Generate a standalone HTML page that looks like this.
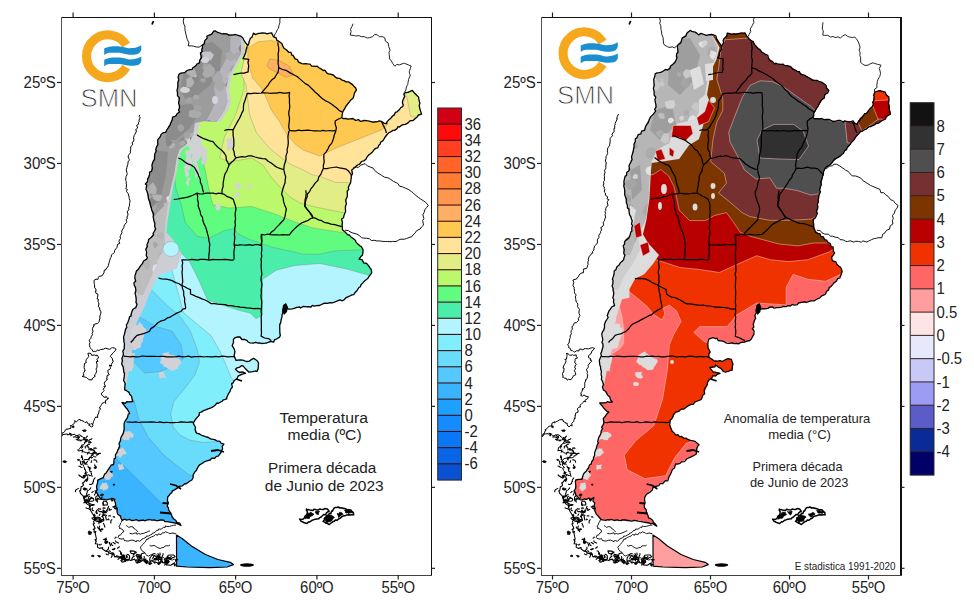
<!DOCTYPE html>
<html><head><meta charset="utf-8"><style>
html,body{margin:0;padding:0;background:#fff;}
svg{display:block;}
text{font-family:"Liberation Sans",sans-serif;fill:#222;}
.ax{font-size:16px;}
.cb{font-size:16px;}
.smn{font-size:26.5px;fill:#333;}
.t1{font-size:15.2px;}
.t2{font-size:13.5px;}
.st{font-size:10px;}
</style></head><body>
<svg width="974" height="610" viewBox="0 0 974 610">
<defs>
<clipPath id="clipL"><polygon points="202.3,45.0 207.7,36.8 214.9,30.5 221.6,33.9 238.6,35.2 242.5,38.5 247.1,45.7 253.0,33.9 271.4,33.3 273.4,36.6 279.3,41.8 284.5,48.4 292.1,54.4 301.0,63.3 317.2,66.2 329.0,73.6 339.3,78.8 352.6,83.9 357.0,89.8 352.6,97.2 346.7,106.1 342.3,113.4 340.8,117.9 352.6,119.3 360.0,120.8 381.8,121.6 386.4,123.9 388.7,119.3 402.5,106.7 404.5,92.2 412.6,90.7 418.5,96.6 420.8,113.6 415.1,119.3 400.2,126.2 388.7,133.1 384.1,138.9 372.6,152.6 358.9,164.1 353.1,168.7 350.8,177.9 348.5,189.3 346.2,201.5 345.1,213.0 341.6,219.8 342.8,230.2 349.7,235.9 361.2,247.4 363.4,253.1 360.0,258.9 368.0,265.7 371.5,271.5 370.3,276.1 361.2,284.1 354.3,294.0 344.0,299.5 330.0,303.0 317.5,305.5 299.0,307.5 287.4,309.5 283.9,306.1 281.6,317.5 279.3,329.0 280.5,335.9 273.6,341.6 262.1,343.9 248.4,341.6 237.7,336.9 232.8,339.8 232.8,345.7 234.8,351.7 234.3,356.6 236.8,359.5 242.7,361.0 248.6,361.5 251.5,359.0 256.4,359.0 258.4,363.5 258.4,369.4 254.5,371.8 249.6,371.3 246.6,368.4 241.7,365.4 235.8,368.4 237.7,371.3 245.6,372.8 238.7,376.3 232.8,382.2 230.9,389.0 226.1,399.3 210.4,407.2 199.9,412.5 193.4,423.0 197.3,433.4 210.4,438.7 223.5,443.9 220.9,454.4 210.4,459.7 199.9,464.9 195.0,472.0 191.4,480.0 184.0,484.0 177.4,487.8 171.0,493.0 168.0,497.0 167.5,503.0 168.0,508.0 172.7,517.4 180.5,525.2 163.3,520.5 122.9,519.8 116.8,511.3 115.1,498.4 101.3,499.3 96.2,492.4 97.0,480.3 102.6,478.4 114.1,462.0 119.0,445.6 123.9,429.2 125.6,419.3 130.5,412.8 122.3,403.0 133.8,401.3 132.1,396.4 125.6,389.8 123.9,380.0 124.0,374.0 121.8,360.0 124.5,347.0 124.0,334.0 128.0,322.0 131.8,311.0 136.5,305.0 135.2,290.2 134.8,281.0 136.9,271.8 141.5,264.9 147.2,258.0 146.1,248.9 148.4,239.7 153.0,235.1 155.2,228.2 154.1,219.0 150.7,207.5 147.2,193.8 146.3,183.4 151.6,168.7 155.3,154.0 158.5,139.0 167.2,129.5 173.1,117.7 179.0,111.8 178.9,100.0 177.1,85.5 178.9,74.7 191.5,69.3 200.5,60.3"/><polygon points="176.5,535.0 182.1,538.5 191.4,546.0 205.4,554.5 217.9,559.5 230.3,562.3 233.4,564.6 227.2,567.0 210.0,567.7 186.7,567.0 176.6,566.2"/></clipPath>
<clipPath id="clipR"><polygon points="202.3,45.0 207.7,36.8 214.9,30.5 221.6,33.9 238.6,35.2 242.5,38.5 247.1,45.7 253.0,33.9 271.4,33.3 273.4,36.6 279.3,41.8 284.5,48.4 292.1,54.4 301.0,63.3 317.2,66.2 329.0,73.6 339.3,78.8 352.6,83.9 357.0,89.8 352.6,97.2 346.7,106.1 342.3,113.4 340.8,117.9 352.6,119.3 360.0,120.8 381.8,121.6 386.4,123.9 388.7,119.3 402.5,106.7 404.5,92.2 412.6,90.7 418.5,96.6 420.8,113.6 415.1,119.3 400.2,126.2 388.7,133.1 384.1,138.9 372.6,152.6 358.9,164.1 353.1,168.7 350.8,177.9 348.5,189.3 346.2,201.5 345.1,213.0 341.6,219.8 342.8,230.2 349.7,235.9 361.2,247.4 363.4,253.1 360.0,258.9 368.0,265.7 371.5,271.5 370.3,276.1 361.2,284.1 354.3,294.0 344.0,299.5 330.0,303.0 317.5,305.5 299.0,307.5 287.4,309.5 283.9,306.1 281.6,317.5 279.3,329.0 280.5,335.9 273.6,341.6 262.1,343.9 248.4,341.6 237.7,336.9 232.8,339.8 232.8,345.7 234.8,351.7 234.3,356.6 236.8,359.5 242.7,361.0 248.6,361.5 251.5,359.0 256.4,359.0 258.4,363.5 258.4,369.4 254.5,371.8 249.6,371.3 246.6,368.4 241.7,365.4 235.8,368.4 237.7,371.3 245.6,372.8 238.7,376.3 232.8,382.2 230.9,389.0 226.1,399.3 210.4,407.2 199.9,412.5 193.4,423.0 197.3,433.4 210.4,438.7 223.5,443.9 220.9,454.4 210.4,459.7 199.9,464.9 195.0,472.0 191.4,480.0 184.0,484.0 177.4,487.8 171.0,493.0 168.0,497.0 167.5,503.0 168.0,508.0 172.7,517.4 180.5,525.2 163.3,520.5 122.9,519.8 116.8,511.3 115.1,498.4 101.3,499.3 96.2,492.4 97.0,480.3 102.6,478.4 114.1,462.0 119.0,445.6 123.9,429.2 125.6,419.3 130.5,412.8 122.3,403.0 133.8,401.3 132.1,396.4 125.6,389.8 123.9,380.0 124.0,374.0 121.8,360.0 124.5,347.0 124.0,334.0 128.0,322.0 131.8,311.0 136.5,305.0 135.2,290.2 134.8,281.0 136.9,271.8 141.5,264.9 147.2,258.0 146.1,248.9 148.4,239.7 153.0,235.1 155.2,228.2 154.1,219.0 150.7,207.5 147.2,193.8 146.3,183.4 151.6,168.7 155.3,154.0 158.5,139.0 167.2,129.5 173.1,117.7 179.0,111.8 178.9,100.0 177.1,85.5 178.9,74.7 191.5,69.3 200.5,60.3"/><polygon points="176.5,535.0 182.1,538.5 191.4,546.0 205.4,554.5 217.9,559.5 230.3,562.3 233.4,564.6 227.2,567.0 210.0,567.7 186.7,567.0 176.6,566.2"/></clipPath>
<clipPath id="gclipL"><polygon points="60.0,17.0 241.0,17.0 241.0,30.0 241.0,37.0 241.0,53.0 235.0,64.0 229.4,74.7 225.7,89.1 227.5,101.8 224.4,110.0 216.6,121.8 205.0,121.0 195.0,123.0 193.0,135.6 189.2,141.8 179.4,149.7 176.4,159.5 174.4,173.3 171.5,185.1 169.0,196.0 165.0,205.0 158.0,212.0 150.0,222.0 60.0,222.0"/></clipPath>
<clipPath id="gclipL2"><polygon points="60.0,190.0 169.5,195.0 167.6,208.7 165.6,220.6 164.6,232.4 165.0,245.0 158.0,262.0 150.0,280.0 143.0,295.0 60.0,300.0"/></clipPath>
<clipPath id="gclipR"><polygon points="80.8,17.0 221.8,17.0 238.2,37.7 243.2,47.5 240.1,59.3 234.2,71.1 232.1,82.9 230.0,94.7 223.7,100.0 223.7,111.8 219.5,119.7 201.4,123.6 195.4,135.4 193.3,143.2 185.2,147.2 179.1,153.1 175.1,160.9 173.1,178.6 172.1,198.3 169.0,219.9 161.1,235.0 152.9,255.0 80.8,255.0"/></clipPath>
<clipPath id="frL"><rect x="61" y="17" width="370" height="558"/></clipPath>
</defs>
<rect width="974" height="610" fill="#fff"/>
<g clip-path="url(#frL)">
<g clip-path="url(#clipL)">
<rect x="0" y="0" width="460" height="610" fill="#3ab4ff"/>
<polygon points="60.0,452.0 112.0,455.0 127.1,468.9 140.9,482.6 154.7,496.4 163.9,505.6 170.7,514.8 182.0,527.0 300.0,527.0 300.0,200.0 60.0,200.0" fill="#55c8ff" stroke="#666" stroke-opacity="0.35" stroke-width="0.8"/>
<polygon points="60.0,395.0 134.0,400.0 138.6,418.4 147.8,436.7 163.9,455.1 186.8,473.4 191.4,475.7 205.0,482.0 300.0,482.0 300.0,200.0 60.0,200.0" fill="#68dcfa" stroke="#666" stroke-opacity="0.35" stroke-width="0.8"/>
<polygon points="118.0,310.0 139.8,317.2 155.9,326.4 172.0,331.0 181.1,344.8 183.4,358.5 173.7,366.0 160.0,371.5 144.8,373.1 135.0,363.0 118.0,352.0" fill="#55c8ff" stroke="#666" stroke-opacity="0.35" stroke-width="0.8"/>
<polygon points="60.0,280.0 140.0,282.0 151.3,289.7 167.4,305.7 178.9,314.9 190.3,331.0 197.2,349.3 199.5,362.0 195.0,375.0 185.0,388.0 173.7,402.0 170.7,413.8 173.0,427.0 180.0,435.0 189.4,440.0 202.9,442.5 221.2,441.3 240.0,440.0 300.0,440.0 300.0,200.0 60.0,200.0" fill="#80eefb" stroke="#666" stroke-opacity="0.35" stroke-width="0.8"/>
<polygon points="60.0,245.0 165.0,250.0 169.7,262.1 176.6,287.4 181.1,303.4 183.4,312.6 197.2,324.1 211.0,335.6 220.2,351.6 226.0,365.0 231.4,378.0 240.0,390.0 400.0,390.0 400.0,200.0 60.0,200.0" fill="#b3f4ff" stroke="#666" stroke-opacity="0.35" stroke-width="0.8"/>
<polygon points="60.0,150.0 178.0,250.0 189.2,261.0 198.4,279.3 207.5,300.0 217.9,303.4 238.5,310.3 250.0,313.0 256.0,318.7 262.5,315.0 262.3,300.0 262.6,279.3 276.4,270.2 294.8,265.6 320.0,263.5 347.4,269.2 375.0,277.0 440.0,277.0 440.0,0.0 60.0,0.0" fill="#4aeeaa" stroke="#666" stroke-opacity="0.35" stroke-width="0.8"/>
<polygon points="60.0,150.0 172.0,160.0 174.4,175.0 176.0,189.0 181.3,204.8 185.3,222.6 197.1,236.3 208.9,238.3 224.6,230.4 234.5,228.4 237.4,233.4 248.9,239.2 271.8,247.2 290.0,251.0 303.8,254.3 320.0,254.1 335.9,250.8 365.0,249.7 440.0,249.0 440.0,0.0 60.0,0.0" fill="#60fc7f" stroke="#666" stroke-opacity="0.35" stroke-width="0.8"/>
<polygon points="60.0,100.0 180.0,130.0 192.0,140.0 199.0,147.7 205.0,169.4 208.9,189.0 212.8,204.8 228.9,208.0 251.8,206.5 274.8,214.0 294.8,222.0 313.0,227.9 345.0,233.0 440.0,233.0 440.0,0.0 60.0,0.0" fill="#bcf86c" stroke="#666" stroke-opacity="0.35" stroke-width="0.8"/>
<polygon points="244.0,20.0 244.0,90.0 242.6,93.8 235.7,114.4 224.3,137.4 219.7,158.0 228.9,162.0 251.8,158.0 263.0,165.0 271.0,177.0 281.0,188.0 290.0,197.0 300.0,203.0 313.0,206.5 345.0,213.0 440.0,213.0 440.0,0.0 244.0,0.0" fill="#e2ee85" stroke="#666" stroke-opacity="0.35" stroke-width="0.8"/>
<polygon points="250.0,20.0 246.0,50.0 244.0,60.0 241.0,73.0 246.0,85.0 249.5,114.4 256.4,132.8 270.2,148.9 281.6,158.0 290.0,164.0 301.6,169.2 313.0,175.0 320.0,176.5 335.9,182.5 352.0,182.5 440.0,182.0 440.0,0.0 250.0,0.0" fill="#ffe399" stroke="#666" stroke-opacity="0.35" stroke-width="0.8"/>
<polygon points="247.8,48.0 258.3,41.8 270.1,40.5 279.0,42.0 300.0,50.0 360.0,80.0 375.0,100.0 384.0,116.0 388.0,124.0 384.0,128.0 381.8,129.7 358.9,138.9 335.9,148.0 319.8,156.1 303.8,150.3 295.0,144.0 287.7,135.6 278.9,120.8 271.4,110.0 267.5,100.8 262.2,89.0 253.0,78.5 247.8,62.8" fill="#ffc850" stroke="#666" stroke-opacity="0.35" stroke-width="0.8"/>
<polygon points="270.0,58.9 278.9,60.3 289.2,66.2 293.6,75.1 286.2,77.3 278.9,73.6 270.0,69.2 266.8,65.4" fill="#fdb060" stroke="#666" stroke-opacity="0.35" stroke-width="0.8"/>
<polygon points="404.0,92.0 415.0,86.0 425.0,92.0 425.0,120.0 410.5,116.0 407.0,97.5" fill="#e2ee85" stroke="#666" stroke-opacity="0.35" stroke-width="0.8"/>
<polygon points="60.0,17.0 245.0,17.0 244.0,36.0 244.0,53.0 238.0,64.0 232.0,75.0 229.0,89.0 231.0,102.0 228.0,110.0 220.0,122.0 212.0,121.0 206.0,122.0 200.0,122.0 197.0,135.0 191.0,143.0 182.0,150.0 178.5,160.0 176.5,173.3 173.5,185.1 171.5,196.9 169.6,208.7 167.6,220.6 166.6,232.4 172.9,239.6 181.9,254.0 176.5,268.5 158.5,275.7 149.5,293.7 144.0,308.1 136.8,322.5 133.2,344.1 129.6,365.8 126.0,387.4 60.0,387.0" fill="#cdcdd6"/>
<polygon points="60.0,190.0 169.5,195.0 167.6,208.7 165.6,220.6 164.6,232.4 165.0,245.0 158.0,262.0 150.0,280.0 143.0,295.0 60.0,300.0" fill="#bdbdbd"/>
<polygon points="60.0,17.0 241.0,17.0 241.0,30.0 241.0,37.0 241.0,53.0 235.0,64.0 229.4,74.7 225.7,89.1 227.5,101.8 224.4,110.0 216.6,121.8 205.0,121.0 195.0,123.0 193.0,135.6 189.2,141.8 179.4,149.7 176.4,159.5 174.4,173.3 171.5,185.1 169.0,196.0 165.0,205.0 158.0,212.0 150.0,222.0 60.0,222.0" fill="#9c9c9c"/>
<ellipse cx="171" cy="249" rx="8" ry="7.5" fill="#b3f4ff" stroke="#888" stroke-opacity="0.4" stroke-width="0.8"/>
<polygon points="200.0,45.0 212.0,42.0 222.0,50.0 220.0,70.0 210.0,85.0 198.0,95.0 186.0,100.0 180.0,90.0 184.0,70.0" fill="#8c8c8c"/>
<polygon points="178.0,105.0 192.0,104.0 198.0,115.0 190.0,128.0 176.0,140.0 165.0,140.0 168.0,125.0" fill="#8c8c8c"/>
<polygon points="155.0,150.0 168.0,152.0 166.0,175.0 160.0,200.0 152.0,206.0 149.0,180.0" fill="#8c8c8c"/>
<polygon points="241.0,17.0 241.0,53.0 235.0,64.0 229.4,74.7 225.7,89.1 227.5,101.8 224.4,110.0 216.6,121.8 206.0,121.0 212.0,110.0 216.0,100.0 214.0,88.0 218.0,74.0 224.0,63.0 230.0,52.0 231.0,17.0" fill="#b4b4ba"/>
<g clip-path="url(#gclipL)">
<polygon points="144.1,44.7 142.8,48.4 139.9,48.4 137.2,44.7 139.4,41.7 143.0,40.5" fill="#888888"/>
<polygon points="156.8,189.5 155.9,194.5 152.4,193.9 148.3,193.4 145.3,189.5 148.9,186.4 152.4,182.2 155.1,185.0" fill="#b2b2b2"/>
<polygon points="212.4,68.0 211.3,70.6 208.4,72.6 205.0,72.0 202.1,68.0 203.6,63.2 208.4,63.6 211.2,64.1" fill="#a4a4a4"/>
<polygon points="231.7,84.9 229.6,86.7 226.7,88.1 224.9,84.9 226.9,82.5 229.7,82.5" fill="#888888"/>
<polygon points="202.4,46.0 200.0,49.0 198.0,47.6 196.2,46.0 197.4,43.0 200.3,43.6" fill="#888888"/>
<polygon points="196.8,195.4 193.8,198.8 192.0,199.3 189.5,198.9 187.4,196.6 188.1,194.3 188.2,192.7 191.8,191.9 193.7,191.9" fill="#aaaaaa"/>
<polygon points="215.9,142.0 215.9,144.4 213.3,145.7 210.4,145.7 208.8,143.1 208.9,140.6 209.9,139.4 213.2,137.1 215.0,139.7" fill="#aaaaaa"/>
<polygon points="165.8,215.9 164.2,217.7 160.8,219.9 158.9,217.4 158.6,214.2 160.9,213.6 163.5,212.9" fill="#8e8e8e"/>
<polygon points="166.0,96.0 166.9,100.3 162.5,102.0 159.3,99.7 157.2,96.0 160.1,93.4 162.5,90.2 167.0,93.2" fill="#aaaaaa"/>
<polygon points="224.7,86.1 222.8,90.3 219.5,91.8 216.1,89.0 213.7,86.1 216.0,82.1 219.5,79.9 223.5,81.3" fill="#aaaaaa"/>
<polygon points="226.7,107.6 225.1,110.6 222.5,111.2 220.5,109.2 220.8,106.6 222.4,105.0 225.3,104.8" fill="#b2b2b2"/>
<polygon points="159.1,30.5 156.9,33.5 153.6,33.4 151.5,30.5 152.8,27.2 155.9,27.2" fill="#c4c4ca"/>
<polygon points="215.5,71.7 212.9,76.5 209.1,77.0 205.5,78.3 202.1,74.2 204.4,69.4 205.4,67.0 209.5,65.1 213.9,67.4" fill="#aaaaaa"/>
<polygon points="188.5,142.3 188.3,146.1 185.7,147.8 182.5,146.1 180.7,144.6 179.3,140.2 182.3,137.0 185.8,138.8 189.2,138.2" fill="#8e8e8e"/>
<polygon points="156.3,207.3 155.5,209.8 152.2,213.1 148.7,210.7 147.9,207.3 148.9,204.9 152.2,203.1 156.4,203.8" fill="#aaaaaa"/>
<polygon points="157.2,175.6 155.9,178.5 151.6,180.7 148.4,177.5 147.7,173.0 151.8,172.4 155.6,172.9" fill="#8e8e8e"/>
<polygon points="194.8,137.5 192.4,141.6 188.5,142.9 184.2,139.7 186.1,135.3 189.1,132.9 193.6,132.8" fill="#b2b2b2"/>
<polygon points="235.1,55.7 234.6,59.3 230.6,61.6 227.4,59.2 226.5,56.9 224.6,53.6 227.9,52.4 230.6,51.2 233.2,53.5" fill="#aaaaaa"/>
<polygon points="184.6,41.6 183.1,43.1 181.6,45.0 179.1,42.9 179.0,40.6 181.5,38.5 183.7,39.0" fill="#aaaaaa"/>
<polygon points="202.4,114.0 198.7,117.8 193.7,117.9 188.7,116.7 188.9,110.8 193.7,109.5 197.7,109.6" fill="#aaaaaa"/>
<polygon points="192.5,100.5 192.0,102.6 189.1,103.3 187.0,102.7 185.0,100.5 187.0,98.5 189.1,96.4 191.3,98.9" fill="#a4a4a4"/>
<polygon points="218.9,228.8 217.9,231.1 214.6,232.4 211.1,234.5 207.8,230.5 210.0,227.3 211.1,224.9 214.4,223.5 217.0,225.1" fill="#c4c4ca"/>
<polygon points="205.9,80.3 204.4,82.5 203.2,82.6 201.4,81.9 200.1,80.3 201.3,78.3 203.2,78.5 204.7,78.1" fill="#a4a4a4"/>
<polygon points="172.5,79.8 172.1,81.9 169.7,82.3 168.2,81.1 167.3,78.7 169.4,77.9 172.0,78.1" fill="#888888"/>
<polygon points="189.1,37.7 189.0,39.4 186.3,39.9 184.5,39.1 184.1,36.4 186.3,34.7 189.0,35.8" fill="#c4c4ca"/>
<polygon points="193.1,171.1 191.3,174.6 187.8,173.3 186.9,171.1 187.5,168.3 191.1,167.8" fill="#c4c4ca"/>
<polygon points="200.1,157.6 198.8,160.2 196.6,161.2 194.7,160.3 193.8,157.6 194.6,154.7 196.6,154.9 199.6,154.8" fill="#a4a4a4"/>
<polygon points="228.1,174.9 226.3,178.0 224.2,177.7 222.1,176.7 220.5,174.9 222.1,172.1 224.2,172.2 227.2,171.8" fill="#8e8e8e"/>
<polygon points="204.1,177.8 201.7,182.5 195.8,181.7 193.8,177.8 195.8,174.7 201.5,172.2" fill="#8e8e8e"/>
<polygon points="248.8,223.5 246.8,225.2 244.6,225.9 242.0,226.7 241.0,223.5 242.6,221.3 244.6,220.3 246.7,220.8" fill="#8e8e8e"/>
<polygon points="156.4,202.3 153.9,206.0 150.0,207.8 146.1,204.5 146.1,200.7 149.9,197.7 153.9,198.0" fill="#888888"/>
<polygon points="197.0,75.8 195.2,77.7 192.4,78.4 190.1,75.8 192.1,73.1 195.4,73.0" fill="#c4c4ca"/>
<polygon points="212.1,161.0 211.5,164.2 207.8,167.5 204.5,165.2 202.1,162.2 202.1,159.4 204.5,155.6 207.4,156.3 211.7,158.1" fill="#8e8e8e"/>
<polygon points="213.5,221.7 213.1,223.0 211.2,223.7 209.9,223.4 209.7,221.7 209.2,219.8 211.2,218.9 213.3,220.3" fill="#8e8e8e"/>
<polygon points="237.2,128.7 235.7,130.2 234.4,131.5 232.2,131.4 231.3,129.7 231.7,127.5 232.7,126.8 234.3,126.5 236.3,127.0" fill="#888888"/>
<polygon points="190.8,32.4 191.5,37.6 186.3,37.2 181.0,34.2 182.5,30.5 186.1,27.2 189.7,29.2" fill="#c4c4ca"/>
<polygon points="223.1,151.4 221.7,153.4 219.4,154.7 217.5,152.6 218.3,150.1 219.3,148.7 221.9,149.9" fill="#aaaaaa"/>
<polygon points="221.9,223.0 222.4,226.8 218.8,228.0 215.5,227.1 215.1,224.7 213.0,221.3 215.2,217.9 218.9,219.0 221.5,220.7" fill="#8e8e8e"/>
<polygon points="188.1,60.6 185.5,62.9 183.5,63.2 180.9,62.1 180.7,59.6 183.6,58.0 186.1,58.6" fill="#a4a4a4"/>
<polygon points="172.4,65.0 170.6,68.2 166.3,67.9 163.8,65.0 166.3,62.7 170.5,62.2" fill="#a4a4a4"/>
<polygon points="239.8,209.1 237.8,212.1 234.3,213.1 231.7,209.1 234.3,207.0 237.3,205.8" fill="#888888"/>
<polygon points="198.5,97.0 199.1,98.7 197.0,99.4 195.0,99.6 193.1,97.9 193.5,95.9 195.3,94.3 196.8,95.2 198.4,95.4" fill="#aaaaaa"/>
<polygon points="235.6,75.1 237.1,77.3 233.0,80.4 228.8,78.8 227.0,76.3 228.6,73.6 229.8,71.8 233.1,70.9 234.6,71.6" fill="#c4c4ca"/>
<polygon points="145.2,153.0 143.5,155.2 140.8,156.1 137.8,156.4 137.2,154.0 136.8,151.8 138.0,149.8 140.6,149.7 142.9,149.7" fill="#a4a4a4"/>
<polygon points="170.8,100.7 170.5,102.7 167.3,103.2 165.8,102.5 165.0,99.5 167.1,96.7 170.2,96.9" fill="#888888"/>
<polygon points="155.1,65.3 153.8,67.6 152.5,67.1 150.1,67.2 150.6,65.3 150.4,63.1 152.5,62.1 153.8,63.0" fill="#8e8e8e"/>
<polygon points="182.6,66.9 182.3,69.3 179.3,70.3 176.7,71.2 174.0,67.8 175.4,65.4 176.8,63.0 179.6,64.2 182.1,64.8" fill="#c4c4ca"/>
<polygon points="183.2,219.3 180.9,222.0 177.9,223.5 174.8,219.3 177.8,217.2 180.9,217.0" fill="#a4a4a4"/>
<polygon points="188.8,47.8 187.9,49.6 185.5,51.9 184.0,49.7 182.1,48.7 182.9,46.6 183.3,45.7 185.8,45.7 187.8,45.4" fill="#8e8e8e"/>
<polygon points="178.0,27.7 177.6,29.9 176.3,29.8 174.8,30.9 174.1,28.7 172.5,26.6 175.0,24.9 176.4,25.4 177.6,26.3" fill="#a4a4a4"/>
<polygon points="144.1,190.3 143.4,192.8 141.3,192.7 139.1,193.4 137.0,191.7 137.0,189.2 138.8,187.7 141.1,187.0 143.1,188.3" fill="#b2b2b2"/>
<polygon points="193.8,223.0 191.7,226.2 188.6,226.2 185.1,225.0 186.0,221.8 188.6,219.1 192.0,219.6" fill="#c4c4ca"/>
<polygon points="163.1,81.4 160.5,84.4 158.0,87.0 154.0,84.9 152.3,83.2 152.4,80.1 153.5,76.9 157.6,77.4 160.9,78.7" fill="#b2b2b2"/>
<polygon points="228.5,117.0 225.6,120.3 222.2,120.8 219.4,117.0 222.1,112.6 226.3,113.2" fill="#a4a4a4"/>
<polygon points="217.0,126.2 216.0,127.6 214.0,128.6 211.7,127.4 212.3,126.2 212.8,124.6 214.0,123.2 216.2,124.9" fill="#b2b2b2"/>
<polygon points="149.6,26.8 148.3,30.1 145.8,29.2 143.1,28.2 143.5,25.3 146.1,24.2 148.4,24.0" fill="#a4a4a4"/>
<polygon points="162.6,51.8 160.1,55.1 156.6,58.5 152.4,55.6 151.0,53.9 150.1,49.8 153.6,47.5 156.5,44.6 161.4,49.1" fill="#b2b2b2"/>
<polygon points="182.9,168.0 182.1,169.5 180.1,170.9 178.6,170.4 176.7,169.2 176.0,166.9 178.6,165.3 180.3,165.6 182.5,166.4" fill="#c4c4ca"/>
<polygon points="183.8,191.2 183.7,194.4 178.9,197.8 175.5,196.2 172.2,191.2 173.7,187.8 178.9,184.4 183.1,187.4" fill="#8e8e8e"/>
<polygon points="172.3,36.4 170.3,38.7 169.1,40.0 167.2,39.9 164.4,37.6 165.4,35.6 167.0,32.8 168.9,33.1 171.5,34.5" fill="#c4c4ca"/>
<polygon points="236.4,143.7 235.8,145.0 234.2,146.3 232.6,144.5 233.1,142.9 234.2,141.9 236.3,141.5" fill="#888888"/>
<polygon points="238.5,69.5 237.5,72.9 234.0,73.6 231.1,72.6 229.6,69.5 231.2,66.4 234.0,65.1 237.6,66.8" fill="#a4a4a4"/>
<polygon points="220.1,236.7 219.1,240.2 215.5,241.7 212.2,240.2 212.2,236.7 212.9,234.3 215.5,231.0 219.5,233.5" fill="#8e8e8e"/>
<polygon points="198.2,80.3 196.1,83.5 193.4,83.9 191.5,82.6 190.7,80.3 190.6,76.9 193.4,76.5 195.4,77.3" fill="#888888"/>
<polygon points="212.2,122.8 210.4,125.1 208.6,125.1 206.7,125.9 205.3,123.6 205.6,121.9 206.6,120.9 208.8,119.8 210.9,121.2" fill="#888888"/>
<polygon points="192.9,139.1 192.3,140.5 190.4,140.9 188.7,140.1 188.3,138.1 190.4,137.0 192.2,137.5" fill="#8e8e8e"/>
<polygon points="214.3,131.8 211.4,135.2 209.3,136.1 205.7,135.2 204.5,131.8 206.4,129.1 209.3,128.7 212.8,129.7" fill="#888888"/>
<polygon points="236.6,224.7 236.1,226.1 233.7,227.0 231.4,226.2 232.0,223.6 233.5,221.8 236.0,222.0" fill="#c4c4ca"/>
<polygon points="236.4,218.0 236.6,221.0 232.4,223.0 228.9,219.8 229.2,216.6 231.9,212.6 235.2,213.9" fill="#a4a4a4"/>
<polygon points="175.1,145.1 175.0,146.8 172.3,148.2 169.9,148.7 168.6,146.4 169.5,144.3 169.8,142.4 172.5,142.7 174.8,143.4" fill="#b2b2b2"/>
<polygon points="172.9,142.4 169.7,146.3 167.2,146.2 165.5,142.4 167.0,139.5 170.3,140.2" fill="#888888"/>
<polygon points="222.6,78.0 221.3,83.3 218.1,82.0 213.3,81.7 212.0,78.0 215.1,73.9 218.1,70.8 221.8,74.7" fill="#aaaaaa"/>
<polygon points="243.4,128.9 240.6,131.3 237.8,133.2 235.2,130.7 235.7,127.2 238.2,125.5 241.5,125.0" fill="#8e8e8e"/>
<polygon points="152.0,107.6 151.3,110.9 145.9,113.7 141.1,110.2 142.4,105.4 146.0,103.8 151.3,104.7" fill="#888888"/>
<polygon points="243.2,48.3 243.0,51.2 240.4,51.9 238.8,49.8 238.9,46.9 240.7,44.6 243.5,46.2" fill="#888888"/>
<polygon points="210.2,127.3 211.1,131.9 206.8,132.4 202.8,130.9 201.1,129.2 201.0,124.8 203.3,121.8 206.9,120.8 210.9,123.0" fill="#c4c4ca"/>
<polygon points="208.8,140.4 205.0,145.2 201.3,146.1 198.0,144.0 195.9,140.4 198.2,135.2 201.3,135.4 205.7,135.2" fill="#a4a4a4"/>
<polygon points="245.1,56.8 242.7,60.9 239.5,61.7 235.5,60.3 234.0,56.8 235.8,52.6 239.5,51.6 243.0,53.9" fill="#aaaaaa"/>
<polygon points="155.2,96.8 153.3,99.7 148.9,100.1 146.1,99.0 145.1,94.6 149.1,93.0 153.7,93.3" fill="#a4a4a4"/>
<polygon points="143.6,92.7 143.9,96.0 139.9,95.4 136.6,94.5 136.7,91.4 140.0,89.9 142.3,90.4" fill="#c4c4ca"/>
<polygon points="246.8,188.1 244.8,191.0 242.4,191.6 240.9,189.4 240.9,186.6 242.4,185.7 244.6,186.3" fill="#c4c4ca"/>
<polygon points="205.5,131.4 204.4,133.7 201.0,134.5 198.0,132.6 197.8,130.0 200.8,127.9 203.4,129.1" fill="#a4a4a4"/>
<polygon points="243.4,113.1 241.0,115.7 237.2,119.6 232.9,117.2 231.8,115.4 231.2,111.2 233.5,108.5 237.4,107.7 240.8,109.3" fill="#888888"/>
<polygon points="219.3,137.5 219.4,141.2 216.0,140.0 214.7,139.0 213.6,136.4 215.8,134.0 218.7,135.2" fill="#a4a4a4"/>
<polygon points="247.7,202.0 247.0,205.5 244.6,205.9 241.7,205.5 239.9,203.6 239.4,200.3 242.1,198.4 244.7,197.3 247.9,199.4" fill="#aaaaaa"/>
<polygon points="201.8,107.9 200.4,110.1 197.8,112.1 195.6,111.2 194.4,109.1 193.2,106.9 195.9,104.6 198.1,105.5 200.6,105.4" fill="#a4a4a4"/>
<polygon points="220.3,231.8 218.9,233.9 216.3,235.7 214.3,235.3 211.6,232.9 213.1,230.5 213.5,227.4 216.1,229.0 218.4,230.1" fill="#8e8e8e"/>
<polygon points="176.0,234.5 175.0,236.7 171.2,237.8 168.6,236.0 169.3,232.3 170.8,230.0 174.8,231.9" fill="#a4a4a4"/>
<polygon points="145.6,49.9 144.5,52.8 142.7,54.0 139.8,52.9 139.2,49.9 139.8,47.3 142.7,45.8 145.2,47.2" fill="#c4c4ca"/>
<polygon points="197.5,238.3 194.4,241.0 191.1,242.1 188.5,240.3 188.6,236.9 191.2,235.1 193.9,235.4" fill="#a4a4a4"/>
<polygon points="178.7,59.5 179.1,62.2 175.0,64.0 171.4,62.6 169.5,59.5 171.6,56.3 175.0,52.6 179.2,55.0" fill="#aaaaaa"/>
<polygon points="149.4,76.4 148.6,78.5 146.7,78.3 145.5,76.4 146.6,74.2 149.2,74.5" fill="#a4a4a4"/>
<polygon points="240.9,126.9 237.9,130.3 234.8,134.1 230.1,131.9 229.3,128.4 229.8,125.5 230.9,122.5 234.5,120.6 237.0,123.7" fill="#c4c4ca"/>
<polygon points="190.6,135.1 188.8,137.2 187.2,137.4 185.2,137.6 184.1,135.1 184.9,132.7 187.2,131.8 189.9,132.9" fill="#a4a4a4"/>
<polygon points="184.2,127.7 183.8,129.8 180.6,131.9 177.8,129.4 177.5,125.9 180.6,123.8 183.1,125.3" fill="#a4a4a4"/>
<polygon points="194.5,82.2 193.1,84.7 190.5,87.6 186.3,86.5 186.6,82.2 186.2,79.4 190.5,76.2 193.2,79.7" fill="#b2b2b2"/>
<polygon points="186.5,89.5 185.2,90.8 183.7,91.2 182.3,91.4 181.4,89.5 181.9,87.2 183.7,86.5 185.8,87.7" fill="#c4c4ca"/>
<polygon points="224.1,180.1 222.7,184.8 216.5,185.0 213.8,180.1 216.5,175.3 221.9,174.0" fill="#aaaaaa"/>
<polygon points="161.8,80.6 158.4,83.7 155.8,84.9 153.3,83.8 152.0,80.6 151.6,77.3 155.8,77.2 159.6,77.5" fill="#aaaaaa"/>
<polygon points="172.8,31.2 172.6,33.9 170.3,33.3 168.6,32.9 168.3,31.2 168.4,28.5 170.3,28.2 173.0,29.6" fill="#c4c4ca"/>
<polygon points="192.3,187.6 191.3,190.0 187.1,192.6 184.4,191.9 179.8,189.2 182.7,185.8 183.9,183.0 187.7,183.1 189.9,184.7" fill="#8e8e8e"/>
<polygon points="176.0,206.2 172.4,209.0 168.1,211.4 165.5,208.2 163.6,204.0 168.2,201.3 171.7,202.6" fill="#c4c4ca"/>
<polygon points="230.4,150.1 229.0,154.1 225.2,155.4 221.3,152.3 221.8,148.3 225.1,146.0 229.9,147.1" fill="#8e8e8e"/>
<polygon points="164.9,239.8 163.8,242.9 160.5,244.9 156.9,243.8 154.1,241.0 155.3,238.0 157.9,235.2 160.3,234.7 163.9,236.5" fill="#888888"/>
<polygon points="195.8,72.1 195.8,75.4 192.4,76.2 188.7,75.2 186.7,73.3 185.7,70.6 188.9,68.6 192.2,68.7 193.9,68.1" fill="#b2b2b2"/>
<polygon points="157.4,77.5 157.2,79.1 155.3,80.4 153.4,79.2 151.8,78.5 152.5,76.5 153.7,75.7 155.3,75.0 157.2,76.1" fill="#aaaaaa"/>
<polygon points="214.0,54.9 210.8,60.3 205.9,60.5 203.5,57.2 201.5,52.2 205.9,51.4 210.4,51.6" fill="#c4c4ca"/>
<polygon points="164.5,122.5 163.6,126.7 158.6,127.7 153.3,125.2 155.2,119.3 158.7,117.2 164.2,117.1" fill="#aaaaaa"/>
<polygon points="182.4,65.6 179.9,67.9 175.9,69.2 175.2,65.6 176.2,62.3 179.3,63.3" fill="#aaaaaa"/>
<polygon points="185.6,143.3 183.9,144.8 182.8,146.1 181.1,145.0 179.7,144.3 179.5,142.2 180.7,141.4 182.7,140.4 184.9,141.5" fill="#aaaaaa"/>
</g>
<g clip-path="url(#gclipL2)">
<polygon points="165.3,261.4 164.3,264.3 161.4,266.5 157.7,263.9 156.9,261.4 158.9,258.2 161.4,257.6 164.2,257.8" fill="#cfcfd4"/>
<polygon points="182.4,266.1 180.5,268.2 177.3,271.4 174.9,268.4 172.2,266.1 175.2,263.6 177.3,262.7 179.2,263.2" fill="#e0e0e4"/>
<polygon points="163.9,235.8 162.6,239.8 159.2,238.2 156.1,235.8 158.8,233.0 162.8,232.3" fill="#b4b4b4"/>
<polygon points="158.5,244.7 156.7,246.5 155.6,247.9 154.2,247.7 153.4,245.7 152.7,243.9 153.4,242.0 155.6,242.0 157.5,243.5" fill="#a8a8a8"/>
<polygon points="181.1,292.7 180.2,294.9 178.7,295.2 177.5,294.4 175.6,292.7 177.4,291.2 178.7,289.9 180.3,290.7" fill="#e0e0e4"/>
<polygon points="180.4,240.6 178.6,244.0 175.7,245.1 173.4,242.6 172.3,240.6 172.8,238.3 175.7,235.4 177.7,236.9" fill="#a8a8a8"/>
<polygon points="166.1,299.5 162.8,301.8 159.3,302.6 157.2,299.5 160.1,296.3 163.6,296.7" fill="#a8a8a8"/>
<polygon points="178.8,272.8 175.4,275.2 171.4,276.7 170.3,272.8 172.1,269.6 176.0,269.3" fill="#d6d6d8"/>
<polygon points="180.7,250.4 179.9,253.9 177.7,254.4 174.6,252.8 174.9,250.4 175.2,247.8 177.7,246.9 181.2,248.5" fill="#b4b4b4"/>
<polygon points="166.5,255.1 165.4,259.2 163.0,258.4 158.9,258.5 157.2,255.1 159.2,253.0 163.0,249.9 166.1,251.4" fill="#b4b4b4"/>
<polygon points="167.1,273.9 167.8,276.5 164.8,277.4 161.5,278.4 159.7,275.1 159.6,272.1 161.4,270.5 164.6,271.0 167.6,271.9" fill="#d6d6d8"/>
<polygon points="177.7,205.9 176.9,207.8 175.4,207.6 173.7,207.9 172.4,205.9 174.2,203.8 175.4,203.0 177.0,204.4" fill="#cfcfd4"/>
<polygon points="138.3,296.5 137.2,298.9 134.7,299.3 131.9,297.6 133.1,295.4 134.5,294.0 137.6,293.5" fill="#e0e0e4"/>
<polygon points="176.8,215.4 176.1,217.6 173.5,217.8 171.6,216.5 171.1,214.0 173.4,212.0 176.7,212.9" fill="#e0e0e4"/>
<polygon points="150.7,225.4 150.2,226.9 148.9,228.0 147.5,226.3 147.6,224.6 148.9,223.9 150.2,223.7" fill="#a8a8a8"/>
<polygon points="146.4,298.8 145.7,299.8 144.6,301.0 143.3,300.9 142.6,299.6 142.6,298.0 143.6,297.4 144.7,296.9 146.0,297.2" fill="#d6d6d8"/>
<polygon points="180.7,292.5 181.1,294.9 178.3,296.9 175.7,295.5 175.2,293.8 174.1,291.5 175.9,289.8 178.4,289.0 180.9,290.7" fill="#e0e0e4"/>
<polygon points="141.9,264.8 140.7,266.6 138.6,266.7 137.3,264.8 138.4,262.8 140.9,262.9" fill="#cfcfd4"/>
<polygon points="173.4,234.9 172.8,237.1 170.7,238.0 167.5,238.6 167.2,234.9 167.5,232.1 170.7,231.9 173.7,232.7" fill="#e0e0e4"/>
<polygon points="162.1,282.4 161.9,284.6 159.8,285.1 158.3,283.3 158.1,281.6 159.9,280.2 162.1,280.8" fill="#d6d6d8"/>
<polygon points="139.3,207.4 138.0,209.7 135.3,209.4 133.5,208.5 133.8,206.3 135.2,205.2 137.2,205.5" fill="#d6d6d8"/>
<polygon points="137.3,268.7 137.0,270.5 135.5,272.2 133.8,270.9 132.9,268.7 133.8,266.4 135.5,265.7 138.0,267.0" fill="#e0e0e4"/>
<polygon points="178.7,292.1 177.6,294.6 175.0,297.0 171.3,295.5 169.7,292.1 172.3,289.1 175.0,287.8 178.0,288.6" fill="#cfcfd4"/>
<polygon points="142.7,262.4 142.0,264.8 139.0,264.9 136.1,265.2 135.4,262.4 136.2,260.2 139.0,259.2 142.0,259.4" fill="#a8a8a8"/>
<polygon points="172.4,297.5 169.3,301.5 166.3,301.2 162.1,298.8 163.3,295.2 166.1,292.2 169.5,294.0" fill="#d6d6d8"/>
<polygon points="159.0,286.6 156.2,290.8 152.5,289.0 149.8,286.6 152.8,284.4 156.8,283.2" fill="#d6d6d8"/>
<polygon points="137.5,245.4 137.1,248.1 134.4,250.5 132.5,248.4 131.4,245.4 131.5,241.8 134.4,240.2 136.6,243.4" fill="#cfcfd4"/>
<polygon points="159.5,276.6 158.0,279.0 156.3,280.0 153.9,278.6 152.5,277.4 152.9,275.8 154.1,273.3 156.0,274.3 158.0,274.9" fill="#b4b4b4"/>
<polygon points="151.3,196.2 151.1,197.8 149.8,198.6 148.6,197.2 147.9,196.2 148.5,195.1 149.8,194.4 151.1,194.9" fill="#a8a8a8"/>
<polygon points="150.1,264.7 150.2,267.2 146.2,270.2 143.9,266.6 142.8,262.7 145.8,261.4 150.3,260.1" fill="#b4b4b4"/>
<polygon points="175.9,199.5 173.8,202.1 170.4,203.0 168.4,201.7 166.5,199.5 166.5,197.1 170.4,195.1 172.9,196.0" fill="#e0e0e4"/>
<polygon points="148.9,233.2 147.1,235.4 145.6,235.3 143.4,235.1 141.9,234.5 142.6,232.0 143.8,230.1 145.8,230.1 147.7,231.9" fill="#d6d6d8"/>
<polygon points="171.4,227.6 170.1,228.8 169.0,230.7 167.7,230.3 166.3,228.8 166.0,226.5 167.7,224.8 169.1,225.8 171.2,226.2" fill="#a8a8a8"/>
<polygon points="142.2,236.3 140.6,238.1 137.1,238.3 135.8,236.3 137.4,233.4 139.9,233.2" fill="#a8a8a8"/>
<polygon points="162.3,197.0 160.1,201.0 156.0,201.1 153.1,198.4 152.0,194.8 155.6,194.2 159.8,192.8" fill="#b4b4b4"/>
<polygon points="187.3,268.8 184.8,271.2 182.8,272.5 179.7,272.0 178.4,268.8 180.8,265.3 182.8,264.4 185.3,266.3" fill="#d6d6d8"/>
<polygon points="163.8,256.9 163.5,258.0 161.5,259.2 160.1,258.3 159.2,256.9 159.6,255.4 161.5,254.0 163.4,255.7" fill="#d6d6d8"/>
<polygon points="175.7,290.6 174.4,293.3 172.5,293.6 170.1,293.2 169.5,290.6 170.6,288.4 172.5,288.6 174.6,288.8" fill="#e0e0e4"/>
<polygon points="161.9,278.4 160.8,280.8 156.3,281.1 155.0,278.4 156.2,275.8 160.4,275.0" fill="#b4b4b4"/>
<polygon points="158.8,269.2 157.2,271.9 153.0,273.3 152.5,269.2 153.4,265.1 157.5,264.1" fill="#e0e0e4"/>
</g>
<polygon points="192.2,136.3 194.2,135.7 195.7,136.3 199.0,135.0 200.9,135.0 200.9,137.3 201.6,137.2 200.8,139.7 202.4,140.3 201.6,143.1 201.7,143.8 202.5,145.8 204.0,146.4 204.0,148.9 204.6,150.1 204.0,151.3 202.3,152.5 202.3,154.5 200.6,155.4 200.6,157.7 199.9,158.8 198.7,159.9 198.4,161.1 196.4,161.5 195.3,159.3 193.0,159.6 192.3,158.7 192.7,156.4 192.9,155.4 191.9,153.3 191.5,151.8 193.2,149.8 192.6,148.3 191.7,147.8 192.1,145.2 192.0,144.8 192.9,142.1 192.3,142.3 192.4,140.1 192.8,139.0 193.0,137.0" fill="#d2d2d6"/>
<polygon points="186.2,150.5 187.6,149.9 188.4,150.2 191.1,150.8 191.1,152.8 191.3,154.2 190.9,154.9 191.0,157.1 191.5,158.3 191.6,160.2 190.7,161.2 190.7,161.8 191.3,164.2 191.1,165.0 190.4,166.9 190.6,167.7 189.7,170.0 187.7,170.6 187.4,170.9 185.8,171.7 183.5,171.7 185.0,170.1 184.2,168.1 183.9,166.7 185.3,166.1 185.4,165.0 185.1,163.3 185.1,160.9 185.9,160.2 186.1,157.8 185.9,156.1 186.5,155.5 185.3,153.9 185.3,150.8 186.0,150.0" fill="#d2d2d6"/>
<polygon points="203.4,145.6 204.3,147.3 204.7,148.4 206.3,148.9 207.7,150.4 208.2,151.1 206.9,152.6 207.2,153.7 206.6,156.5 207.4,158.4 207.7,159.7 206.4,159.9 206.1,161.9 206.2,163.6 205.7,165.6 204.6,163.7 204.7,163.1 202.6,160.8 202.6,159.1 201.4,158.5 202.3,156.3 201.5,154.8 202.9,153.7 203.4,152.7 203.5,149.8 202.2,148.2 202.8,147.3 203.0,146.0" fill="#d2d2d6"/>
<polygon points="130.2,330.1 131.4,328.7 132.8,328.5 134.2,326.6 134.7,325.9 136.9,325.3 138.5,324.6 138.4,322.3 140.5,322.5 141.0,323.9 142.1,324.3 142.4,325.1 144.3,328.0 145.7,328.6 146.3,330.8 146.1,331.7 144.8,333.0 143.9,333.9 144.3,336.9 143.6,337.3 142.7,338.9 143.0,340.4 142.8,341.4 141.2,343.5 140.8,345.6 141.1,347.3 140.2,347.2 138.5,348.5 136.8,348.4 135.6,349.9 132.9,349.9 131.8,350.0 132.6,349.3 132.1,346.4 132.5,344.8 131.5,344.4 131.3,341.9 132.3,341.6 131.1,339.0 131.0,337.0 130.9,337.0 130.5,334.1 130.6,332.3 131.1,332.0 131.0,330.0" fill="#d2d2d6"/>
<polygon points="127.6,352.2 129.2,351.5 129.8,353.6 131.0,352.8 133.4,353.2 135.1,353.2 134.3,356.3 133.9,357.7 133.7,359.4 134.3,360.3 133.1,360.7 134.0,362.4 132.7,365.1 133.7,365.2 133.6,367.6 132.3,368.3 132.1,371.4 131.6,371.3 129.6,370.8 128.2,371.7 126.0,369.9 125.8,370.9 126.0,368.0 125.1,367.8 125.5,365.9 125.3,363.1 125.6,362.9 126.5,361.1 126.1,359.6 126.2,358.1 127.1,356.0 126.8,355.8 127.5,352.9 127.0,352.0" fill="#d2d2d6"/>
<polygon points="162.8,355.6 162.9,353.8 164.5,352.7 167.4,352.6 168.7,351.3 168.6,353.7 171.5,354.9 172.8,355.0 174.5,355.3 175.5,356.7 176.2,357.8 177.9,358.4 179.4,358.9 180.7,360.2 181.3,362.4 180.5,363.8 178.8,365.7 178.2,365.7 178.0,368.4 176.2,369.0 174.6,370.3 173.4,370.2 172.1,371.7 171.4,370.1 168.9,369.2 166.7,367.9 166.6,367.5 164.0,366.6 163.4,365.9 162.2,363.5 161.3,363.7 159.9,362.7 160.9,360.0 160.6,358.5 161.3,356.5 162.0,355.0" fill="#d2d2d6"/>
<polygon points="158.3,373.7 159.7,372.1 160.5,372.3 162.7,371.6 163.2,371.7 164.1,372.7 165.1,375.8 165.6,376.9 166.6,378.6 165.2,377.9 163.3,377.3 162.2,377.8 160.0,378.7 158.9,375.8 159.2,374.8 158.0,373.0" fill="#d2d2d6"/>
<polygon points="122.3,432.2 124.5,431.6 127.1,431.4 127.8,431.3 130.0,430.9 131.2,432.5 131.9,432.8 133.9,435.1 133.3,435.9 133.0,437.9 130.2,437.1 129.5,438.9 128.7,440.6 125.9,439.6 124.6,440.2 122.2,439.1 120.3,439.3 120.6,438.3 122.0,436.1 121.8,434.0 123.0,433.0" fill="#d2d2d6"/>
<polygon points="116.9,449.6 118.8,448.4 121.4,448.8 122.3,447.7 123.6,448.7 124.0,449.7 125.5,451.1 126.5,453.7 125.4,454.4 123.0,454.2 122.1,455.7 120.4,457.7 119.0,457.3 118.8,455.8 117.2,456.1 114.5,455.4 114.7,454.2 115.8,453.1 117.1,450.0 117.0,449.0" fill="#d2d2d6"/>
<polygon points="117.8,464.8 119.1,464.2 120.9,464.7 122.7,463.3 122.8,465.6 123.8,466.9 124.4,468.5 122.6,469.5 120.1,470.1 118.8,470.1 118.8,468.6 118.2,465.9 118.0,465.0" fill="#d2d2d6"/>
<polygon points="104.5,471.6 105.5,470.9 106.6,471.2 108.8,469.7 110.6,470.9 110.5,472.4 111.5,472.4 112.6,474.2 113.4,476.2 111.0,477.1 111.1,478.0 109.3,479.7 107.9,480.0 106.5,479.9 104.1,477.9 103.5,478.1 102.9,477.0 104.2,474.6 104.6,473.4 104.0,471.0" fill="#d2d2d6"/>
<polygon points="102.4,482.6 102.8,483.3 105.8,482.7 107.0,483.1 107.2,485.0 108.4,486.1 108.3,488.1 107.0,489.4 105.1,489.8 103.5,490.8 102.1,489.3 99.2,489.0 100.0,487.5 100.4,485.3 101.6,485.3 102.0,483.0" fill="#d2d2d6"/>
<polygon points="226.7,140.0 227.3,138.7 228.6,138.7 231.3,137.8 232.8,138.0 232.2,139.2 233.5,140.8 233.1,143.0 232.8,144.2 234.5,146.9 234.4,148.7 231.8,148.9 231.5,148.5 229.4,150.4 227.7,150.5 227.1,148.6 226.9,146.7 226.8,145.7 227.1,143.3 226.7,141.5 226.0,140.0" fill="#d2d2d6"/>
<polygon points="186.5,139.6 188.1,139.2 189.8,137.2 190.0,139.7 190.7,141.3 191.8,143.0 193.0,144.0 192.8,144.2 193.7,146.8 195.0,147.3 194.2,150.1 195.8,150.6 196.4,151.4 194.7,153.6 193.5,154.1 191.3,156.2 192.1,153.9 190.0,152.3 190.9,151.4 189.7,151.1 189.5,148.3 189.1,146.4 187.8,146.2 187.0,143.5 187.1,142.6 187.4,140.7 186.0,140.0" fill="#d2d2d6"/>
<polygon points="192.5,155.8 193.8,156.9 194.8,157.7 195.3,158.9 197.5,159.7 196.8,161.4 196.9,162.9 198.0,164.9 198.4,166.0 197.6,167.1 198.5,169.1 199.2,170.8 199.9,173.0 200.0,174.8 200.0,175.9 197.7,176.2 196.5,178.0 195.0,177.2 195.6,175.1 195.0,172.6 195.8,171.1 194.3,171.0 193.6,168.6 194.0,166.5 194.5,165.3 192.5,163.8 192.3,162.7 193.5,161.4 191.8,159.5 191.9,157.5 192.0,156.0" fill="#d2d2d6"/>
<polygon points="200.6,145.6 201.7,147.6 202.9,149.5 204.2,150.8 204.5,150.9 205.6,153.3 205.8,154.8 205.6,155.6 205.8,158.0 206.4,158.7 204.9,161.5 206.6,162.7 206.3,164.5 205.8,165.9 204.2,164.2 201.7,164.4 201.5,162.5 201.4,160.7 202.0,159.9 202.5,158.0 201.0,156.2 200.7,154.5 201.6,153.7 200.9,151.4 200.5,149.9 201.2,148.6 201.8,147.6 201.0,146.0" fill="#d2d2d6"/>
<polygon points="186.7,175.9 187.7,177.4 190.5,177.8 190.2,179.2 189.1,180.7 188.9,183.0 189.5,184.8 188.3,186.5 187.5,184.8 186.0,183.9 185.7,182.2 186.7,181.2 187.3,178.6 187.5,178.1 187.0,176.0" fill="#d2d2d6"/>
<ellipse cx="185" cy="90" rx="5" ry="3" fill="#d4d4d8"/>
<ellipse cx="205" cy="60" rx="4" ry="3" fill="#d4d4d8"/>
<ellipse cx="215" cy="100" rx="3" ry="4" fill="#d4d4d8"/>
<ellipse cx="238" cy="186" rx="3" ry="3" fill="#d4d4d8"/>
<ellipse cx="237" cy="195" rx="2" ry="3" fill="#d4d4d8"/>
<ellipse cx="218" cy="207" rx="2.5" ry="3.5" fill="#d4d4d8"/>
<ellipse cx="190" cy="162" rx="2.5" ry="3" fill="#d4d4d8"/>
<ellipse cx="187" cy="174" rx="2" ry="3" fill="#d4d4d8"/>
<ellipse cx="249" cy="187" rx="2" ry="2" fill="#d4d4d8"/>
</g>
<g fill="none" stroke="#000" stroke-width="1" stroke-linejoin="round">
<polyline points="247.3,46.2 246.1,50.0 245.8,52.2 244.4,55.8 243.0,58.6 248.8,59.4 248.0,62.5 248.7,66.0 248.2,69.2 248.2,71.8 244.0,73.1 241.0,73.2 237.8,73.7 233.4,74.6" stroke-width="1.25"/>
<polyline points="277.9,42.2 278.0,44.6 278.7,47.7 278.7,50.8 278.1,53.8 278.3,57.2 278.2,60.2 278.1,63.6 278.7,66.6 278.6,69.0 278.1,72.2 275.9,75.5 274.6,77.9 272.1,79.6 269.9,82.1 268.3,84.8 265.6,88.1 263.4,90.6 261.4,93.0 257.7,93.4 254.4,93.1 251.2,93.6 247.3,93.3 246.1,96.9 244.9,100.8 243.8,103.8 243.4,106.8 243.5,109.9 242.0,112.6 240.7,115.9 239.3,118.7 238.0,120.9 236.1,124.3 234.9,126.5 233.4,129.6 230.2,129.6 227.2,129.6 224.3,130.5" stroke-width="1.25"/>
<polyline points="261.6,92.8 264.7,92.8 267.7,93.0 270.5,93.3 273.5,93.2 276.6,93.1 279.8,92.4 283.1,93.1 286.5,93.2 289.7,92.4 289.1,95.6 289.5,99.1 289.4,102.5 289.7,105.6 289.6,108.6 288.8,112.1 288.8,114.4 289.5,117.8 289.4,120.7 288.9,124.5 288.7,127.5 289.6,130.3 292.5,130.8 295.5,130.9 298.7,130.1 301.2,130.6 305.1,130.3 307.8,130.2 311.2,130.5 313.9,130.8 316.6,130.8 320.4,131.0 322.9,130.3 325.9,131.0 329.3,130.5 332.4,130.8 335.5,130.6" stroke-width="1.25"/>
<polyline points="278.1,67.5 282.5,69.5 286.0,70.3 290.1,72.9 293.2,74.5 297.1,76.5 299.3,78.4 302.4,81.1 305.3,83.6 308.5,85.4 310.8,87.7 312.9,89.8 315.0,92.0 317.5,94.0 319.7,96.3 321.9,98.3 325.1,100.6 328.7,102.3 331.8,104.2 334.6,106.5 336.7,108.0 339.4,110.6 342.3,112.0" stroke-width="1.25"/>
<polyline points="340.8,118.0 337.6,119.5 335.2,121.0 335.2,124.4 336.4,127.7 335.7,131.5 334.2,135.2 333.5,138.5 331.7,143.4 329.4,145.8 327.9,149.0 326.2,151.9 323.9,154.4 323.8,157.9 324.2,161.9 323.3,165.5 323.4,168.3 322.1,171.3 320.9,174.1 318.7,177.1 317.9,180.5 315.5,182.6 313.3,185.9 310.9,188.8 309.6,191.6 307.4,194.0 307.2,196.7 306.0,199.5 305.3,203.2 304.7,206.1 307.0,209.2 309.3,211.9 311.4,214.1 313.0,217.5" stroke-width="1.25"/>
<polyline points="381.6,121.5 382.9,124.6 384.5,127.6 385.7,130.4 386.4,133.1" stroke-width="1.25"/>
<polyline points="323.2,168.7 326.7,168.7 329.5,168.0 332.9,167.5 336.3,167.0 339.5,167.9 342.5,168.4 346.2,169.2 348.5,171.1 350.4,173.7 352.0,175.6" stroke-width="1.25"/>
<polyline points="305.8,190.3 306.2,193.7 305.9,196.3 305.1,199.8 304.9,203.1 305.0,206.4 306.8,208.8 309.4,212.0 310.9,214.7 312.9,217.6 315.9,218.4 319.2,220.2 321.8,220.7 324.1,222.3 328.2,223.2 331.0,224.2 334.7,224.7 338.2,225.7 341.6,226.7" stroke-width="1.25"/>
<polyline points="313.1,217.8 310.7,218.5 307.6,220.7 304.9,221.7 302.3,222.6 299.5,224.5 296.7,226.8 294.2,229.1 291.6,231.8 289.4,234.9 285.9,234.9 282.8,234.6 279.5,235.0 277.0,234.9 273.3,234.9 270.2,234.7 267.6,234.2 264.5,235.0 261.6,234.4 261.8,237.9 261.9,241.4 261.1,245.4 258.0,244.7 255.6,244.5 252.3,245.3 249.3,244.7 246.4,245.2 243.2,245.0 239.9,244.8 237.5,245.4 233.9,244.9" stroke-width="1.25"/>
<polyline points="232.9,129.0 233.1,132.9 233.1,135.5 233.7,138.8 233.9,142.3 233.8,146.0 233.1,149.2 234.1,151.7 234.5,155.2 235.8,157.8 239.3,157.2 242.1,156.7 245.2,157.0 248.6,155.8 251.5,155.8 255.0,157.0 258.3,157.8 262.3,158.6 265.5,158.8 268.1,161.3 270.8,162.8 274.4,165.6 277.4,167.5 280.5,168.7 283.9,169.5" stroke-width="1.25"/>
<polyline points="289.0,130.9 288.5,133.3 287.9,136.6 288.1,139.5 288.3,142.9 287.9,146.3 287.1,149.3 287.3,152.1 285.9,156.1 286.0,159.5 285.0,162.7 284.1,165.8 283.8,169.7 284.6,173.4 285.7,176.9 285.2,179.8 285.0,183.0 283.9,185.8 282.9,189.0 282.0,192.1 281.7,194.4 283.2,198.0 283.5,201.4 284.6,204.9 286.4,209.0 285.6,212.7 285.0,216.4 283.8,219.8 281.2,222.5 278.8,225.1 276.5,227.4 274.3,229.9 271.6,231.9 269.5,234.6" stroke-width="1.25"/>
<polyline points="196.9,134.8 200.1,136.9 203.0,138.3 206.5,139.7 209.6,140.9 213.0,141.7 215.1,144.4 217.4,146.7 220.1,149.1 222.3,150.8 224.5,153.5 225.9,155.8 226.3,159.6 227.6,162.2 229.0,164.8 231.1,162.7 233.9,160.3 235.7,158.0" stroke-width="1.25"/>
<polyline points="229.2,164.7 228.0,167.9 226.8,171.0 225.0,174.0 224.4,176.2 223.8,179.4 223.1,183.5 223.1,186.9 222.1,189.5 222.0,193.3" stroke-width="1.25"/>
<polyline points="178.3,158.0 181.3,159.3 184.0,161.2 186.2,162.9 188.6,164.2 191.4,165.2 194.4,167.2 196.0,170.1 197.9,173.6 198.7,175.9 200.4,179.5 200.4,182.5 202.0,185.7 202.6,189.5 203.6,192.5" stroke-width="1.25"/>
<polyline points="173.7,199.5 177.7,199.0 180.8,198.3 183.9,197.8 187.6,197.2 190.6,196.2 193.3,195.0 197.2,193.1 199.6,194.0 202.6,193.8 206.3,193.1 209.5,193.0 212.9,193.2 216.1,193.8 218.5,193.2 221.7,193.6 224.4,194.4 227.3,196.7 230.3,197.6 233.3,199.4 234.5,203.2 235.5,206.2 236.0,209.1 235.2,212.8 235.2,216.1 235.6,218.7 235.0,221.6 235.4,225.1 234.8,227.9 234.6,231.8 234.4,234.6 234.8,237.7 234.5,240.8 234.1,244.4 234.7,247.3 234.0,250.8 233.8,253.2 234.1,257.0 233.9,259.8" stroke-width="1.25"/>
<polyline points="196.8,193.2 197.6,196.2 197.5,200.0 198.4,202.8 198.1,205.9 198.9,208.0 200.3,211.9 200.6,214.5 202.5,217.4 202.9,220.8 204.1,224.1 205.6,227.0 206.6,230.1 207.7,234.3 208.7,238.1 208.9,240.8 209.8,244.0 209.4,247.7 209.5,250.5 209.1,253.1 208.8,257.0 208.7,259.8" stroke-width="1.25"/>
<polyline points="233.7,260.2 230.7,260.2 227.5,259.7 224.4,259.4 221.8,259.7 218.8,259.5 215.5,259.6 213.1,259.4 209.5,260.2 206.7,259.6 204.0,259.4 200.1,259.3 197.4,260.2 194.2,259.6 191.7,259.4 187.9,260.0 184.9,259.8 181.9,259.9 182.7,262.9 182.1,266.2 182.5,268.8 182.0,272.3 182.3,275.4 182.5,278.5 182.7,281.8 182.0,284.7 182.4,288.1 183.7,291.6 183.7,295.4 184.7,298.5 184.5,301.3 185.2,304.5 185.7,308.0" stroke-width="1.25"/>
<polyline points="261.3,234.3 261.2,237.9 261.6,240.7 261.5,243.9 261.7,246.4 261.8,249.9 261.3,253.5 261.8,256.0 261.0,259.1 261.4,262.1 261.1,265.4 261.3,268.7 261.5,271.3 261.8,274.5 261.1,277.4 261.1,280.6 261.9,284.2 261.7,286.5 261.2,289.6 261.4,293.1 261.0,296.0 261.4,299.3 261.8,302.1 261.6,305.0 261.5,308.5 261.1,311.4 261.5,314.2 261.2,317.9 261.3,320.3 261.3,323.7 261.4,326.6 261.3,329.6 261.5,333.0 261.1,336.1 264.6,338.0 268.5,338.6 271.3,340.5" stroke-width="1.25"/>
<polyline points="158.4,278.0 161.6,278.9 166.3,279.2 169.8,279.8 172.6,280.9 175.6,282.6 178.6,283.5 180.8,285.1 184.3,286.5 187.6,288.5 190.5,289.7 190.5,294.0 193.5,295.1 196.5,296.7 198.7,297.4 201.9,298.9 205.1,300.0 208.3,301.8 210.9,303.6 214.5,303.7 217.7,304.1 220.8,304.3 225.1,304.6 227.8,305.7 231.5,305.7 234.8,306.3 237.6,306.7 240.3,307.2 243.7,307.4 246.7,307.9 249.9,308.1 253.7,308.7 257.9,308.4 261.5,309.0" stroke-width="1.25"/>
<polyline points="186.0,308.4 182.8,309.2 180.8,311.5 177.3,312.9 175.5,313.9 172.6,315.5 170.0,317.2 166.9,318.2 164.3,320.2 161.2,320.9 158.3,322.5 156.4,324.3 154.0,326.6 150.9,328.6 149.4,331.4 146.6,332.5 143.5,333.6 140.8,334.4 137.0,335.4 134.7,337.7 133.1,340.0 130.7,342.5" stroke-width="1.25"/>
<polyline points="123.7,356.1 126.9,356.5 130.2,356.9 132.8,356.3 135.8,356.9 139.5,356.7 142.7,356.0 145.9,356.4 148.6,356.4 151.8,356.3 154.4,356.3 157.9,356.5 160.4,356.4 163.9,356.4 167.0,356.9 170.1,356.8 172.8,356.9 176.5,356.6 178.7,356.1 182.5,356.9 185.5,356.6 188.4,356.2 191.5,357.1 194.2,356.7 197.9,356.7 200.4,356.3 203.9,357.0 207.1,356.5 210.0,356.9 212.7,356.8 215.8,356.3 218.5,356.8 222.3,356.1 224.7,356.4 227.9,356.8 230.9,356.7 234.3,356.6" stroke-width="1.25"/>
<polyline points="126.6,422.0 129.9,422.1 132.6,422.4 135.5,421.9 139.1,422.5 141.8,422.2 144.9,422.0 147.4,422.2 151.2,421.8 154.3,422.1 157.4,422.5 159.7,421.9 163.4,422.7 166.3,422.3 169.1,422.5 172.4,422.5 174.9,422.5 178.6,422.3 180.7,421.9 184.4,422.1 187.7,422.3 190.6,421.9 193.4,422.2" stroke-width="1.25"/>
<polygon points="202.3,45.4 204.4,43.7 204.6,40.9 207.2,38.1 206.9,36.2 209.9,34.9 211.7,34.2 213.7,31.2 215.2,31.0 217.5,32.3 219.9,33.0 222.3,34.0 223.3,33.7 227.2,34.0 228.8,35.1 231.6,35.2 233.7,34.8 235.4,34.5 238.0,35.3 240.6,36.1 242.7,37.8 243.8,40.0 245.5,42.7 247.9,45.5 248.9,43.2 249.1,41.6 250.2,38.6 252.1,37.1 253.4,33.1 255.2,34.6 258.2,33.5 259.2,33.3 262.7,33.0 265.2,33.1 267.1,33.8 268.6,33.4 271.6,32.9 273.5,36.8 276.2,37.9 276.7,40.1 279.5,41.8 281.8,43.5 282.8,46.1 284.0,48.3 286.3,49.7 288.8,52.3 291.0,52.4 291.9,55.2 293.1,55.4 294.9,58.8 297.4,59.6 298.5,62.2 301.9,63.6 304.1,63.8 305.3,63.6 307.6,63.9 310.0,64.1 311.7,66.1 315.5,66.4 316.9,66.1 319.2,68.0 320.8,68.7 323.2,70.5 324.8,70.2 326.9,73.1 328.4,73.8 330.4,74.2 333.3,75.0 335.1,76.9 337.0,78.2 339.9,78.4 342.0,80.1 343.9,80.7 346.1,81.8 348.5,81.8 350.7,83.4 352.5,84.6 353.7,86.0 355.7,88.0 356.4,90.1 354.8,92.3 354.0,95.1 353.2,98.1 350.6,100.2 349.6,101.7 347.3,104.5 346.2,105.7 344.9,108.1 343.4,110.6 342.4,113.1 342.0,116.4 341.6,117.7 343.5,118.6 345.9,118.3 347.3,119.2 350.5,118.8 352.9,118.5 355.6,120.5 358.4,119.6 360.3,121.3 361.8,121.1 364.3,120.5 366.4,120.7 370.3,121.3 372.6,122.1 373.9,122.0 377.7,121.7 379.1,120.9 381.7,121.4 383.7,123.1 386.6,123.5 387.0,121.6 389.1,119.6 390.7,118.4 392.6,116.0 394.3,114.9 395.3,112.4 397.1,111.8 399.5,109.5 400.8,107.5 402.7,106.6 403.3,104.9 402.4,102.7 402.9,100.3 404.7,96.5 403.8,94.0 405.2,92.7 408.0,92.3 409.6,91.7 412.3,90.4 414.4,93.0 416.2,94.7 418.6,97.1 418.8,98.9 419.3,101.4 419.9,103.2 419.2,105.5 420.0,109.4 420.7,111.4 421.6,114.2 418.5,115.0 417.1,116.9 415.3,118.5 412.8,120.7 410.4,120.6 409.2,121.7 407.3,123.4 405.2,124.3 402.3,124.8 399.4,127.0 397.8,126.6 397.1,128.6 394.6,130.4 393.0,130.4 390.2,132.2 389.0,132.6 386.7,135.0 384.8,137.5 384.4,138.3 382.8,140.8 380.5,142.2 380.3,144.0 378.8,145.3 377.8,147.8 375.6,148.3 373.8,150.0 372.5,152.0 370.4,153.7 368.5,155.1 367.5,156.3 365.9,159.2 364.4,160.6 361.6,161.5 360.1,163.4 358.9,164.5 357.5,165.0 354.3,167.7 353.7,168.6 351.7,170.1 352.5,173.7 351.1,175.9 351.4,177.0 350.8,181.0 350.5,183.2 349.3,184.9 348.3,187.5 348.8,189.1 347.2,191.2 347.4,194.9 347.1,197.3 346.1,198.6 345.7,201.1 346.5,203.6 345.4,206.4 345.4,209.1 345.7,211.3 345.0,212.8 343.8,216.1 343.6,217.7 341.6,219.0 342.5,222.6 342.0,224.4 342.4,228.0 342.4,229.8 344.5,231.6 345.4,232.3 347.7,234.9 349.5,235.0 350.9,237.0 353.5,238.7 355.5,240.4 355.7,241.6 357.9,244.1 360.1,246.1 361.3,246.6 363.1,249.8 362.9,252.5 362.4,255.3 360.8,256.5 359.1,259.1 362.4,259.9 363.5,262.8 366.4,263.3 368.9,266.1 369.6,267.3 371.2,269.5 371.7,272.4 371.5,273.2 369.6,275.6 367.8,278.4 366.7,279.3 364.6,280.9 362.9,282.9 361.0,284.8 360.4,286.7 358.9,287.5 356.9,290.7 355.4,292.2 353.8,294.6 351.9,294.9 350.8,295.5 347.2,297.2 346.0,297.7 343.8,300.0 342.4,300.8 339.9,299.9 336.8,301.2 333.8,302.3 331.9,302.9 330.3,302.6 327.2,303.4 324.5,303.1 322.4,304.0 319.6,305.5 317.9,305.3 314.3,306.2 312.4,305.3 311.0,307.0 307.8,306.6 306.6,306.8 303.4,306.4 300.5,308.0 299.6,306.9 296.9,307.3 294.8,308.1 292.4,308.8 289.0,309.2 287.7,308.7 284.8,307.4 284.3,307.0 283.3,309.0 283.4,310.3 282.4,313.6 282.0,315.2 282.0,316.9 281.1,319.8 280.8,322.4 279.8,324.4 279.7,326.0 279.8,329.8 279.8,331.1 279.9,333.5 280.3,335.5 279.6,337.1 276.5,339.0 274.4,339.9 273.7,342.2 270.9,341.3 269.8,341.6 266.6,343.0 265.3,343.2 261.6,343.5 259.6,342.9 258.3,343.2 255.7,342.3 253.3,343.1 250.2,342.8 248.0,342.0 247.1,340.6 244.9,339.5 241.9,339.5 240.0,337.0 237.1,337.0 235.0,337.6 233.4,339.5 233.5,342.5 232.2,345.6 234.4,349.4 234.9,351.3 234.6,353.7 234.1,355.7 235.9,360.3 240.2,359.8 242.9,360.2 246.2,361.5 249.0,361.4 251.4,359.6 253.6,358.2 255.7,359.8 257.0,360.5 258.5,362.8 258.3,366.9 257.9,369.3 257.2,371.3 255.2,371.0 252.9,371.7 249.0,372.2 245.9,369.3 243.3,366.1 241.7,365.6 239.9,367.0 237.1,367.8 235.5,369.2 237.9,371.6 239.7,372.5 242.6,371.8 245.5,373.3 243.0,373.9 241.2,374.7 238.0,376.1 237.1,378.6 234.2,380.5 233.4,382.6 231.6,383.6 232.4,387.1 230.5,389.4 230.1,391.3 228.7,393.4 227.8,395.0 226.7,397.7 226.7,398.9 223.1,400.0 222.1,401.3 218.5,403.3 217.0,403.0 215.3,405.0 213.3,406.7 211.0,407.9 208.1,408.8 206.2,409.6 203.6,410.6 201.2,412.1 199.3,412.6 199.2,415.2 197.9,416.6 195.2,419.7 194.3,421.6 193.2,422.9 194.3,425.2 195.5,427.3 195.1,429.3 195.8,432.0 196.7,433.2 199.6,434.0 202.4,435.7 203.5,435.9 206.5,437.0 208.5,437.5 210.5,438.9 213.3,439.3 215.3,439.9 216.6,440.8 219.9,441.4 220.9,443.0 223.9,444.2 222.2,446.3 222.6,448.5 220.9,452.4 220.0,453.6 218.2,456.1 216.4,456.4 214.7,458.3 211.7,458.1 210.2,460.0 207.6,460.6 206.3,461.0 203.8,462.0 202.7,463.0 199.3,465.1 197.8,467.4 196.3,470.5 195.1,471.7 193.2,474.6 193.1,477.7 191.8,480.0 189.7,481.2 186.6,483.5 184.5,484.0 182.3,485.8 179.2,486.4 177.9,487.6 175.0,489.6 172.4,490.8 171.9,492.5 170.1,494.1 167.7,497.0 167.4,500.8 168.3,502.6 167.1,506.3 168.5,508.0 168.4,509.5 170.7,513.0 171.5,514.7 172.3,517.2 174.1,519.2 175.7,520.2 176.9,522.4 179.7,523.1 181.0,525.5 177.9,524.0 176.8,523.4 173.4,522.7 172.5,522.6 168.9,521.9 167.6,521.6 164.8,521.7 163.7,520.1 160.7,520.0 157.9,520.6 156.2,520.7 154.9,520.0 151.7,520.1 149.8,519.5 147.4,519.9 144.6,520.8 143.5,520.1 140.1,520.5 138.4,520.8 136.6,519.6 134.6,520.2 131.6,520.5 129.3,519.3 126.6,520.1 124.7,519.2 122.1,520.3 121.0,518.3 120.6,516.1 117.8,514.2 117.0,511.9 117.2,508.4 115.9,506.9 115.4,502.8 114.6,501.1 114.8,499.2 111.9,498.4 110.9,498.9 108.8,499.1 106.6,499.8 104.3,499.3 101.1,499.4 99.1,496.6 97.9,494.6 96.0,491.7 97.2,489.7 96.5,487.3 96.8,485.6 97.6,482.9 97.8,480.1 99.8,479.1 103.4,477.7 103.4,477.1 104.7,474.0 106.2,472.9 107.6,470.6 108.7,468.9 109.7,467.5 111.1,465.1 113.6,464.5 113.9,462.1 114.1,458.8 115.5,458.1 115.4,454.9 117.4,451.7 117.8,449.9 118.8,448.5 119.7,446.1 119.0,443.5 120.5,440.6 120.6,438.5 121.7,436.1 123.3,433.4 123.8,430.9 124.2,429.1 124.1,426.7 124.1,423.7 125.0,421.2 126.2,419.6 127.5,417.5 128.3,414.1 129.7,413.5 128.8,411.7 126.9,408.7 125.8,407.5 123.8,404.9 122.0,402.5 125.3,403.4 126.8,401.7 129.9,401.9 131.9,401.5 133.0,401.7 132.2,399.6 131.5,396.1 129.6,394.2 129.1,392.4 126.5,390.7 124.7,389.8 124.7,387.8 125.1,384.9 125.1,383.3 123.6,380.5 124.3,376.4 124.5,373.2 123.9,372.4 123.5,369.7 123.2,366.8 121.8,364.4 121.8,362.9 122.5,360.8 121.9,358.5 123.4,354.8 123.2,352.8 122.8,351.2 124.4,348.6 124.2,347.0 124.5,343.7 123.7,340.9 123.9,340.1 123.5,337.1 124.3,334.6 125.3,330.8 125.3,329.8 126.7,327.4 126.4,325.0 127.8,322.5 128.9,319.5 129.6,316.7 131.1,316.1 131.3,313.5 132.2,310.9 132.9,309.3 135.8,307.7 137.0,304.4 135.9,302.1 136.2,300.8 136.1,297.8 135.5,294.5 135.0,293.5 135.9,290.5 135.4,287.4 134.1,284.7 134.0,282.8 135.7,281.1 134.8,278.0 135.0,275.5 135.7,273.8 136.3,271.3 138.7,268.8 139.3,267.7 141.1,265.1 142.5,263.5 143.5,261.0 146.4,259.4 147.4,257.5 146.2,255.6 146.6,252.6 146.4,251.0 145.8,249.4 147.4,246.4 146.9,244.8 148.3,242.0 148.6,239.4 151.1,237.5 153.6,234.7 153.0,233.5 154.6,231.0 155.6,228.7 154.7,226.6 154.9,223.4 153.8,220.6 153.6,218.7 153.1,216.9 153.6,214.5 152.4,211.2 151.7,209.9 151.2,207.2 150.4,205.2 150.0,202.8 149.5,201.3 148.4,198.4 148.2,196.1 148.0,194.6 147.0,191.5 146.0,189.3 146.7,185.1 145.4,184.0 147.6,181.5 147.6,178.7 148.5,177.8 149.6,174.2 149.6,172.2 151.5,171.4 152.4,168.6 151.9,165.5 152.4,163.5 153.3,161.1 154.5,159.5 154.5,157.0 154.9,153.6 156.4,150.8 155.6,149.9 156.8,146.3 157.9,144.7 157.7,142.1 157.8,139.7 160.1,136.9 161.1,134.4 163.5,132.6 165.7,132.3 166.8,130.0 168.5,127.4 170.1,124.8 171.3,121.8 172.2,120.1 172.6,117.2 175.9,116.0 177.0,113.8 179.6,112.0 178.5,110.2 179.6,107.6 179.3,105.0 178.6,103.2 179.3,99.4 179.2,97.5 177.5,95.9 177.5,92.6 177.0,90.4 177.5,88.5 177.9,86.2 177.9,82.6 178.8,79.6 178.1,77.5 178.7,74.8 180.3,73.3 182.2,72.8 184.7,72.6 186.9,70.5 189.8,69.6 192.1,69.4 192.7,67.9 196.0,65.4 197.0,64.0 199.5,63.0 199.7,60.1 201.3,58.0 201.0,56.0 200.4,52.9 202.2,51.4 201.7,49.5 202.5,47.9 202.3,45.0" stroke-width="1.3"/>
<polygon points="176.5,535.0 182.1,538.5 191.4,546.0 205.4,554.5 217.9,559.5 230.3,562.3 233.4,564.6 227.2,567.0 210.0,567.7 186.7,567.0 176.6,566.2" stroke-width="1.2"/>
<polyline points="139.8,114.8 139.2,116.3 140.2,117.8 139.0,120.1 139.2,121.9 138.5,122.4 138.3,124.4 136.6,125.4 137.7,128.0 135.5,129.8 136.3,130.2 136.2,132.0 134.7,134.6 134.2,135.6 133.6,137.8 133.9,139.9 133.6,141.4 132.2,142.2 132.6,144.9 131.1,146.2 130.8,146.6 130.6,149.7 130.3,151.2 130.4,152.8 129.0,154.6 128.4,155.6 128.1,157.0 129.3,159.4 129.2,160.6 128.1,161.5 127.8,164.5 127.2,166.0 126.9,167.6 126.4,169.5 126.2,169.6 126.9,172.5 127.1,173.5 127.0,174.7 126.1,176.5 125.9,177.7 125.7,180.3 126.3,181.5 126.2,183.2 126.5,184.2 126.3,187.5 125.8,188.6 127.3,189.4 126.4,191.7 128.2,193.4 128.5,194.9 129.2,197.4 129.2,198.6 130.0,200.6 129.9,202.2 129.5,203.6 129.5,205.9 129.0,206.8 128.6,208.0 129.0,209.8 127.2,211.3 128.0,214.2 127.6,215.9 126.8,217.4 127.6,217.8 126.2,219.8 126.7,221.6 126.4,222.7 124.8,224.5 123.9,226.2 123.9,227.5 122.2,229.9 121.7,231.9 122.1,232.4 120.6,235.3 120.1,236.8 120.5,238.4 119.4,240.2 119.0,241.6 119.8,243.4 117.5,244.3 117.1,246.9 116.9,247.6 115.6,249.1 114.6,250.5 114.5,252.2 112.5,254.2 111.5,254.8 111.0,257.6 110.4,258.2 109.7,260.5 109.2,262.0 109.1,262.7 108.3,265.7 107.6,267.3 106.4,268.1 106.0,269.7 104.3,270.1 104.0,272.8 103.2,274.0 102.3,275.6 100.1,276.3 99.2,276.2 98.3,277.5 97.9,279.4 96.1,279.2 93.9,280.5 94.2,281.7 94.2,283.4 94.5,284.8 94.7,287.9 95.8,289.0 96.2,291.2 95.2,291.1 96.2,293.5 98.0,294.1 97.6,297.2 97.0,298.8 98.3,299.2 98.1,301.5 98.5,302.6 98.9,304.0 98.4,306.4 99.6,308.0 100.0,310.7 101.0,311.4 100.7,313.7 100.1,315.4 99.8,317.0 100.0,318.1 99.4,320.1 99.1,321.7 98.5,322.7 97.6,323.4 94.7,324.2 93.2,325.1 94.3,325.5 92.4,328.3 92.6,329.8 93.0,331.9 92.1,333.3 92.5,334.8 91.2,336.7 90.8,338.4 90.2,339.3 89.1,340.2 90.2,342.5 89.3,344.2 89.9,345.9 89.5,347.1 91.0,348.5 92.2,349.9 93.2,351.8 95.1,351.0 95.6,351.6 97.8,350.0 98.9,350.6 100.4,349.6 103.7,349.1 105.1,348.2 105.6,348.2 108.2,349.0 109.9,349.3 111.5,347.9 112.6,347.7 114.9,348.2 115.9,349.0 115.8,350.1 113.6,352.2 113.3,352.7 111.0,355.3 110.3,356.4 110.5,356.7 112.3,358.4 112.7,360.6 113.0,360.3 113.1,361.6 111.3,364.3 111.7,366.1 109.4,365.0 110.4,367.4 110.5,368.7 107.8,370.4 108.1,372.9 109.3,374.7 107.0,375.5 107.0,378.3 106.3,378.8 107.5,379.0 106.6,380.1 104.7,382.0 104.3,383.8 105.5,386.6 103.8,386.7 104.6,387.6 103.1,389.2 104.2,390.5 103.6,391.3 101.9,393.0 101.2,394.0 103.1,396.5 105.3,397.6 105.8,396.3 107.0,397.4 108.1,398.9 108.0,397.7 107.2,399.8 105.4,400.4 105.7,403.4 104.5,402.3 102.0,403.4 101.5,404.7 101.1,405.3 99.3,408.1 100.6,408.5 100.1,409.5 99.2,410.6 98.6,413.1 98.3,414.4 97.6,414.6 97.7,417.6 95.8,416.9 94.7,418.6 94.4,419.8 93.5,421.5 92.7,424.7 91.6,423.4 93.1,425.8 91.8,427.0 88.7,425.2 90.3,424.2 87.9,423.8 87.5,423.1 86.9,421.6 85.1,422.7 84.1,421.6 81.7,420.4 81.0,421.1 80.3,419.5 78.8,419.6 76.5,421.7 74.4,420.7 75.2,422.0 73.9,423.8 71.2,425.8 70.6,425.1 71.0,428.1 68.3,429.0 66.6,429.5 66.8,428.9 65.2,430.1 64.9,431.3 63.1,433.0 62.0,432.9 61.6,436.7 62.5,434.7 66.0,434.1 67.8,434.2 67.3,435.0 70.9,434.0 70.6,433.3 71.3,435.1 74.8,434.2 75.5,435.6 77.5,435.6 79.6,434.6 81.2,435.9 80.8,436.2 82.1,436.5 84.8,438.6 85.5,439.6 87.6,439.4 86.7,441.9 85.4,441.8 84.3,443.3 85.0,443.1 83.0,445.3 82.5,447.7 81.5,446.3 79.6,448.4 78.1,450.5 77.6,450.1 78.8,451.0 82.2,450.2 82.9,451.1 83.4,451.8 86.5,452.6 88.9,453.0 90.2,453.2 91.0,453.9 93.0,453.7 92.9,452.5 95.9,452.0 96.1,454.4 97.3,453.6 98.9,454.2 98.9,453.2 96.4,456.1 95.2,457.1 93.5,456.4 91.9,458.0 91.3,458.4 90.5,457.3 89.6,457.2 88.4,459.7 85.1,459.6 84.0,459.7 84.3,460.2 83.5,460.7 82.4,463.5 83.7,466.4 84.5,467.9 84.8,469.7 84.6,468.6 86.2,471.8 85.2,471.9 86.4,475.3 87.4,475.4 87.6,476.6 87.9,478.4" stroke-width="1"/>
<polygon points="87.9,353.3 89.9,353.2 91.0,353.6 91.6,355.3 94.6,355.0 96.2,355.7 96.7,355.7 96.9,354.8 98.3,356.8 98.5,358.0 96.8,359.3 98.0,361.4 96.2,361.7 96.7,363.0 97.1,364.7 96.9,367.9 95.8,369.0 96.7,370.3 96.1,372.9 95.8,373.8 94.2,375.2 95.4,376.1 93.9,377.2 92.1,378.7 92.2,379.8 89.0,379.8 88.8,379.4 87.2,378.2 86.4,377.5 84.0,376.8 82.2,376.4 83.8,375.4 83.6,373.6 83.4,373.2 85.1,370.6 84.8,370.9 84.7,369.4 84.1,367.7 84.3,365.1 84.6,363.2 86.4,362.6 85.9,362.0 86.0,360.9 86.2,359.7 88.1,357.3 88.7,356.4 88.1,354.0" stroke-width="1"/>
<polyline points="184.2,16.6 183.2,21.1 183.8,24.1 184.9,26.1 184.9,28.5 185.1,30.6 186.0,34.5 186.8,37.9 187.4,39.7 188.9,42.8 188.2,45.9 191.6,45.9 193.3,46.1 196.3,47.0 199.2,47.1 202.3,45.0" stroke-width="0.9"/>
<polyline points="281.2,16.4 279.8,19.0 279.9,22.7 278.9,25.6 278.6,28.0 277.4,29.6 276.1,32.6 275.0,33.9 274.4,36.7" stroke="#222" stroke-width="1"/>
<polyline points="353.0,23.7 352.0,26.4 350.5,29.3 351.1,31.4 350.2,35.0 354.3,35.6 355.7,35.9 359.2,35.7 361.3,36.7 364.2,36.6 367.2,38.0 369.4,37.7 372.3,36.8 374.8,34.5 377.5,34.9 379.3,36.7 382.7,36.7 384.9,38.0 385.3,41.0 388.1,42.9 388.7,46.4 390.1,50.3 389.0,52.2 389.2,54.5 389.7,59.0 391.2,60.7 392.9,63.7 394.8,66.3 396.7,64.5 399.4,64.9 403.2,63.4 404.5,63.3 408.3,64.9 411.2,66.0 410.2,68.8 409.3,71.5 409.5,73.3 410.3,75.1 408.6,79.5 408.0,82.6 407.8,84.3 406.4,87.0 405.8,90.1 404.5,92.2" stroke="#222" stroke-width="1"/>
<polyline points="353.1,167.9 356.3,167.2 358.4,167.4 360.6,165.1 363.3,164.3 365.1,163.6 367.4,165.9 370.8,167.3 373.4,168.3 374.6,170.4 377.3,172.6 379.1,173.8 381.6,175.3 384.5,177.2 387.9,177.8 390.5,179.3 393.7,181.5 396.3,182.7 397.5,183.1 399.6,186.2 402.3,186.8 405.6,188.2 408.7,189.6 411.5,191.6 413.1,192.8 415.3,195.1 418.8,197.6 420.7,199.1 423.8,201.0 425.7,202.3 428.3,205.4 426.4,207.8 425.0,209.4 424.0,212.7 422.9,214.8 423.9,218.6 422.7,220.6 423.5,225.2 421.6,226.8 420.1,229.0 416.7,230.6 415.2,232.9 412.9,235.1 412.0,236.6 409.2,237.5 406.6,238.5 404.4,239.2 400.1,239.3 398.6,240.1 396.1,241.6 392.7,241.4 391.0,241.7 387.6,241.5 385.2,241.5 382.8,241.4 379.4,240.9 377.1,241.0 374.0,240.2 371.7,240.7 369.4,238.8 366.7,238.3 363.3,238.1 361.5,237.6 359.1,235.4 357.0,234.1 352.8,233.0 350.0,231.8 348.6,230.7 345.1,230.2" stroke="#111" stroke-width="1"/>
<polyline points="87.1,478.5 86.3,480.0 85.9,479.7 82.9,483.4 82.5,482.9 83.5,484.9 82.4,486.3 81.2,486.8 80.6,490.3 79.7,491.3 79.5,490.7 80.8,493.6 80.4,493.3 83.1,495.9 83.7,498.5 84.6,499.9 84.7,500.9 85.7,502.8 87.8,501.7 86.4,503.6 89.8,505.7 89.7,506.8 90.2,508.6 90.7,510.7 92.3,513.2 93.3,514.8 94.7,516.5 94.9,515.5 95.0,519.7 94.7,520.4 93.6,521.1 94.3,523.8 93.1,523.9 95.1,528.3 93.2,529.4 94.3,529.0 94.0,532.3 95.9,531.6 95.2,533.1 95.7,535.5 96.4,539.0 95.5,540.7 95.1,539.5 96.3,541.0 95.3,543.7 97.8,544.0 97.4,547.1 99.5,548.4 102.6,547.6 102.6,549.1 104.4,550.3 105.7,551.2 108.4,551.8 108.4,553.3 109.4,552.9 113.1,554.5 113.3,553.7 114.4,556.1 114.7,556.9 118.0,556.0 119.4,557.9 121.1,558.3 122.6,560.2 122.1,558.3 125.5,561.1 125.8,559.7 128.3,559.5 129.1,559.6 130.6,560.5 131.9,560.0 134.8,559.1 135.7,561.3 136.4,559.9 139.4,560.1 139.1,560.8 142.1,559.9 142.6,560.8 145.7,561.2 147.3,560.5 147.3,562.1 150.5,561.7 150.0,560.8 152.5,561.1 154.9,563.2 154.6,561.7 158.0,562.9 159.6,562.1 159.1,562.1 162.6,562.2 162.8,562.8 164.6,562.9 167.6,562.3 166.4,564.9 170.6,565.2 170.8,565.3 173.8,563.3 174.8,565.3 176.1,564.6 177.1,564.7" stroke-width="1.1"/>
<polygon points="99.8,519.7 99.3,521.7 96.1,521.1 94.4,519.7 96.1,518.4 99.1,517.9" stroke-width="1.1"/>
<polygon points="93.8,500.0 93.0,501.0 91.5,501.3 89.5,501.2 89.5,500.0 89.6,498.9 91.5,498.1 93.6,498.8" stroke-width="1.1"/>
<polygon points="107.2,502.6 107.4,505.0 103.0,504.9 103.0,502.6 103.7,501.0 106.3,501.4" stroke-width="1.1"/>
<polygon points="95.2,518.6 94.0,519.6 92.6,519.0 92.0,518.0 94.1,517.5" stroke-width="1.1"/>
<polygon points="100.6,518.3 98.3,520.2 95.1,519.3 95.6,517.5 97.9,517.0" stroke-width="1.1"/>
<polygon points="103.9,520.2 103.3,521.0 101.7,521.1 100.7,520.2 102.0,519.6 103.3,519.5" stroke-width="1.1"/>
<polygon points="125.9,560.4 124.8,561.5 122.2,562.1 120.8,560.4 122.7,559.3 125.3,558.8" stroke-width="1.1"/>
<polygon points="141.5,561.3 140.1,562.0 138.4,562.4 138.0,561.3 138.6,560.4 140.2,560.5" stroke-width="1.1"/>
<polygon points="128.8,560.0 127.1,560.7 125.4,560.6 125.7,559.5 127.1,559.2" stroke-width="1.1"/>
<polygon points="175.2,556.8 172.4,557.8 170.8,559.1 167.7,558.7 167.3,556.8 168.2,555.2 170.8,555.0 173.8,555.0" stroke-width="1.1"/>
<polygon points="160.9,557.8 159.6,558.8 157.6,559.8 155.9,558.6 156.7,557.4 157.6,555.8 159.4,557.0" stroke-width="1.1"/>
<polygon points="136.4,552.3 134.1,554.1 131.0,553.3 130.0,550.9 133.8,551.1" stroke-width="1.1"/>
<polygon points="141.3,555.7 139.9,556.4 138.9,557.1 137.6,556.5 136.0,555.7 136.7,554.4 138.9,554.8 140.0,555.0" stroke-width="1.1"/>
<polygon points="157.9,558.9 156.9,559.4 156.0,559.6 155.0,559.5 154.1,558.9 155.2,558.4 156.0,558.2 156.7,558.4" stroke-width="1.1"/>
<polyline points="89.3,502.7 90.0,504.5 89.7,506.4 89.3,508.2" stroke-width="1.1"/>
<polyline points="96.7,501.3 95.6,500.0 95.8,498.3 95.7,496.5" stroke-width="1.1"/>
<polyline points="81.2,458.0 81.5,457.0 81.9,456.0 81.4,455.2" stroke-width="1.1"/>
<polyline points="131.9,560.2 132.0,558.4 133.0,556.9 134.7,556.1" stroke-width="1.1"/>
<polyline points="91.8,453.1 92.4,454.9 91.0,456.2 91.5,458.0" stroke-width="1.1"/>
<polyline points="89.6,490.1 89.7,489.1 90.5,488.4 90.9,487.4" stroke-width="1.1"/>
<polyline points="91.0,457.0 89.7,457.9 88.6,459.1 89.3,460.6" stroke-width="1.1"/>
<polyline points="87.2,454.5 87.8,453.3 88.5,452.2 89.8,452.0" stroke-width="1.1"/>
<polyline points="108.7,551.0 109.6,550.8 110.3,551.4 110.3,552.3" stroke-width="1.1"/>
<polyline points="125.4,559.1 125.7,558.2 126.4,557.4 127.4,557.2" stroke-width="1.1"/>
<polyline points="105.9,543.3 105.9,541.3 105.6,539.4 106.4,537.6" stroke-width="1.1"/>
<polyline points="113.5,552.6 112.2,554.1 112.1,556.0 111.2,557.8" stroke-width="1.1"/>
<polyline points="93.0,481.7 92.7,483.6 91.0,484.5 89.1,484.2" stroke-width="1.1"/>
<polyline points="122.0,557.8 122.8,558.0 123.5,558.6 124.3,558.2" stroke-width="1.1"/>
<polyline points="87.6,474.5 88.8,474.9 89.7,475.7 90.9,475.5" stroke-width="1.1"/>
<polyline points="175.9,561.9 175.6,560.5 176.7,559.5 178.2,559.9" stroke-width="1.1"/>
<polyline points="139.8,560.9 138.6,559.4 137.4,557.9 136.8,556.0" stroke-width="1.1"/>
<polyline points="91.0,462.9 91.2,462.0 91.6,461.2 91.7,460.3" stroke-width="1.1"/>
<polyline points="117.6,548.9 117.8,547.8 118.8,547.1 119.9,546.8" stroke-width="1.1"/>
<polyline points="144.0,556.1 144.4,557.6 143.8,559.0 142.6,559.9" stroke-width="1.1"/>
<polyline points="86.7,474.9 85.6,475.1 84.5,475.4 84.2,476.4" stroke-width="1.1"/>
<polyline points="112.7,517.0 113.6,516.7 114.4,516.9 115.1,517.5" stroke-width="1.1"/>
<polyline points="83.1,438.5 84.4,439.7 85.9,440.6 87.6,440.0" stroke-width="1.1"/>
<polyline points="149.8,560.6 149.7,559.2 150.1,557.8 150.6,556.5" stroke-width="1.1"/>
<polyline points="84.5,438.9 83.9,439.5 83.1,439.7 82.4,440.1" stroke-width="1.1"/>
<polyline points="87.5,464.6 86.1,463.7 84.8,462.7 84.2,461.2" stroke-width="1.1"/>
<polyline points="82.0,465.1 80.7,464.1 80.5,462.4 80.1,460.7" stroke-width="1.1"/>
<polyline points="117.8,557.3 116.9,557.2 116.7,556.3 116.8,555.4" stroke-width="1.1"/>
<polyline points="126.9,557.5 126.9,556.6 126.5,555.7 127.0,554.9" stroke-width="1.1"/>
<polyline points="81.6,461.6 83.4,461.9 84.2,463.5 85.7,464.5" stroke-width="1.1"/>
<polyline points="143.3,560.2 145.2,560.8 146.7,562.1 146.4,564.1" stroke-width="1.1"/>
<polyline points="160.3,556.9 158.9,558.1 158.1,559.7 158.7,561.4" stroke-width="1.1"/>
<polyline points="156.7,559.7 154.9,559.4 153.2,560.2 151.3,560.2" stroke-width="1.1"/>
<polyline points="101.2,530.3 99.6,529.2 99.2,527.4 99.9,525.6" stroke-width="1.1"/>
<polyline points="99.3,529.1 98.3,528.6 98.0,527.5 97.1,526.7" stroke-width="1.1"/>
<polyline points="93.3,448.4 94.4,448.1 95.6,447.9 96.7,448.4" stroke-width="1.1"/>
<polyline points="78.8,435.7 79.4,437.5 78.1,438.9 76.9,440.4" stroke-width="1.1"/>
<polyline points="105.9,553.5 106.6,554.5 107.7,554.7 108.9,554.7" stroke-width="1.1"/>
<polyline points="86.6,446.7 88.5,446.9 89.1,448.6 88.8,450.4" stroke-width="1.1"/>
<polyline points="108.4,546.8 108.6,548.6 107.5,550.1 105.9,551.0" stroke-width="1.1"/>
<polyline points="141.1,555.3 141.5,553.7 143.2,553.2 144.9,553.0" stroke-width="1.1"/>
<polyline points="100.2,513.6 99.9,514.4 99.3,515.1 99.5,515.9" stroke-width="1.1"/>
<polyline points="161.8,557.4 162.4,556.1 163.0,554.7 163.1,553.2" stroke-width="1.1"/>
<polyline points="167.9,558.3 169.1,557.5 170.5,557.2 171.6,556.3" stroke-width="1.1"/>
<polyline points="94.8,464.4 94.7,465.6 95.6,466.3 96.5,467.1" stroke-width="1.1"/>
<polyline points="93.5,459.9 95.2,459.9 96.6,460.9 97.0,462.7" stroke-width="1.1"/>
<polyline points="167.7,562.9 168.6,562.4 168.5,561.4 168.5,560.4" stroke-width="1.1"/>
<polyline points="85.7,445.8 87.4,445.6 88.3,444.1 90.0,444.3" stroke-width="1.1"/>
<polyline points="97.9,497.6 97.5,498.6 96.5,499.3 96.2,500.4" stroke-width="1.1"/>
<polyline points="102.4,513.8 103.3,514.4 104.2,515.1 105.2,515.5" stroke-width="1.1"/>
<polyline points="90.0,496.3 88.8,496.7 88.3,497.9 89.0,499.0" stroke-width="1.1"/>
<polyline points="97.6,513.6 96.5,512.1 96.7,510.3 98.4,509.5" stroke-width="1.1"/>
<polyline points="84.4,473.4 85.6,473.5 86.6,472.9 87.3,472.0" stroke-width="1.1"/>
<polyline points="164.9,560.3 166.3,560.3 167.7,560.8 168.9,561.6" stroke-width="1.1"/>
<polyline points="161.8,559.4 161.1,560.3 160.6,561.3 160.4,562.3" stroke-width="1.1"/>
<polyline points="97.3,454.8 98.5,454.1 99.5,453.2 100.9,453.4" stroke-width="1.1"/>
<polyline points="169.4,561.8 168.2,560.4 166.6,559.4 164.9,558.6" stroke-width="1.1"/>
<polyline points="143.7,559.6 144.7,559.3 145.8,559.4 146.3,558.6" stroke-width="1.1"/>
<polyline points="93.6,491.3 92.9,491.8 92.1,492.4 91.4,492.9" stroke-width="1.1"/>
<polyline points="104.3,506.0 103.5,504.9 103.5,503.5 102.7,502.4" stroke-width="1.1"/>
<polyline points="108.3,516.3 109.1,515.8 110.1,515.7 111.0,516.3" stroke-width="1.1"/>
<polyline points="111.9,549.4 113.2,549.5 114.4,549.2 115.2,548.2" stroke-width="1.1"/>
<polyline points="88.2,501.0 89.4,500.1 90.4,498.9 91.0,497.6" stroke-width="1.1"/>
<polyline points="139.8,556.8 138.9,556.5 138.3,556.0 138.0,555.2" stroke-width="1.1"/>
<polyline points="174.7,562.2 174.7,563.7 174.3,565.1 175.2,566.3" stroke-width="1.1"/>
<polyline points="113.2,550.2 113.3,549.1 114.3,548.7 115.0,549.4" stroke-width="1.1"/>
<polyline points="128.5,559.1 129.5,558.8 129.7,557.8 128.8,557.2" stroke-width="1.1"/>
<polyline points="89.6,506.9 90.8,505.4 92.7,505.4 94.5,504.8" stroke-width="1.1"/>
<polyline points="139.3,560.3 140.0,559.1 140.6,557.9 139.6,556.9" stroke-width="1.1"/>
<polyline points="78.3,438.4 76.8,437.2 74.8,436.7 72.9,437.3" stroke-width="1.1"/>
<polyline points="85.8,438.5 86.1,437.4 86.9,436.6 87.9,436.1" stroke-width="1.1"/>
<polyline points="107.0,510.9 107.6,509.2 108.0,507.6 108.9,506.1" stroke-width="1.1"/>
<polyline points="167.1,560.7 166.7,561.5 166.8,562.5 166.6,563.3" stroke-width="1.1"/>
<polyline points="90.2,470.0 89.5,469.0 89.8,467.9 88.8,467.2" stroke-width="1.1"/>
<polyline points="112.5,542.5 113.7,542.6 114.5,543.5 115.7,544.0" stroke-width="1.1"/>
<polyline points="133.2,555.7 133.6,554.5 134.1,553.3 135.0,552.3" stroke-width="1.1"/>
<polyline points="159.9,558.2 159.1,556.5 158.8,554.7 157.6,553.3" stroke-width="1.1"/>
<polyline points="77.2,435.0 77.5,436.1 78.5,436.9 79.0,438.0" stroke-width="1.1"/>
<polyline points="123.1,557.2 122.4,555.5 121.1,554.2 121.8,552.5" stroke-width="1.1"/>
<polyline points="110.5,553.2 112.1,552.7 113.7,553.5 114.3,555.2" stroke-width="1.1"/>
<polyline points="97.9,502.4 96.9,500.9 97.9,499.4 99.2,498.1" stroke-width="1.1"/>
<polyline points="158.6,559.6 158.1,558.1 157.6,556.7 158.3,555.3" stroke-width="1.1"/>
<polyline points="93.5,482.1 93.4,480.4 94.2,478.8 95.4,477.5" stroke-width="1.1"/>
<polyline points="90.0,509.6 88.6,508.8 87.0,508.3 85.5,507.7" stroke-width="1.1"/>
<polyline points="90.3,449.6 91.1,449.0 92.0,449.5 92.0,450.5" stroke-width="1.1"/>
<polyline points="115.5,540.4 116.0,542.0 117.5,542.5 118.9,543.2" stroke-width="1.1"/>
<polyline points="82.9,449.4 82.6,450.5 82.3,451.6 81.9,452.6" stroke-width="1.1"/>
<polyline points="81.2,455.8 82.3,457.0 82.5,458.7 82.4,460.3" stroke-width="1.1"/>
<polyline points="85.2,477.4 83.4,478.1 81.7,477.3 80.4,475.8" stroke-width="1.1"/>
<polyline points="169.2,559.6 169.6,558.7 170.5,558.6 171.1,557.9" stroke-width="1.1"/>
<polyline points="103.5,514.4 102.7,515.3 102.7,516.4 101.9,517.2" stroke-width="1.1"/>
<polyline points="105.8,514.7 104.2,515.0 102.7,515.6 101.6,516.8" stroke-width="1.1"/>
<polyline points="102.5,508.2 103.5,507.9 104.6,508.1 105.6,508.3" stroke-width="1.1"/>
<polyline points="91.9,471.9 90.1,471.6 89.5,469.8 89.3,467.9" stroke-width="1.1"/>
<polyline points="84.9,496.5 85.8,496.1 86.8,496.3 87.6,495.7" stroke-width="1.1"/>
<polyline points="123.8,554.7 123.7,556.5 124.2,558.1 124.6,559.8" stroke-width="1.1"/>
<polyline points="92.9,507.6 92.0,509.0 92.5,510.5 94.1,510.7" stroke-width="1.1"/>
<polyline points="101.2,532.0 100.7,531.0 99.8,530.2 98.8,529.6" stroke-width="1.1"/>
<polyline points="98.0,510.5 99.6,511.6 101.6,511.5 103.0,512.8" stroke-width="1.1"/>
<polyline points="82.5,467.5 81.0,467.3 79.9,466.2 78.3,466.2" stroke-width="1.1"/>
<polyline points="162.9,562.3 161.9,560.7 160.5,559.5 158.7,559.5" stroke-width="1.1"/>
<polyline points="106.6,512.8 105.3,511.6 103.7,511.1 103.2,509.5" stroke-width="1.1"/>
<polyline points="125.9,554.7 126.4,555.6 126.7,556.6 127.6,557.0" stroke-width="1.1"/>
<polyline points="152.0,558.6 153.4,557.4 154.0,555.6 155.8,554.9" stroke-width="1.1"/>
<polyline points="106.4,520.4 106.1,518.5 105.6,516.5 106.8,514.9" stroke-width="1.1"/>
<polyline points="82.5,444.4 81.6,445.7 81.0,447.1 81.5,448.6" stroke-width="1.1"/>
<polyline points="96.8,452.9 94.8,453.0 93.2,453.9 92.7,455.8" stroke-width="1.1"/>
<polyline points="110.1,546.3 110.5,544.8 109.5,543.6 109.5,542.1" stroke-width="1.1"/>
<polyline points="166.3,561.7 166.2,563.2 165.3,564.3 164.4,565.4" stroke-width="1.1"/>
<polyline points="101.4,519.6 99.7,520.5 99.0,522.3 98.9,524.2" stroke-width="1.1"/>
<polyline points="120.3,556.1 119.4,557.3 118.8,558.7 117.6,559.6" stroke-width="1.1"/>
<polyline points="164.3,563.2 165.2,562.8 165.2,561.9 165.4,561.0" stroke-width="1.1"/>
<polyline points="91.0,472.7 91.5,474.0 91.8,475.4 92.4,476.7" stroke-width="1.1"/>
<polyline points="113.2,545.8 112.0,545.2 111.5,544.0 110.9,542.8" stroke-width="1.1"/>
<polyline points="168.0,561.9 166.6,562.0 165.5,561.2 164.1,561.0" stroke-width="1.1"/>
<polyline points="118.6,550.7 120.2,551.2 120.8,552.8 120.4,554.5" stroke-width="1.1"/>
<polyline points="85.7,500.5 85.3,501.7 84.5,502.7 83.2,502.7" stroke-width="1.1"/>
<polyline points="94.8,514.0 93.9,514.8 94.0,516.0 94.5,517.1" stroke-width="1.1"/>
<polyline points="70.6,436.2 71.3,434.9 70.4,433.7 69.1,433.1" stroke-width="1.1"/>
<polyline points="94.9,490.3 95.7,492.1 95.0,493.9 94.2,495.6" stroke-width="1.1"/>
<polyline points="168.6,558.2 167.5,557.9 166.4,558.5 165.9,559.7" stroke-width="1.1"/>
<polyline points="106.1,543.8 104.8,542.4 105.3,540.5 106.8,539.3" stroke-width="1.1"/>
<polyline points="79.9,476.9 80.0,475.9 79.2,475.3 78.5,474.6" stroke-width="1.1"/>
<polyline points="105.0,527.5 104.5,525.9 104.0,524.4 103.2,522.9" stroke-width="1.1"/>
<polyline points="90.0,503.7 91.4,504.3 93.0,504.5 94.5,504.8" stroke-width="1.1"/>
<polyline points="105.1,513.4 104.4,512.1 103.1,511.6 102.8,510.2" stroke-width="1.1"/>
<polyline points="102.3,515.9 103.0,517.3 103.5,518.7 103.8,520.3" stroke-width="1.1"/>
<polyline points="159.5,558.0 159.6,556.2 160.2,554.4 159.8,552.6" stroke-width="1.1"/>
<polyline points="89.8,494.7 88.3,494.7 87.4,495.9 86.0,495.6" stroke-width="1.1"/>
<polyline points="88.4,440.9 89.5,439.8 91.1,439.3 92.3,438.3" stroke-width="1.1"/>
<polyline points="96.1,496.9 96.8,496.4 97.3,495.7 97.4,494.8" stroke-width="1.1"/>
<polyline points="89.7,504.0 88.4,502.8 88.3,501.0 88.8,499.3" stroke-width="1.1"/>
<polyline points="98.1,508.9 99.2,508.7 100.2,509.3 101.2,508.8" stroke-width="1.1"/>
<polyline points="86.0,463.0 86.8,462.5 87.2,461.7 87.5,460.8" stroke-width="1.1"/>
<polyline points="108.6,509.8 109.7,510.1 110.8,509.8 111.7,509.2" stroke-width="1.1"/>
<polyline points="142.0,557.3 140.9,557.4 139.7,557.6 138.7,557.0" stroke-width="1.1"/>
<polyline points="87.8,480.2 87.5,479.3 87.7,478.5 87.1,477.8" stroke-width="1.1"/>
<polyline points="166.0,561.0 165.3,560.4 164.5,559.8 164.2,558.9" stroke-width="1.1"/>
<polyline points="98.9,544.3 99.8,545.0 100.9,544.8 101.5,543.8" stroke-width="1.1"/>
<polyline points="86.5,497.1 85.4,497.1 84.5,496.6 83.8,495.7" stroke-width="1.1"/>
<polyline points="123.2,558.5 122.2,557.6 121.0,557.6 120.1,556.7" stroke-width="1.1"/>
<polyline points="139.6,558.3 138.9,559.1 138.6,560.2 138.5,561.3" stroke-width="1.1"/>
<polyline points="114.3,538.2 115.2,537.9 116.0,537.5 116.1,536.6" stroke-width="1.1"/>
<polyline points="107.5,511.4 106.5,512.1 105.4,512.6 104.4,511.9" stroke-width="1.1"/>
<polyline points="158.9,556.6 160.4,557.3 161.8,558.2 162.1,559.9" stroke-width="1.1"/>
<polyline points="78.9,488.1 77.2,489.1 75.6,490.2 75.4,492.2" stroke-width="1.1"/>
<polyline points="124.4,557.6 124.8,556.2 123.9,555.1 122.5,554.8" stroke-width="1.1"/>
<polyline points="86.3,494.7 86.9,493.0 87.4,491.2 88.5,489.8" stroke-width="1.1"/>
<polyline points="80.1,439.8 78.6,440.3 77.3,439.5 75.7,439.2" stroke-width="1.1"/>
<polyline points="95.4,515.4 94.5,515.3 93.8,515.7 93.1,515.3" stroke-width="1.1"/>
<polyline points="96.8,513.9 96.3,513.0 95.8,512.2 96.2,511.3" stroke-width="1.1"/>
<polyline points="127.0,554.2 128.4,554.7 129.5,555.8 129.6,557.3" stroke-width="1.1"/>
<polyline points="151.4,556.7 152.0,554.8 153.5,553.7 155.4,553.5" stroke-width="1.1"/>
<polyline points="155.4,560.3 155.2,559.5 154.6,558.9 153.8,558.8" stroke-width="1.1"/>
<polyline points="85.0,446.0 85.4,446.8 85.2,447.7 85.3,448.5" stroke-width="1.1"/>
<polyline points="87.4,441.2 86.1,441.1 85.2,442.0 84.0,442.5" stroke-width="1.1"/>
<polyline points="93.1,498.9 92.4,498.2 91.6,497.4 90.6,497.4" stroke-width="1.1"/>
<polyline points="103.5,513.8 103.6,512.6 103.7,511.4 104.6,510.6" stroke-width="1.1"/>
<polyline points="87.0,439.8 85.7,439.5 84.8,438.5 84.3,437.2" stroke-width="1.1"/>
<polyline points="161.7,559.3 161.5,560.5 162.1,561.7 163.1,562.5" stroke-width="1.1"/>
<polyline points="98.7,499.3 100.4,499.0 101.6,497.9 102.4,496.4" stroke-width="1.1"/>
<polyline points="91.3,468.0 89.7,468.1 88.4,467.3 87.8,465.7" stroke-width="1.1"/>
<polyline points="110.9,523.5 110.8,521.9 111.0,520.4 112.3,519.5" stroke-width="1.1"/>
<polyline points="93.6,449.2 94.2,450.7 94.9,452.2 93.7,453.4" stroke-width="1.1"/>
<polyline points="106.3,538.5 105.4,539.4 104.2,539.1 103.2,539.9" stroke-width="1.1"/>
<polyline points="87.7,495.1 86.1,496.1 84.3,497.1 84.5,499.0" stroke-width="1.1"/>
<polyline points="156.4,558.0 156.8,556.9 157.0,555.7 157.0,554.5" stroke-width="1.1"/>
<polyline points="109.2,510.5 109.6,509.7 109.3,508.8 108.9,508.0" stroke-width="1.1"/>
<polyline points="103.8,512.2 105.2,512.0 106.2,511.0 106.7,509.7" stroke-width="1.1"/>
<polyline points="94.9,453.4 94.7,451.9 94.0,450.6 92.5,450.7" stroke-width="1.1"/>
<polygon points="91.6,532.1 91.2,533.0 89.6,533.0 88.1,533.0 88.4,532.1 88.5,531.4 89.6,530.9 90.3,531.7" fill="#000" stroke-width="0.8"/>
<polygon points="117.1,508.5 116.3,509.2 115.2,509.1 114.2,508.5 115.1,507.9 116.2,508.0" fill="#000" stroke-width="0.8"/>
<polygon points="100.7,556.1 99.6,557.3 98.3,556.4 97.6,555.5 99.3,555.5" fill="#000" stroke-width="0.8"/>
<polygon points="112.5,471.8 112.0,472.1 111.2,472.5 110.6,472.0 110.3,471.4 111.3,471.3 112.0,471.4" fill="#000" stroke-width="0.8"/>
<polygon points="108.0,542.3 107.4,543.2 105.3,543.0 105.9,541.8 107.6,541.0" fill="#000" stroke-width="0.8"/>
<polygon points="115.5,506.9 115.0,507.3 114.2,507.6 113.4,507.3 112.5,506.9 113.5,506.5 114.2,505.9 115.4,506.1" fill="#000" stroke-width="0.8"/>
<polygon points="85.7,476.3 84.8,477.0 83.0,477.5 83.0,476.3 83.2,475.4 84.9,475.4" fill="#000" stroke-width="0.8"/>
<polygon points="113.7,499.9 113.1,500.5 111.8,501.3 111.2,500.3 110.9,499.5 112.1,499.2 113.0,499.4" fill="#000" stroke-width="0.8"/>
<polygon points="103.3,529.2 102.3,529.9 100.9,530.0 100.5,529.2 101.2,528.7 102.1,528.7" fill="#000" stroke-width="0.8"/>
<polygon points="115.0,484.6 114.5,485.0 113.8,485.4 113.4,484.9 113.0,484.6 113.2,484.3 113.8,484.1 114.3,484.3" fill="#000" stroke-width="0.8"/>
<polygon points="88.6,500.4 87.3,501.4 85.6,501.2 83.8,500.4 85.4,499.4 87.5,499.2" fill="#000" stroke-width="0.8"/>
<polygon points="87.3,489.1 85.9,490.1 84.1,490.0 83.0,489.1 83.8,487.8 85.7,488.3" fill="#000" stroke-width="0.8"/>
<polygon points="103.7,494.8 102.5,495.5 100.5,495.6 101.0,494.3 102.6,494.0" fill="#000" stroke-width="0.8"/>
<polygon points="94.1,556.0 93.7,556.7 92.5,556.6 91.8,556.4 91.3,556.0 91.8,555.6 92.5,555.1 93.7,555.3" fill="#000" stroke-width="0.8"/>
<polygon points="87.7,480.7 87.1,481.2 86.2,481.4 85.6,481.0 85.7,480.5 86.2,480.2 87.1,480.2" fill="#000" stroke-width="0.8"/>
<polygon points="109.3,519.5 108.3,519.8 107.4,519.8 107.7,519.3 108.5,518.8" fill="#000" stroke-width="0.8"/>
<polygon points="91.4,534.0 90.5,534.5 89.8,534.5 88.7,534.4 88.5,533.6 89.6,533.2 90.9,533.3" fill="#000" stroke-width="0.8"/>
<polygon points="102.2,521.6 101.2,522.6 99.0,522.3 99.6,521.1 101.2,520.6" fill="#000" stroke-width="0.8"/>
<polygon points="168.6,557.1 168.4,557.4 167.9,557.8 167.3,557.5 166.7,557.1 167.4,556.8 167.9,556.4 168.5,556.8" fill="#000" stroke-width="0.8"/>
<polygon points="152.0,563.5 150.8,563.9 150.1,564.8 148.8,564.2 148.7,563.5 149.2,562.9 150.1,562.2 151.3,562.7" fill="#000" stroke-width="0.8"/>
<polygon points="169.2,562.2 167.6,563.4 165.6,562.8 164.7,561.2 167.4,561.2" fill="#000" stroke-width="0.8"/>
<polygon points="160.4,563.6 159.7,564.3 158.1,564.6 157.5,563.6 158.4,562.9 160.1,562.5" fill="#000" stroke-width="0.8"/>
<polygon points="142.1,558.0 142.1,558.7 141.0,558.6 140.1,558.6 139.9,558.0 140.5,557.7 141.0,557.2 141.9,557.5" fill="#000" stroke-width="0.8"/>
<polygon points="147.6,562.1 148.2,563.2 146.4,563.1 145.1,562.8 144.6,562.1 144.6,561.0 146.4,560.5 147.7,561.2" fill="#000" stroke-width="0.8"/>
<polygon points="141.2,556.8 140.9,557.7 139.3,557.5 137.5,556.8 139.0,555.7 140.9,555.8" fill="#000" stroke-width="0.8"/>
<polygon points="125.1,557.1 123.7,557.7 122.5,557.8 121.9,557.1 122.5,556.4 124.1,556.1" fill="#000" stroke-width="0.8"/>
<polygon points="123.9,557.0 123.3,558.2 121.2,558.0 120.5,557.0 121.2,555.9 123.1,556.0" fill="#000" stroke-width="0.8"/>
<polygon points="140.1,562.3 138.4,562.8 137.3,563.3 135.9,562.8 136.3,561.9 137.4,561.5 139.0,561.3" fill="#000" stroke-width="0.8"/>
<polygon points="96.5,467.7 95.9,468.6 94.2,468.3 94.3,467.2 96.1,466.6" fill="#000" stroke-width="0.8"/>
<polygon points="74.1,426.6 73.7,427.8 71.9,427.1 72.4,426.3 73.6,425.7" fill="#000" stroke-width="0.8"/>
<polygon points="79.8,459.9 79.0,460.6 77.7,460.3 77.5,459.4 79.0,459.4" fill="#000" stroke-width="0.8"/>
<polygon points="91.3,442.2 90.9,443.1 89.6,442.8 88.6,442.6 88.3,441.8 89.5,441.3 90.5,441.7" fill="#000" stroke-width="0.8"/>
<polygon points="92.7,449.5 91.7,450.0 90.5,450.2 89.6,449.5 90.2,448.4 91.8,448.8" fill="#000" stroke-width="0.8"/>
<polygon points="86.3,430.8 85.1,431.6 83.8,431.6 83.0,431.1 82.4,430.3 83.8,430.1 85.4,429.8" fill="#000" stroke-width="0.8"/>
<polygon points="82.1,440.4 81.0,440.9 79.6,441.0 80.2,440.2 81.1,439.9" fill="#000" stroke-width="0.8"/>
<polygon points="66.7,461.6 65.8,462.7 64.0,462.4 62.7,461.6 63.9,460.7 65.4,460.9" fill="#000" stroke-width="0.8"/>
<polyline points="123.3,519.7 122.0,520.3 121.6,522.0 120.9,522.7 119.9,525.2 118.8,526.8 120.0,527.2 119.4,528.5 120.9,528.6 123.1,530.0 123.8,531.9 123.0,531.9 121.1,534.1 120.4,535.2 118.9,535.2 118.1,537.6 118.9,538.4 122.0,539.2 123.4,538.4 124.7,540.9 125.1,540.5 127.1,541.1 129.0,540.9 131.2,540.0 131.3,540.3 133.0,540.1 136.3,541.7 136.1,541.0 138.1,540.6 139.7,541.3 141.6,539.9 142.2,538.9 143.5,538.5 146.1,537.3 146.3,536.1 148.3,536.1 150.6,534.8 151.9,534.4 152.5,533.1 154.0,532.9 155.2,532.1 156.6,530.3 158.1,530.4 158.7,529.0 161.1,529.2 163.7,527.3 165.2,527.4 165.5,525.9 166.9,526.5 169.7,526.4 171.6,525.8 173.1,525.5 173.5,525.3 176.0,525.0" stroke-width="0.9"/>
<polyline points="175.5,534.3 175.6,533.6 172.9,533.2 173.0,532.9 169.9,533.7 168.7,533.2 168.3,532.7 167.4,532.5 165.6,531.8 164.0,533.1 162.4,532.7 161.0,534.7 158.1,533.9 157.6,535.3 155.5,534.4 154.1,535.9 153.6,536.2 151.4,536.9 150.0,537.7 148.0,538.6 148.4,539.1 146.5,539.3 145.4,541.8 144.3,542.7 143.0,544.3 142.8,544.6 140.2,547.2 140.8,548.0 141.1,549.6 141.7,549.9 142.9,551.7 144.3,552.1 146.2,554.7 146.6,555.4 148.5,556.0 150.4,555.0 151.3,554.8 153.5,555.8 154.5,556.0 156.4,557.0 157.7,557.7 160.0,557.2 161.4,557.9 163.6,557.7 164.5,558.3 166.7,557.9 168.0,559.3 168.9,558.1 170.0,559.3 172.4,560.1 174.2,558.9 174.4,559.2 176.5,560.0" stroke-width="0.9"/>
<polyline points="129.5,533.3 132.1,533.8 132.6,533.8 134.2,533.3 136.4,532.8 136.8,534.2 138.7,533.5 140.6,534.2 141.2,533.7 143.5,533.4 144.7,532.9 147.5,532.0 148.5,531.0 150.0,531.0" stroke-width="0.9"/>
<polyline points="149.6,545.3 151.0,546.1 154.0,545.4 155.7,546.3 157.1,547.4 158.0,547.8 160.2,548.5 161.3,547.9 164.1,547.3 165.1,545.9 166.7,545.8 168.7,545.8 170.0,545.0" stroke-width="0.9"/>
<polyline points="126.1,525.5 127.8,526.6 128.7,527.4 131.0,526.6 133.1,527.0 133.7,528.4 135.5,529.4 136.9,530.6 138.0,532.0" stroke-width="0.9"/>
<polygon points="299.6,519.1 300.8,519.5 303.5,518.9 304.6,517.5 304.9,516.4 307.0,514.8 307.2,513.5 307.4,511.9 306.4,510.2 306.5,509.0 307.5,509.8 308.5,509.6 309.9,510.0 312.9,510.6 313.9,509.3 316.2,509.8 318.4,509.9 319.7,509.1 321.0,509.3 323.3,509.5 324.8,508.6 327.4,509.0 329.1,511.2 328.2,511.5 326.5,512.9 325.5,514.7 323.9,514.4 322.6,515.5 321.1,517.0 319.0,518.1 319.0,518.8 316.7,519.1 314.1,519.6 312.2,520.2 311.6,520.6 309.8,522.0 308.7,521.7 306.9,523.5 303.6,522.5 301.9,521.4 301.2,521.5 299.9,519.6" fill="#fff" stroke-width="1.5"/>
<polygon points="332.4,511.2 333.9,508.4 335.0,507.5 336.7,507.6 338.1,507.0 339.8,508.0 341.5,507.8 343.0,508.4 343.6,508.3 345.2,508.7 347.0,509.4 349.5,509.7 350.7,510.0 351.6,511.2 353.4,512.6 353.6,514.9 352.8,514.4 350.6,514.9 349.3,514.7 346.4,515.1 345.8,515.4 343.3,515.9 341.6,516.9 340.5,518.0 338.5,519.0 337.1,520.2 335.3,520.0 334.3,521.2 333.3,521.4 331.3,522.8 329.3,524.5 328.2,524.0 326.9,523.2 325.5,522.7 323.1,521.4 324.5,519.7 325.0,517.9 326.4,516.7 326.5,515.6 328.7,515.1 329.2,513.2 330.8,513.6 331.7,510.9 332.7,510.6" fill="#fff" stroke-width="1.5"/>
<polygon points="306.0,514.6 307.0,513.8 308.3,513.2 310.0,513.3 310.6,512.0 312.1,513.3 312.5,513.5 313.9,514.0 313.2,515.0 311.9,516.0 311.1,516.1 309.6,516.8 309.4,518.4 307.3,518.4 305.8,518.1 305.2,519.1 305.2,517.6 305.6,516.2 306.0,515.0" fill="#000" stroke-width="0.8"/>
<polygon points="323.7,518.5 324.7,517.5 326.0,516.6 327.1,515.8 328.9,515.0 329.9,515.1 331.4,515.2 332.6,516.1 334.4,517.4 333.4,518.3 332.4,519.6 332.0,520.5 330.6,521.2 330.0,521.7 329.0,521.7 326.8,522.6 325.7,523.6 326.0,521.7 325.4,520.6 325.0,519.3 324.0,518.0" fill="#000" stroke-width="0.8"/>
<polygon points="344.6,510.6 345.9,509.7 347.7,510.6 349.0,510.3 350.3,511.2 351.2,510.4 352.3,512.8 350.4,512.8 350.1,512.8 348.4,513.5 347.5,512.8 345.8,513.1 345.5,511.8 345.0,510.0" fill="#000" stroke-width="0.8"/>
<polygon points="337.2,513.6 338.8,513.7 339.7,512.2 340.9,512.4 341.7,512.8 343.2,514.3 342.4,514.6 341.3,515.2 339.5,516.5 338.7,517.5 338.1,515.8 338.1,514.4 337.0,514.0" fill="#000" stroke-width="0.8"/>
<polygon points="315.6,511.8 315.7,511.6 317.0,511.2 318.8,511.3 319.6,511.6 318.9,511.9 318.4,513.1 318.5,514.6 316.4,514.1 315.8,512.5 315.0,512.0" fill="#000" stroke-width="0.8"/>
<path d="M283,305 l3,-2 l2,4 l-1,5 l-3,3 l-2,-4 z" fill="#000" stroke="none"/>
<polyline points="211.0,451.0 218.0,450.0 224.0,452.0" stroke-width="1.8"/>
<polyline points="170.0,484.0 176.0,485.5 181.0,489.0" stroke-width="1.8"/>
<polyline points="162.5,503.0 168.5,503.5" stroke-width="1.8"/>
<polyline points="160.0,512.5 171.0,513.5" stroke-width="1.8"/>
<polyline points="236.0,379.0 242.0,381.0" stroke-width="1.8"/>
<polyline points="152.0,24.5 153.5,21.0" stroke-width="1.8"/>
<ellipse cx="247" cy="565" rx="7" ry="1.8" fill="#000" stroke="none"/>
</g>
</g>
<g transform="matrix(0.9717 0 0 1 481.469 0)"><g clip-path="url(#frL)">
<g clip-path="url(#clipR)">
<rect x="0" y="0" width="460" height="610" fill="#ff6666"/>
<polygon points="80.8,300.0 141.5,305.0 144.6,317.0 146.3,328.7 146.3,343.5 141.4,349.4 135.8,353.0 80.8,353.0" fill="#ff9e9e" stroke="#ffd8d0" stroke-opacity="0.6" stroke-width="0.8"/>
<polygon points="80.8,280.0 147.7,291.0 152.3,291.9 160.0,297.8 170.6,306.6 176.6,314.0 185.8,319.9 188.8,314.0 187.2,308.1 193.3,305.1 200.9,311.0 205.4,321.4 197.8,334.6 193.3,345.0 191.4,369.5 186.4,399.0 177.4,425.6 159.1,440.3 147.0,455.1 150.0,469.8 168.2,478.7 189.5,475.7 198.6,458.0 210.7,443.3 219.9,440.3 286.6,440.0 286.6,350.0 230.0,342.0 218.5,332.5 224.6,326.6 252.9,326.6 263.0,314.8 283.2,303.0 313.6,304.9 313.6,287.2 320.7,274.4 335.9,279.3 354.2,281.3 369.3,274.4 430.7,270.0 430.7,200.0 80.8,200.0" fill="#f03200" stroke="#ffd8d0" stroke-opacity="0.6" stroke-width="0.8"/>
<polygon points="80.8,200.0 80.8,250.0 164.5,250.8 179.7,259.7 204.3,267.5 224.6,269.5 244.8,272.5 265.0,263.6 283.2,255.7 297.4,259.7 315.7,261.6 335.9,259.7 358.2,251.8 364.9,247.0 430.7,240.0 430.7,150.0 80.8,150.0" fill="#b80000" stroke="#ffd8d0" stroke-opacity="0.6" stroke-width="0.8"/>
<polygon points="80.8,178.0 176.4,174.7 184.6,169.5 192.6,176.0 198.0,186.5 200.7,197.0 203.4,210.0 214.2,220.6 230.4,220.6 239.9,215.5 252.1,212.6 258.1,220.5 266.3,232.3 276.4,236.2 306.1,244.0 325.7,245.9 342.0,243.0 430.7,243.0 430.7,0.0 80.8,0.0" fill="#7d3500" stroke="#ffd8d0" stroke-opacity="0.6" stroke-width="0.8"/>
<polygon points="247.5,17.0 251.7,36.0 246.2,51.4 244.2,67.2 242.2,79.0 248.3,98.6 248.3,110.4 242.2,122.2 238.2,139.9 235.9,161.5 250.0,173.3 252.1,183.1 243.9,193.0 254.1,200.8 268.2,212.6 276.4,216.6 296.6,220.3 317.8,220.3 339.1,219.2 346.2,215.7 358.7,210.0 430.7,210.0 430.7,0.0 247.5,0.0" fill="#763030" stroke="#ffd8d0" stroke-opacity="0.6" stroke-width="0.8"/>
<polygon points="247.5,17.0 286.6,17.0 274.7,38.0 250.4,39.8" fill="#7d3500" stroke="#ffd8d0" stroke-opacity="0.6" stroke-width="0.8"/>
<polygon points="254.5,132.3 260.6,116.6 268.6,96.9 276.8,85.1 286.8,80.8 299.1,81.5 311.2,87.1 325.3,96.9 339.5,106.7 345.6,112.6 358.7,121.0 374.1,121.5 376.4,142.6 410.1,150.0 410.1,200.0 346.2,193.9 339.1,195.1 324.9,190.5 310.7,188.2 303.7,188.2 296.6,177.9 282.4,179.0 270.6,169.8 263.0,155.0 255.8,142.0" fill="#4f4f4f" stroke="#ffd8d0" stroke-opacity="0.6" stroke-width="0.8"/>
<polygon points="283.6,140.0 288.7,130.0 301.1,124.4 321.3,124.4 330.9,131.0 336.6,146.0 326.8,159.5 306.2,159.0 286.6,158.0" fill="#303030" stroke="#ffd8d0" stroke-opacity="0.6" stroke-width="0.8"/>
<polygon points="384.4,116.0 401.9,104.0 410.1,118.0 391.6,131.0" fill="#7d3500" stroke="#ffd8d0" stroke-opacity="0.6" stroke-width="0.8"/>
<polygon points="399.8,99.0 425.6,93.0 425.6,120.0 408.1,119.0" fill="#b80000" stroke="#ffd8d0" stroke-opacity="0.6" stroke-width="0.8"/>
<polygon points="399.8,88.0 425.6,85.0 418.4,100.0 401.9,101.0" fill="#f03200" stroke="#ffd8d0" stroke-opacity="0.6" stroke-width="0.8"/>
<polygon points="176.5,535.0 182.1,538.5 191.4,546.0 205.4,554.5 217.9,559.5 230.3,562.3 233.4,564.6 227.2,567.0 210.0,567.7 186.7,567.0 176.6,566.2" fill="#ff9e9e"/>
<polygon points="80.8,17.0 224.9,17.0 239.3,37.7 245.0,47.5 241.9,59.3 236.2,71.1 234.2,82.9 232.1,94.7 234.2,100.0 231.1,110.0 228.0,126.0 223.7,139.3 213.6,145.2 203.4,158.9 189.3,160.9 175.1,162.9 174.0,178.6 172.9,198.3 169.8,219.9 166.2,234.3 171.4,243.0 182.7,255.0 176.6,263.8 167.5,274.2 158.4,278.6 152.3,288.9 152.3,297.8 144.7,299.2 141.7,308.1 138.7,317.0 137.1,328.7 135.7,343.5 131.2,360.0 126.1,385.0 80.8,385.0" fill="#dcdcdc"/>
<polygon points="80.8,235.0 161.1,235.0 163.1,250.0 154.9,265.0 147.7,275.0 140.5,290.0 80.8,295.0" fill="#cdcdcd"/>
<polygon points="80.8,17.0 221.8,17.0 238.2,37.7 243.2,47.5 240.1,59.3 234.2,71.1 232.1,82.9 230.0,94.7 223.7,100.0 223.7,111.8 219.5,119.7 201.4,123.6 195.4,135.4 193.3,143.2 185.2,147.2 179.1,153.1 175.1,160.9 173.1,178.6 172.1,198.3 169.0,219.9 161.1,235.0 152.9,255.0 80.8,255.0" fill="#b6b6b6"/>
<polygon points="194.0,40.0 214.6,38.0 224.9,55.0 218.7,80.0 204.3,95.0 192.0,85.0" fill="#9e9e9e"/>
<polygon points="178.6,110.0 196.1,105.0 200.2,125.0 183.7,140.0 173.4,130.0" fill="#9e9e9e"/>
<polygon points="152.9,170.0 163.1,165.0 165.2,190.0 154.9,200.0" fill="#9e9e9e"/>
<g clip-path="url(#gclipR)">
<polygon points="135.0,69.1 133.1,71.8 130.6,72.4 127.5,71.0 128.7,68.2 130.6,66.7 133.0,66.1" fill="#acacac"/>
<polygon points="228.0,239.3 226.9,242.3 223.8,241.7 221.4,239.3 224.0,236.8 227.1,236.7" fill="#bebebe"/>
<polygon points="227.8,189.8 224.4,193.1 220.7,193.3 216.7,189.8 221.0,186.2 225.2,186.2" fill="#e2e2e2"/>
<polygon points="246.4,218.6 246.2,220.1 244.4,220.4 241.8,220.7 240.8,218.6 241.8,216.2 244.4,215.8 246.4,217.0" fill="#d2d2d2"/>
<polygon points="199.4,105.3 197.4,108.4 192.7,108.7 190.4,108.2 188.5,102.3 192.3,100.8 198.1,100.0" fill="#d2d2d2"/>
<polygon points="174.9,245.0 174.2,248.2 171.5,249.3 169.1,248.0 167.9,245.0 168.2,242.1 171.5,240.2 173.4,242.1" fill="#acacac"/>
<polygon points="208.8,196.2 207.4,198.6 203.3,198.4 201.2,196.2 203.5,192.3 206.6,193.9" fill="#c8c8c8"/>
<polygon points="137.2,223.1 135.5,226.9 132.4,226.0 130.0,226.9 126.9,223.1 129.8,219.8 132.4,219.9 136.3,220.0" fill="#c8c8c8"/>
<polygon points="125.2,149.1 125.0,150.6 122.8,150.7 121.0,150.4 121.3,148.0 122.7,147.1 125.1,147.0" fill="#a4a4a4"/>
<polygon points="167.6,241.5 164.8,244.7 161.8,245.1 158.3,245.9 157.7,241.5 158.5,236.8 161.8,237.3 166.0,238.7" fill="#a4a4a4"/>
<polygon points="222.3,116.8 220.5,118.4 217.4,118.8 216.4,116.8 217.8,115.3 220.8,114.6" fill="#d2d2d2"/>
<polygon points="160.8,183.6 156.2,187.5 152.2,190.0 147.7,186.2 148.1,181.0 152.3,180.0 157.2,180.0" fill="#a4a4a4"/>
<polygon points="154.8,222.7 153.8,225.8 151.2,225.4 148.3,225.7 146.9,224.2 147.5,221.2 147.8,220.3 151.3,218.4 153.3,219.8" fill="#a4a4a4"/>
<polygon points="214.6,211.6 214.0,214.6 210.4,215.1 208.2,213.5 206.3,210.3 210.0,208.3 214.6,208.6" fill="#bebebe"/>
<polygon points="218.9,216.3 215.8,219.9 213.3,219.0 211.1,217.9 211.1,214.7 213.5,212.2 216.2,214.0" fill="#a4a4a4"/>
<polygon points="153.8,149.2 152.5,150.3 151.3,151.5 149.9,151.3 148.4,149.8 148.1,148.0 149.4,147.0 151.4,145.9 153.5,147.0" fill="#c8c8c8"/>
<polygon points="242.8,195.2 241.2,198.4 237.5,198.1 234.9,197.1 235.0,193.7 237.9,192.5 241.3,192.3" fill="#c8c8c8"/>
<polygon points="129.9,99.2 128.9,101.8 126.8,101.0 125.1,99.2 126.9,96.6 129.3,96.6" fill="#d2d2d2"/>
<polygon points="242.2,183.2 241.7,186.2 239.1,187.1 235.9,185.5 234.8,183.2 237.1,181.1 239.1,180.6 242.6,181.1" fill="#bebebe"/>
<polygon points="142.0,197.9 141.2,199.4 139.1,199.6 137.5,197.9 139.0,195.4 141.2,196.3" fill="#c8c8c8"/>
<polygon points="202.4,143.4 201.1,146.2 198.3,147.9 196.4,146.6 195.1,143.4 196.0,141.1 198.3,139.7 200.3,141.1" fill="#d2d2d2"/>
<polygon points="210.7,22.3 208.0,27.5 201.1,26.9 200.0,22.3 202.2,18.2 208.1,17.4" fill="#acacac"/>
<polygon points="129.9,120.7 129.8,123.0 127.2,122.4 126.1,121.5 125.3,119.6 127.4,118.9 129.3,118.7" fill="#a4a4a4"/>
<polygon points="173.3,65.8 171.6,67.4 170.0,68.5 168.5,67.3 167.5,65.8 168.8,63.6 170.0,63.4 171.9,63.7" fill="#d2d2d2"/>
<polygon points="156.7,111.6 154.7,115.7 149.8,114.7 147.5,111.6 149.8,106.3 154.0,107.0" fill="#c8c8c8"/>
<polygon points="145.5,214.0 147.0,218.0 142.4,219.7 137.6,218.1 134.2,215.9 136.5,212.4 138.6,208.6 141.8,207.6 146.2,210.0" fill="#e2e2e2"/>
<polygon points="230.5,44.8 229.9,46.1 227.4,48.1 225.5,46.6 224.2,45.7 223.3,43.6 225.3,41.8 227.4,40.9 228.5,42.4" fill="#e2e2e2"/>
<polygon points="249.6,189.4 247.7,193.5 244.9,193.8 240.9,193.4 239.4,189.4 241.2,187.0 244.9,186.0 248.7,186.9" fill="#acacac"/>
<polygon points="203.1,37.8 202.1,40.6 197.4,42.7 194.7,37.8 197.4,34.1 203.0,32.9" fill="#acacac"/>
<polygon points="214.5,183.6 213.3,188.0 207.4,188.6 204.0,183.6 207.8,180.0 212.5,177.7" fill="#bebebe"/>
<polygon points="178.9,153.1 179.9,157.8 174.6,159.9 169.3,156.7 168.7,153.1 171.2,148.6 174.6,147.1 180.0,149.0" fill="#acacac"/>
<polygon points="131.6,69.6 129.7,74.8 124.2,72.7 122.9,69.6 124.0,65.8 130.0,64.2" fill="#bebebe"/>
<polygon points="205.3,74.6 206.1,76.0 204.1,77.3 202.4,76.3 201.4,75.6 201.0,73.7 202.1,72.1 204.0,72.8 206.2,72.8" fill="#acacac"/>
<polygon points="208.6,118.1 207.5,120.1 205.2,121.0 203.2,118.1 205.0,116.0 207.9,116.3" fill="#d2d2d2"/>
<polygon points="240.5,237.7 238.7,239.8 236.4,241.1 234.7,239.4 233.9,236.4 236.5,234.3 238.6,235.3" fill="#e2e2e2"/>
<polygon points="189.4,228.5 187.8,230.3 185.2,231.6 184.1,228.5 185.2,226.3 187.9,225.9" fill="#a4a4a4"/>
<polygon points="203.3,46.6 201.2,49.8 198.6,50.2 195.8,47.7 196.4,44.7 198.6,43.5 201.5,43.3" fill="#e2e2e2"/>
<polygon points="232.6,43.5 232.2,45.0 229.5,45.8 226.7,46.1 226.8,43.5 227.6,41.5 229.5,40.1 232.3,40.9" fill="#d2d2d2"/>
<polygon points="167.3,107.2 165.1,109.7 163.3,110.6 160.4,109.3 159.8,107.2 160.7,105.0 163.3,104.5 165.5,105.5" fill="#d2d2d2"/>
<polygon points="245.5,73.7 244.2,76.7 240.9,77.4 238.9,75.4 239.3,72.1 240.9,70.6 243.2,71.3" fill="#acacac"/>
<polygon points="159.7,138.8 159.2,140.6 156.1,143.5 153.2,141.4 150.8,139.8 152.5,137.5 153.4,135.6 156.2,134.6 157.7,137.2" fill="#e2e2e2"/>
<polygon points="150.7,92.0 149.6,94.4 147.1,94.6 144.6,94.6 144.3,93.0 143.7,90.8 144.9,89.2 147.2,88.7 149.5,90.1" fill="#a4a4a4"/>
<polygon points="181.6,40.4 181.3,42.8 178.3,44.7 176.1,43.8 175.8,40.4 175.2,37.3 178.3,35.9 180.4,38.2" fill="#c8c8c8"/>
<polygon points="187.5,242.1 184.8,245.9 181.3,248.2 176.5,244.7 177.0,239.6 181.0,236.0 184.5,239.1" fill="#d2d2d2"/>
<polygon points="143.3,214.9 140.5,217.9 136.1,218.4 135.0,214.9 136.0,211.1 140.5,211.4" fill="#bebebe"/>
<polygon points="213.4,82.9 214.7,85.6 210.8,88.6 207.5,86.7 205.3,84.4 205.6,81.6 207.7,78.1 210.9,78.5 214.3,79.3" fill="#a4a4a4"/>
<polygon points="241.6,76.0 239.7,80.1 236.0,80.1 231.5,79.1 231.1,76.0 232.7,73.4 236.0,69.8 238.6,72.1" fill="#e2e2e2"/>
<polygon points="141.3,111.1 139.3,112.9 136.3,114.8 134.5,112.7 135.0,110.3 136.8,108.6 139.2,109.2" fill="#acacac"/>
<polygon points="137.7,73.1 136.7,76.8 132.7,75.4 130.9,73.1 132.5,69.2 136.6,69.2" fill="#a4a4a4"/>
<polygon points="142.5,195.9 138.1,201.1 133.2,202.6 131.1,198.3 130.9,193.3 133.4,190.7 138.0,190.6" fill="#a4a4a4"/>
<polygon points="224.1,26.1 221.8,28.5 219.2,29.4 215.6,29.6 215.7,26.1 216.1,22.7 219.2,23.0 222.1,22.9" fill="#acacac"/>
<polygon points="238.6,208.7 235.9,213.6 231.2,214.7 226.7,208.7 231.3,203.0 236.5,203.8" fill="#acacac"/>
<polygon points="198.9,183.1 200.1,187.9 195.0,187.9 191.0,186.3 188.2,183.1 192.1,179.1 195.0,176.2 199.8,180.3" fill="#bebebe"/>
<polygon points="160.8,177.0 160.9,178.6 158.4,178.9 155.9,178.5 155.5,177.0 156.9,174.6 158.4,174.1 161.0,174.8" fill="#d2d2d2"/>
<polygon points="216.3,73.5 216.9,76.1 213.5,77.6 210.2,78.8 207.6,75.2 207.6,72.0 210.6,68.9 213.7,69.9 217.8,70.8" fill="#c8c8c8"/>
<polygon points="227.2,249.7 224.6,252.2 221.5,253.8 218.5,253.9 217.8,249.7 218.6,245.0 221.5,243.5 224.7,245.9" fill="#e2e2e2"/>
<polygon points="130.3,197.7 130.1,201.7 126.7,201.8 123.4,201.5 121.7,199.5 120.5,195.2 122.8,194.3 127.2,190.4 129.1,193.6" fill="#bebebe"/>
<polygon points="245.1,55.2 242.8,57.2 241.4,57.7 239.0,57.5 238.9,55.2 238.8,52.8 241.4,52.1 244.0,53.6" fill="#c8c8c8"/>
<polygon points="145.7,179.6 143.0,183.0 140.3,182.6 136.4,181.7 136.1,179.6 137.1,176.9 140.3,176.4 143.6,177.1" fill="#acacac"/>
<polygon points="197.9,160.3 196.2,163.6 193.0,165.0 190.0,162.9 186.5,160.3 188.8,157.4 193.0,155.5 195.9,155.9" fill="#e2e2e2"/>
<polygon points="244.7,218.8 243.6,223.1 238.9,221.8 235.5,220.1 236.2,217.2 239.1,215.9 242.4,216.3" fill="#e2e2e2"/>
<polygon points="150.5,22.1 150.4,24.3 148.9,23.9 147.2,24.8 145.6,23.2 145.4,21.4 146.8,19.5 148.9,18.8 149.9,20.2" fill="#d2d2d2"/>
<polygon points="155.6,207.2 155.9,209.6 153.5,210.6 150.9,209.9 151.5,207.2 150.9,204.7 153.5,203.7 155.8,205.5" fill="#a4a4a4"/>
<polygon points="207.0,133.3 205.4,136.0 203.0,136.6 200.9,134.4 200.7,132.0 203.0,130.9 206.1,130.9" fill="#acacac"/>
<polygon points="192.8,192.5 190.4,195.8 188.2,197.3 185.1,195.2 184.1,192.5 184.5,189.2 188.2,189.7 191.7,190.1" fill="#e2e2e2"/>
<polygon points="204.9,203.3 204.1,205.8 201.1,205.4 198.4,204.1 198.5,202.2 201.1,199.8 203.3,201.6" fill="#e2e2e2"/>
<polygon points="198.3,120.3 196.9,122.3 195.8,123.1 193.8,123.5 191.9,121.5 192.0,119.5 193.2,117.9 195.6,117.8 197.0,118.2" fill="#e2e2e2"/>
<polygon points="144.8,234.0 144.8,236.6 140.0,238.4 137.0,237.2 136.1,234.0 137.3,229.6 140.0,227.6 144.0,231.4" fill="#a4a4a4"/>
<polygon points="211.7,166.6 210.5,169.6 206.6,170.2 203.2,169.1 202.8,167.7 203.2,165.2 203.8,161.7 206.8,162.4 210.3,164.4" fill="#c8c8c8"/>
<polygon points="226.2,113.5 222.6,117.4 220.7,118.5 216.6,117.2 214.0,114.8 213.3,112.1 216.7,109.8 220.2,109.0 222.8,110.1" fill="#bebebe"/>
<polygon points="154.1,199.4 152.8,202.3 149.0,203.3 145.4,203.4 145.3,199.4 145.3,196.7 149.0,194.0 153.1,195.2" fill="#a4a4a4"/>
<polygon points="213.7,112.5 213.3,115.2 211.3,115.4 208.7,115.2 208.1,112.5 209.5,110.0 211.3,109.7 213.2,110.3" fill="#acacac"/>
<polygon points="163.8,109.1 162.6,111.6 160.6,111.4 159.0,109.1 160.6,106.7 162.6,106.8" fill="#acacac"/>
<polygon points="133.3,141.0 130.4,144.5 127.3,144.7 122.9,142.8 124.0,138.9 127.6,137.7 131.3,136.7" fill="#d2d2d2"/>
<polygon points="137.1,92.5 136.8,95.1 133.3,96.7 131.4,94.2 130.5,91.5 133.6,90.1 135.8,90.0" fill="#d2d2d2"/>
<polygon points="183.4,216.4 181.5,218.8 179.5,220.1 175.9,217.6 175.9,215.1 179.1,213.3 182.8,214.1" fill="#d2d2d2"/>
<polygon points="193.1,138.1 192.1,142.4 188.2,143.8 183.9,140.3 185.6,135.9 187.7,133.0 192.8,133.7" fill="#c8c8c8"/>
<polygon points="208.7,218.4 205.0,222.0 199.5,221.1 198.4,218.4 199.8,213.9 204.5,214.1" fill="#a4a4a4"/>
<polygon points="224.1,119.8 221.8,123.7 216.3,123.8 212.1,121.7 213.7,117.2 216.9,115.1 220.5,116.6" fill="#e2e2e2"/>
<polygon points="188.6,116.4 188.5,118.4 184.8,119.0 182.7,117.6 181.5,114.2 184.8,112.8 187.8,114.0" fill="#bebebe"/>
<polygon points="126.2,134.6 126.0,137.0 124.2,137.9 122.3,137.1 120.8,135.5 121.2,133.9 122.6,132.5 124.3,132.6 126.2,133.3" fill="#d2d2d2"/>
<polygon points="174.5,219.8 172.7,222.7 170.1,222.6 168.3,219.8 170.5,218.3 173.1,217.5" fill="#d2d2d2"/>
<polygon points="226.0,170.9 223.3,175.7 217.4,175.8 215.1,170.9 217.7,165.6 221.8,167.7" fill="#bebebe"/>
<polygon points="243.9,95.2 241.8,100.1 237.5,99.0 232.7,99.6 232.3,95.2 234.4,91.5 237.5,89.2 240.4,92.2" fill="#bebebe"/>
<polygon points="134.4,106.4 132.1,109.6 128.3,110.8 126.6,106.4 127.3,101.4 131.6,102.1" fill="#acacac"/>
<polygon points="187.4,79.8 187.6,81.1 185.4,82.5 184.1,81.2 182.3,79.8 183.5,78.4 185.4,77.7 186.6,77.5" fill="#bebebe"/>
<polygon points="244.5,52.6 242.1,55.4 237.9,57.5 233.2,56.6 232.4,52.6 233.3,48.0 237.9,45.7 241.4,49.7" fill="#acacac"/>
<polygon points="190.6,164.4 188.3,168.0 184.8,167.7 182.7,165.9 182.9,163.2 184.7,161.4 187.6,161.1" fill="#acacac"/>
<polygon points="197.1,162.4 196.5,163.8 193.7,164.6 192.2,162.4 194.2,161.0 196.2,160.7" fill="#e2e2e2"/>
<polygon points="186.8,234.5 184.4,238.4 180.7,238.4 177.3,236.5 177.5,232.2 181.0,229.6 185.0,231.5" fill="#e2e2e2"/>
<polygon points="179.6,64.8 177.6,68.1 174.8,68.4 171.2,69.7 170.6,66.5 170.5,63.3 171.9,61.6 174.9,61.4 177.8,62.5" fill="#e2e2e2"/>
<polygon points="169.1,122.7 166.8,126.2 163.7,126.0 160.8,124.5 160.6,121.5 163.8,119.2 166.5,120.2" fill="#bebebe"/>
<polygon points="161.6,21.0 160.2,23.7 157.6,27.5 153.9,26.8 151.6,23.3 149.0,19.4 154.1,15.0 157.8,14.6 160.3,18.5" fill="#bebebe"/>
<polygon points="185.0,242.4 183.0,244.9 181.0,245.9 178.3,245.9 177.1,244.2 175.6,241.2 178.3,237.6 180.8,239.0 182.9,239.2" fill="#bebebe"/>
<polygon points="154.4,139.7 152.8,144.5 146.4,144.8 142.9,139.7 146.8,135.6 151.1,135.3" fill="#d2d2d2"/>
<polygon points="162.5,42.0 162.5,47.2 156.5,47.3 154.2,44.8 153.8,40.2 156.3,37.9 161.9,38.4" fill="#acacac"/>
<polygon points="227.7,106.5 224.0,112.3 218.3,109.9 215.8,106.5 219.3,102.7 224.9,102.2" fill="#c8c8c8"/>
<polygon points="174.1,209.9 173.9,212.6 170.3,216.7 165.3,212.9 166.3,209.9 167.4,206.2 170.3,204.1 174.3,206.5" fill="#acacac"/>
<polygon points="234.6,140.7 230.9,143.8 228.4,147.6 225.3,144.2 222.4,142.9 220.3,138.8 225.4,135.8 228.3,136.6 232.1,136.5" fill="#c8c8c8"/>
<polygon points="213.0,212.2 210.8,214.7 208.8,217.0 205.8,214.1 204.7,212.2 205.5,209.1 208.8,208.7 212.0,210.2" fill="#d2d2d2"/>
<polygon points="186.8,133.6 185.7,136.5 184.0,137.7 181.2,136.1 180.3,134.6 179.2,132.4 181.4,130.9 183.8,129.5 187.5,131.4" fill="#acacac"/>
<polygon points="157.2,217.8 158.0,220.8 153.9,223.0 151.0,223.5 149.6,219.4 148.7,216.5 150.5,212.3 154.2,214.4 156.5,213.6" fill="#c8c8c8"/>
<polygon points="190.5,220.8 188.7,226.7 182.6,226.5 180.8,220.8 183.6,217.0 187.8,217.1" fill="#c8c8c8"/>
<polygon points="229.8,131.6 227.9,135.0 225.0,134.4 221.7,135.0 220.3,131.6 222.9,129.4 225.0,126.9 228.5,129.3" fill="#e2e2e2"/>
<polygon points="161.4,145.5 159.9,148.6 156.9,148.8 155.7,145.5 157.2,142.7 159.5,143.5" fill="#a4a4a4"/>
<polygon points="132.4,149.9 131.3,151.4 129.5,152.2 127.6,152.1 126.5,151.2 125.8,148.6 127.5,147.3 129.5,147.8 131.5,147.8" fill="#acacac"/>
<polygon points="244.7,74.8 243.1,77.9 238.6,80.4 236.4,77.7 235.0,72.6 238.7,68.5 243.4,70.9" fill="#c8c8c8"/>
<polygon points="240.8,188.2 239.1,191.9 236.3,193.4 233.3,192.1 230.9,189.8 228.5,186.0 233.2,184.6 236.5,181.6 239.4,183.7" fill="#d2d2d2"/>
<polygon points="180.0,79.7 179.0,81.5 177.0,81.6 175.1,81.1 173.9,79.7 175.6,77.6 177.0,76.9 178.9,77.6" fill="#e2e2e2"/>
<polygon points="171.4,245.5 169.6,248.4 166.6,251.0 161.8,249.0 162.5,245.5 161.4,242.1 166.6,241.7 172.0,241.4" fill="#e2e2e2"/>
<polygon points="213.5,128.7 212.9,131.2 209.6,133.2 207.2,131.1 204.8,128.7 205.9,126.2 209.6,123.5 213.1,125.0" fill="#c8c8c8"/>
<polygon points="235.4,242.8 234.1,244.1 232.3,246.5 229.8,244.8 229.1,243.7 229.0,241.6 230.6,240.4 232.4,240.7 234.9,241.3" fill="#a4a4a4"/>
<polygon points="157.9,49.5 157.8,51.0 155.7,51.7 152.8,51.5 151.4,49.5 153.7,47.6 155.7,47.1 158.2,46.9" fill="#d2d2d2"/>
<polygon points="204.7,138.2 202.5,140.9 197.7,140.8 195.8,138.2 198.6,134.9 201.6,135.3" fill="#c8c8c8"/>
<polygon points="179.6,170.2 177.3,173.8 174.4,175.9 170.0,173.7 168.7,170.2 170.3,167.5 174.4,165.8 177.6,166.5" fill="#e2e2e2"/>
<polygon points="205.9,37.2 205.1,41.3 202.5,42.4 198.1,41.4 197.4,37.2 199.6,35.0 202.5,32.1 206.4,34.4" fill="#e2e2e2"/>
<polygon points="188.0,209.7 187.8,210.9 185.9,211.9 183.7,211.2 183.5,209.7 184.0,207.9 185.9,206.9 187.5,207.4" fill="#bebebe"/>
<polygon points="184.5,85.0 181.3,90.9 174.1,90.5 173.3,85.0 174.0,81.7 180.4,79.3" fill="#c8c8c8"/>
<polygon points="173.1,226.5 171.1,229.7 168.5,229.7 167.0,226.5 167.9,224.1 171.7,223.0" fill="#c8c8c8"/>
<polygon points="189.6,22.6 186.6,25.8 181.6,28.2 179.5,22.6 181.3,18.5 185.9,19.3" fill="#a4a4a4"/>
<polygon points="226.5,80.6 224.7,82.0 223.1,83.0 221.3,83.0 220.1,80.6 221.0,78.2 223.1,77.4 225.7,79.3" fill="#acacac"/>
<polygon points="242.1,54.9 240.5,56.9 238.7,59.9 236.5,58.5 234.5,55.8 235.5,53.5 235.6,50.5 238.6,50.9 241.9,52.5" fill="#e2e2e2"/>
<polygon points="228.5,127.3 228.8,129.3 227.0,129.5 224.9,130.1 223.7,128.2 222.8,126.0 225.0,124.1 226.9,125.1 228.0,125.1" fill="#c8c8c8"/>
<polygon points="174.6,30.4 172.2,33.2 169.3,34.8 165.2,30.4 168.9,26.0 173.0,27.4" fill="#acacac"/>
<polygon points="210.6,198.6 210.9,202.1 207.9,202.1 204.2,202.6 202.0,200.8 200.8,196.5 204.4,194.8 207.8,194.7 210.6,194.8" fill="#a4a4a4"/>
<polygon points="181.1,27.9 177.0,30.5 174.3,34.5 171.6,30.9 167.7,27.9 171.3,24.3 174.3,22.1 176.9,23.7" fill="#d2d2d2"/>
<polygon points="188.8,83.6 187.1,85.9 185.4,86.8 183.9,85.6 182.6,83.6 183.1,82.1 185.4,81.7 186.9,81.7" fill="#c8c8c8"/>
<polygon points="205.7,199.1 205.5,201.5 203.2,201.8 201.0,202.1 198.7,199.1 201.2,196.5 203.2,196.8 205.8,196.1" fill="#a4a4a4"/>
<polygon points="218.0,166.7 216.6,169.9 212.0,171.0 209.1,169.5 207.9,164.7 211.9,161.2 216.9,161.5" fill="#acacac"/>
<polygon points="192.8,231.5 192.4,233.6 188.6,235.2 186.7,231.5 189.0,228.9 192.7,229.0" fill="#acacac"/>
</g>
<polygon points="230.0,64.0 238.3,63.0 238.3,80.0 231.1,81.0" fill="#dedede"/>
<polygon points="214.6,70.0 224.9,66.0 229.0,84.0 218.7,90.0" fill="#dedede"/>
<polygon points="163.1,250.0 173.4,250.0 171.4,262.0 163.1,265.0" fill="#dedede"/>
<polygon points="152.9,205.0 159.0,210.0 154.9,230.0 148.7,228.0" fill="#dedede"/>
<polygon points="130.9,329.4 131.4,329.0 132.8,327.7 134.4,327.9 135.7,326.1 136.3,324.9 137.3,324.6 139.6,323.6 139.8,322.4 140.6,323.9 142.8,324.1 142.3,326.9 144.1,327.8 145.6,329.2 145.3,329.6 145.3,332.2 145.4,332.5 143.9,335.0 144.7,335.1 143.2,336.8 142.9,338.1 142.3,339.9 141.2,342.8 140.9,344.3 141.4,344.7 140.3,346.3 139.6,348.1 137.7,348.6 136.8,348.2 136.0,348.8 133.8,350.0 132.4,350.1 131.9,348.3 132.3,346.1 131.9,346.0 131.6,343.8 132.0,342.8 131.2,341.0 132.0,339.4 130.9,338.6 131.0,336.4 130.4,334.9 131.3,333.8 130.6,330.7 131.0,330.0" fill="#dcdcdc"/>
<polygon points="126.7,351.9 128.9,352.1 130.7,353.4 131.0,354.1 132.6,353.2 134.2,354.5 135.6,355.1 134.6,357.8 134.7,358.1 133.9,360.8 134.4,361.5 133.6,362.2 133.1,365.1 132.2,365.5 132.9,366.6 131.9,369.5 131.7,370.5 132.8,372.0 130.6,370.7 128.5,371.1 126.7,370.5 124.2,370.2 124.9,368.9 124.9,367.7 125.4,366.1 125.7,363.6 125.7,362.1 126.1,360.8 125.7,360.4 127.2,358.0 126.6,357.1 126.9,354.8 126.8,354.0 127.0,352.0" fill="#dcdcdc"/>
<polygon points="161.2,354.8 162.7,354.4 164.1,353.4 165.8,352.5 168.9,351.5 169.3,353.5 170.5,353.5 172.4,355.2 173.5,355.6 174.6,356.4 176.6,357.8 177.8,358.4 180.1,358.8 181.4,360.5 181.2,362.0 180.0,363.4 179.0,365.5 178.0,366.2 177.3,368.0 177.2,369.0 174.1,370.2 172.7,369.7 172.0,370.1 171.0,370.3 169.8,369.3 167.4,367.5 165.7,367.2 165.4,365.4 163.6,365.3 161.9,364.4 160.8,362.7 159.5,362.8 159.7,359.9 161.2,358.5 161.0,356.8 162.0,355.0" fill="#dcdcdc"/>
<polygon points="157.9,373.1 159.4,372.1 161.4,372.2 163.1,372.0 164.7,371.5 164.8,374.3 164.6,375.5 165.6,375.6 166.2,377.8 163.7,378.5 163.4,378.8 160.8,377.8 160.1,377.7 158.7,376.1 158.5,374.7 158.0,373.0" fill="#dcdcdc"/>
<polygon points="122.9,432.9 124.8,432.8 126.0,432.0 128.9,432.0 130.5,431.8 131.0,432.9 132.5,433.2 133.5,434.7 134.1,435.4 132.9,436.7 130.9,438.0 130.0,439.9 128.7,440.3 125.9,439.8 124.7,439.2 123.5,438.9 121.0,439.9 121.0,437.4 122.8,436.8 122.4,434.9 123.0,433.0" fill="#dcdcdc"/>
<polygon points="117.1,448.3 119.5,449.4 121.2,448.0 122.3,448.8 124.6,448.6 123.9,450.0 125.1,450.7 126.0,452.2 124.4,453.9 123.3,454.7 122.2,456.0 120.4,456.5 119.2,455.9 118.0,457.2 116.0,456.9 114.8,455.9 116.0,454.1 116.0,453.3 115.7,450.6 117.0,449.0" fill="#dcdcdc"/>
<polygon points="117.6,465.0 119.8,465.0 121.0,465.1 123.8,464.5 123.5,466.2 122.9,467.6 123.9,468.7 122.7,469.1 121.4,469.0 118.6,470.0 118.0,467.6 118.7,466.2 118.0,465.0" fill="#dcdcdc"/>
<polygon points="103.3,471.4 106.1,471.0 107.2,470.1 109.2,470.8 110.6,470.1 110.3,471.4 111.3,473.2 111.6,474.0 113.1,475.3 111.1,477.1 110.4,478.6 110.1,479.1 108.3,479.9 106.5,479.1 105.3,478.7 102.5,477.9 103.9,475.4 104.4,474.9 103.8,472.4 104.0,471.0" fill="#dcdcdc"/>
<polygon points="101.6,482.7 104.1,483.2 105.3,482.8 106.9,482.4 107.4,485.0 107.5,487.1 108.1,487.9 107.0,489.1 105.2,490.2 103.2,491.7 102.8,490.7 100.4,488.3 100.7,487.6 101.5,485.9 102.0,484.2 102.0,483.0" fill="#dcdcdc"/>
<polygon points="221.6,117.7 229.7,111.8 233.7,100.0 239.8,107.9 233.7,121.6 223.7,125.5" fill="#b80000" stroke="#ffd8d0" stroke-opacity="0.6" stroke-width="0.8"/>
<polygon points="197.3,125.5 215.5,125.5 217.6,133.4 209.5,141.3 203.4,137.3 195.4,137.3" fill="#b80000" stroke="#ffd8d0" stroke-opacity="0.6" stroke-width="0.8"/>
<polygon points="179.1,151.1 185.2,149.1 189.3,159.0 181.2,160.9" fill="#b80000" stroke="#ffd8d0" stroke-opacity="0.6" stroke-width="0.8"/>
<polygon points="193.3,147.2 198.3,151.1 197.3,157.0 193.3,155.0" fill="#b80000" stroke="#ffd8d0" stroke-opacity="0.6" stroke-width="0.8"/>
<polygon points="243.4,33.0 249.6,29.0 247.5,40.0" fill="#b80000" stroke="#ffd8d0" stroke-opacity="0.6" stroke-width="0.8"/>
<polygon points="157.0,226.0 163.1,222.0 165.2,236.0 159.0,238.0" fill="#b80000" stroke="#ffd8d0" stroke-opacity="0.6" stroke-width="0.8"/>
<polygon points="163.1,245.0 171.4,242.0 173.4,252.0 166.2,256.0" fill="#b80000" stroke="#ffd8d0" stroke-opacity="0.6" stroke-width="0.8"/>
<ellipse cx="187.8" cy="189" rx="3" ry="5" fill="#dcdcdc"/>
<ellipse cx="238.3" cy="100" rx="3" ry="3" fill="#dcdcdc"/>
<ellipse cx="238.3" cy="186" rx="2.5" ry="3" fill="#dcdcdc"/>
<ellipse cx="238.3" cy="196" rx="2" ry="3" fill="#dcdcdc"/>
<ellipse cx="219.8" cy="207" rx="2.5" ry="3.5" fill="#dcdcdc"/>
<ellipse cx="183.7" cy="206" rx="2" ry="4" fill="#dcdcdc"/>
<ellipse cx="196.1" cy="362" rx="2" ry="2" fill="#dcdcdc"/>
<ellipse cx="159.0" cy="384" rx="3" ry="2" fill="#dcdcdc"/>
</g>
<g fill="none" stroke="#000" stroke-width="1" stroke-linejoin="round">
<polyline points="246.6,45.4 247.0,49.5 245.0,52.2 244.8,55.7 243.1,57.8 248.7,59.0 248.6,62.7 248.3,65.5 248.6,69.7 247.7,72.4 244.2,72.5 241.1,73.0 237.8,74.0 233.4,74.6" stroke-width="1.25"/>
<polyline points="277.8,41.9 277.9,44.7 278.6,47.8 278.1,51.4 278.1,54.5 277.8,56.7 278.8,60.3 278.4,63.6 278.1,66.7 278.1,69.8 278.3,72.9 276.7,75.3 273.8,77.5 272.5,79.9 269.7,82.5 267.5,84.7 265.9,87.2 263.6,90.0 261.9,92.7 258.0,93.2 254.2,93.2 250.7,93.4 247.8,94.1 246.5,97.6 244.0,100.9 244.0,103.9 243.8,107.2 243.0,110.1 241.7,113.1 241.2,115.8 239.6,119.0 238.4,121.1 236.6,123.9 235.0,126.6 232.9,129.1 229.9,130.1 227.6,129.7 224.3,130.5" stroke-width="1.25"/>
<polyline points="261.7,93.2 264.8,93.0 267.7,92.7 270.6,92.4 273.7,92.5 276.9,92.7 279.8,93.3 282.8,92.7 286.5,92.7 288.7,92.9 289.0,96.2 289.0,98.9 289.2,102.4 288.8,105.0 289.5,108.3 289.6,112.0 289.2,114.4 289.0,117.5 289.3,121.2 289.4,124.2 289.6,127.8 289.4,130.6 292.7,130.6 294.9,131.0 298.0,130.5 301.4,131.0 304.7,130.6 308.2,131.0 311.0,130.5 313.6,131.0 317.2,131.0 320.0,131.1 322.7,130.4 326.7,130.9 329.0,130.5 332.1,130.7 335.5,130.6" stroke-width="1.25"/>
<polyline points="278.5,67.8 282.1,68.8 286.0,71.1 289.9,72.8 293.2,74.5 296.1,76.3 299.4,78.3 302.4,80.8 305.4,83.1 308.7,85.4 311.0,87.7 312.6,89.8 315.2,91.7 317.4,94.7 319.6,96.7 321.9,98.2 325.1,100.6 328.2,102.5 331.5,104.8 334.2,106.3 336.7,108.8 339.5,110.2 342.3,112.0" stroke-width="1.25"/>
<polyline points="340.3,117.7 337.8,118.9 335.3,120.9 335.2,124.4 336.0,128.1 335.7,131.3 334.7,135.1 333.5,139.0 331.0,143.6 330.0,146.3 327.6,149.4 326.1,151.6 324.8,154.5 324.4,158.0 323.8,161.8 323.3,165.3 323.8,168.5 322.0,172.0 320.0,174.8 319.4,177.5 317.0,180.0 315.2,183.0 313.1,186.1 311.8,188.0 309.6,191.1 307.2,193.9 306.5,196.9 306.2,199.7 305.4,202.8 304.8,206.0 307.1,209.0 309.2,211.8 310.8,214.5 313.0,217.5" stroke-width="1.25"/>
<polyline points="381.4,121.9 383.4,124.6 384.1,127.2 385.3,130.5 386.4,133.1" stroke-width="1.25"/>
<polyline points="323.3,168.8 326.0,168.1 329.7,168.5 332.5,167.8 335.7,167.1 339.1,168.1 342.6,168.2 346.2,168.8 348.3,171.2 350.5,173.4 352.0,175.6" stroke-width="1.25"/>
<polyline points="306.2,190.4 305.8,193.3 305.2,196.6 305.5,200.1 304.7,202.6 305.2,206.4 307.1,208.7 309.4,211.9 311.3,215.0 313.2,217.5 316.0,218.3 319.0,220.2 321.7,221.1 324.6,222.3 327.5,223.4 331.6,223.7 334.8,224.5 337.9,225.7 341.6,226.7" stroke-width="1.25"/>
<polyline points="313.0,217.8 310.7,219.1 307.3,220.1 304.3,221.7 301.8,223.1 299.1,224.6 296.9,226.9 294.1,229.7 291.2,232.2 288.6,234.4 285.9,234.6 282.8,235.0 279.6,234.9 277.0,234.3 273.5,234.8 270.7,234.7 268.0,234.3 264.2,235.1 261.3,234.7 261.3,237.7 261.8,241.7 261.3,244.5 258.7,244.7 255.6,244.6 252.8,244.5 249.1,244.6 246.3,245.2 242.7,244.9 240.5,244.8 237.2,245.1 233.9,244.9" stroke-width="1.25"/>
<polyline points="233.2,129.7 233.7,132.5 233.1,135.4 233.8,139.2 233.4,142.3 232.9,145.3 233.0,149.3 234.6,151.8 235.1,155.1 236.2,158.5 238.6,158.0 242.3,156.9 245.6,156.2 248.9,156.5 251.4,155.5 255.7,157.0 258.8,157.9 261.7,158.2 266.0,158.7 268.3,160.8 271.4,163.7 274.1,165.5 276.6,167.1 280.9,168.8 283.9,169.5" stroke-width="1.25"/>
<polyline points="288.5,130.5 288.3,134.3 288.0,136.6 287.9,139.8 288.1,142.9 287.9,145.9 287.7,148.8 286.9,152.2 286.1,155.4 286.0,159.0 285.5,162.8 284.1,166.5 284.2,169.6 284.8,173.3 286.0,176.8 285.8,179.0 284.5,183.0 284.2,185.3 283.1,189.1 281.9,191.4 281.8,194.7 282.9,198.1 283.9,201.8 285.3,204.7 286.3,209.0 285.9,211.9 284.7,215.9 284.4,219.8 281.9,222.3 279.5,224.5 276.7,227.4 274.2,229.5 272.2,231.8 269.5,234.6" stroke-width="1.25"/>
<polyline points="197.0,135.5 200.2,136.6 203.0,137.8 206.1,139.0 209.6,140.2 212.3,142.2 215.6,144.5 217.0,146.2 219.3,148.9 222.3,151.1 223.9,153.8 225.7,156.0 227.0,159.6 227.5,162.1 228.4,164.7 230.9,163.0 233.7,160.1 235.7,158.0" stroke-width="1.25"/>
<polyline points="229.1,164.5 227.3,167.7 226.9,171.1 225.3,173.3 224.2,176.3 224.0,179.8 223.1,182.9 223.0,186.1 222.1,189.6 222.0,193.3" stroke-width="1.25"/>
<polyline points="178.1,157.5 181.1,159.7 183.5,161.5 186.2,162.6 189.2,164.3 192.2,165.2 194.0,166.8 195.5,170.1 197.5,173.6 199.4,176.5 200.0,179.6 200.6,182.6 201.6,185.7 202.8,189.0 203.6,192.5" stroke-width="1.25"/>
<polyline points="174.3,199.1 177.5,198.5 180.4,198.1 184.1,198.1 187.2,196.6 190.2,196.3 193.2,195.2 196.4,194.0 199.7,194.0 203.0,193.4 205.7,193.4 209.3,193.9 212.5,193.8 215.6,193.5 218.9,193.0 222.1,193.5 224.8,194.5 227.4,196.2 231.0,197.8 233.1,199.3 234.8,203.1 235.3,206.2 235.1,209.2 235.4,212.2 235.0,216.0 235.0,219.1 234.8,221.6 234.8,225.4 234.5,228.0 235.0,231.4 235.1,234.4 234.2,237.9 234.4,240.9 234.1,244.5 234.6,246.9 234.1,250.0 234.6,253.1 233.9,256.4 233.9,259.8" stroke-width="1.25"/>
<polyline points="196.7,193.7 196.9,196.7 197.8,199.3 198.6,202.4 198.6,206.0 198.8,208.0 199.8,211.1 200.7,214.9 202.2,217.2 203.0,220.4 203.8,223.3 204.7,227.0 206.3,230.4 207.9,234.3 208.7,238.2 209.1,240.9 209.7,243.7 209.9,246.9 209.5,250.0 209.3,253.3 209.2,256.5 208.7,259.8" stroke-width="1.25"/>
<polyline points="233.5,259.9 230.8,260.0 228.0,259.3 224.9,259.3 222.2,259.9 218.8,259.7 215.2,259.6 212.4,259.5 210.1,259.6 206.6,259.5 203.9,259.4 201.0,259.5 197.2,259.7 194.3,259.4 191.7,259.4 188.2,259.3 184.9,259.7 182.4,259.3 182.2,262.8 182.8,266.6 182.4,269.5 181.8,272.5 182.7,276.0 182.5,279.0 182.7,282.0 182.0,285.3 182.5,288.8 183.0,292.0 183.9,295.1 184.0,298.2 184.8,301.9 185.4,305.0 185.7,308.0" stroke-width="1.25"/>
<polyline points="262.0,234.5 261.6,237.7 261.4,240.6 261.4,243.4 261.9,246.6 261.8,249.8 261.3,252.6 261.5,255.8 261.4,259.5 261.9,261.8 261.7,265.7 261.9,268.7 261.8,271.5 261.0,274.2 261.8,277.5 261.5,280.9 261.4,283.5 261.3,287.3 261.5,290.2 261.7,292.8 261.4,296.1 261.5,299.2 261.2,302.1 261.7,305.0 261.4,308.6 261.7,311.5 261.1,314.7 261.7,317.2 261.2,321.0 261.5,324.0 261.1,327.2 261.6,329.6 261.7,332.9 261.2,336.5 264.3,337.3 268.4,339.4 271.3,340.5" stroke-width="1.25"/>
<polyline points="157.9,278.7 161.6,278.4 166.2,278.6 169.5,279.2 172.6,280.6 175.2,282.2 178.2,283.8 180.7,284.6 184.4,286.8 187.4,288.3 189.9,289.3 190.7,294.3 193.0,295.7 195.8,297.1 199.1,297.5 202.1,298.9 204.6,300.0 207.6,301.9 210.9,303.8 214.3,303.9 218.2,304.4 221.5,304.9 224.9,305.3 228.3,305.0 231.7,305.9 234.9,306.0 237.3,306.5 241.1,307.2 244.0,307.2 246.7,307.3 250.3,307.5 253.8,308.1 257.6,309.2 261.5,309.0" stroke-width="1.25"/>
<polyline points="185.3,308.2 183.3,309.1 180.1,310.9 177.4,312.5 175.3,314.6 172.4,315.6 169.8,317.0 167.0,318.4 164.2,319.9 161.5,321.4 158.8,322.6 155.8,324.0 153.6,325.9 151.4,328.8 148.7,331.4 146.3,332.5 143.2,333.8 140.1,334.5 137.5,335.4 135.2,338.4 132.5,340.4 130.7,342.5" stroke-width="1.25"/>
<polyline points="123.7,356.5 127.3,356.5 130.5,356.8 132.7,356.2 136.5,356.7 139.3,356.1 142.1,356.3 145.5,356.7 148.3,356.7 151.7,356.4 155.0,356.3 158.0,356.3 161.0,356.5 163.7,356.9 166.8,356.8 170.0,356.1 172.8,356.3 175.7,356.1 179.2,356.5 182.4,356.4 184.8,356.9 188.6,356.9 191.3,356.3 194.9,356.1 197.6,356.2 200.4,357.0 204.0,356.6 206.3,356.6 210.2,356.9 212.4,356.3 215.9,356.1 218.9,356.7 221.8,356.8 225.6,356.4 228.2,356.8 230.9,356.6 234.3,356.6" stroke-width="1.25"/>
<polyline points="126.6,422.5 129.6,422.6 132.8,421.8 135.9,422.2 138.7,422.2 141.8,422.1 144.7,422.6 147.5,422.1 150.7,421.7 153.5,422.2 157.4,422.3 159.7,421.7 162.8,422.6 165.8,422.5 169.2,421.8 172.5,422.1 174.7,422.6 178.3,421.8 181.1,422.1 184.0,422.3 187.7,422.4 190.1,422.7 193.4,422.2" stroke-width="1.25"/>
<polygon points="202.5,44.4 204.3,43.7 205.6,41.8 206.4,38.1 208.4,37.1 210.4,36.1 211.6,32.9 213.8,31.3 214.7,30.4 216.5,31.3 219.8,32.1 221.9,33.4 223.4,34.9 226.0,33.4 229.1,34.5 231.4,35.5 233.4,34.9 236.7,34.5 238.8,34.8 241.4,36.0 241.9,38.9 243.3,41.2 245.3,43.6 247.4,46.1 249.1,42.7 248.7,40.6 249.8,38.4 252.7,35.8 252.8,33.1 255.7,33.7 257.6,34.5 259.5,33.9 261.7,34.4 265.4,33.3 267.6,32.9 268.3,33.2 271.1,32.8 273.1,36.1 275.1,38.7 276.8,40.2 279.9,41.8 280.3,43.5 282.1,45.8 284.9,48.8 286.3,49.1 288.4,52.2 290.1,53.0 292.2,54.3 294.7,55.4 295.5,58.7 296.7,60.5 299.3,61.4 301.8,64.1 302.7,63.2 304.8,63.8 308.0,64.3 310.5,64.1 311.7,65.3 314.5,65.6 317.4,66.3 318.3,66.7 320.3,69.1 323.9,70.5 325.0,71.6 327.2,71.6 328.2,74.1 331.1,74.9 332.9,75.3 334.7,76.7 337.2,77.8 339.3,79.2 340.8,80.4 343.2,80.3 345.5,80.5 347.4,81.3 350.4,82.4 352.9,84.0 354.7,85.4 355.1,88.2 357.5,90.4 356.3,92.9 353.2,94.7 352.9,97.9 351.1,99.1 348.9,101.1 347.5,103.8 346.1,106.7 344.6,108.7 343.4,110.6 341.7,113.3 342.1,115.7 340.8,117.4 342.8,118.8 344.8,118.7 348.4,118.8 349.9,118.5 352.9,119.6 354.5,119.5 358.1,119.5 360.7,121.0 361.9,121.7 364.6,121.2 367.2,120.4 369.4,120.5 372.5,122.0 373.7,120.8 376.8,121.6 379.2,121.8 382.7,120.9 383.5,122.7 386.7,124.4 387.5,122.3 389.6,120.0 390.2,118.6 392.3,116.7 394.4,113.7 396.5,113.5 397.6,111.8 398.8,109.9 400.5,107.9 402.3,106.5 403.4,104.2 402.5,102.3 403.9,100.2 404.1,96.1 403.5,95.4 404.8,92.1 407.9,91.0 410.5,90.7 411.7,91.3 415.2,91.8 416.9,95.4 419.2,96.7 419.4,99.6 419.2,102.2 418.9,103.3 419.6,107.0 419.4,108.4 420.5,112.0 420.8,114.5 418.2,115.3 416.3,116.8 415.8,119.0 412.9,120.3 410.0,122.1 408.9,123.0 405.9,123.5 405.0,124.7 402.2,125.8 400.9,126.5 398.7,126.8 396.5,128.8 393.9,130.0 391.8,131.3 390.4,131.1 388.4,133.6 387.0,135.1 385.6,136.2 384.1,138.8 383.1,140.1 380.4,142.9 380.2,143.2 377.8,146.3 376.6,147.1 375.7,149.9 374.3,150.0 372.4,153.5 371.1,154.2 369.5,155.9 366.6,157.6 365.2,158.3 363.6,158.9 361.7,161.2 361.0,162.5 358.8,164.7 357.2,165.9 355.2,166.7 353.9,168.3 352.0,171.7 351.9,173.7 351.4,175.1 350.6,177.6 350.2,180.0 349.0,181.9 349.8,184.7 348.5,187.5 348.0,190.0 348.9,191.8 347.4,194.9 347.4,195.8 346.7,199.7 346.7,202.0 345.6,204.5 346.2,205.9 346.1,208.3 344.8,210.9 345.7,213.5 344.5,216.1 343.3,218.3 341.5,219.4 341.6,222.1 342.0,225.0 341.7,227.7 343.0,229.9 344.1,232.5 346.8,233.6 348.3,233.7 349.3,236.3 351.9,237.0 353.2,239.6 355.2,240.1 356.8,242.6 358.7,243.3 360.0,246.6 361.8,246.9 362.2,251.1 363.5,253.0 362.1,255.0 360.4,256.7 360.7,259.6 361.4,260.9 364.7,261.8 365.7,264.1 367.6,266.0 369.7,267.4 371.0,270.5 371.0,271.8 370.2,274.2 369.5,275.9 368.9,278.0 366.5,278.7 365.4,281.0 362.5,283.1 361.6,284.4 359.7,286.5 357.8,287.6 357.4,289.9 355.3,291.1 353.8,294.5 351.4,295.3 350.0,296.0 347.9,298.1 346.9,298.4 344.6,299.5 342.3,300.9 339.0,300.8 336.6,301.6 334.2,302.5 333.1,301.8 330.3,302.2 326.6,302.8 325.0,304.6 321.8,305.2 319.9,304.5 317.8,306.0 315.1,305.7 313.5,306.7 309.9,306.5 309.1,307.2 305.3,307.6 303.9,307.7 301.1,308.1 299.5,307.0 296.7,307.1 294.8,308.4 291.7,308.8 290.4,308.6 287.3,309.2 286.2,307.2 284.8,306.4 284.3,308.0 282.7,310.2 283.0,312.2 281.3,315.8 282.2,318.2 281.4,319.3 280.2,322.7 279.7,323.9 280.3,327.3 278.8,328.5 280.5,330.8 280.4,334.4 279.7,335.3 278.9,336.8 277.9,338.7 276.1,340.5 273.2,341.1 271.3,342.0 269.8,342.1 266.4,342.7 264.9,343.8 262.3,343.3 260.0,343.6 258.1,342.9 254.9,343.4 252.1,343.1 251.2,342.5 248.3,341.2 245.9,340.8 243.5,340.5 242.7,338.5 240.4,338.5 238.4,337.7 234.4,338.9 233.4,340.6 233.1,342.2 233.0,345.9 233.3,348.1 235.4,352.0 233.9,354.0 234.0,357.5 237.1,359.1 239.3,361.0 242.8,361.1 245.7,360.7 247.7,361.5 251.0,359.7 253.9,358.7 257.2,359.3 257.9,361.7 258.8,364.0 258.2,366.5 258.0,370.0 256.3,370.4 254.8,371.0 251.2,372.2 249.0,371.5 246.4,368.3 243.7,367.1 240.9,364.9 240.3,366.8 237.9,367.0 234.9,367.7 238.5,372.1 240.1,372.1 242.8,372.9 245.5,373.5 242.5,374.5 240.8,376.0 238.2,375.6 236.9,378.2 234.2,379.6 232.6,382.7 232.3,384.8 231.0,386.9 230.0,388.1 229.1,390.4 229.7,393.9 228.1,394.8 226.9,397.7 226.3,399.2 224.1,400.5 222.4,401.0 219.8,401.9 217.9,404.4 215.7,404.4 213.0,405.7 210.3,407.5 208.1,409.1 205.5,409.1 203.5,411.1 202.2,411.7 199.9,412.2 197.7,414.4 197.1,416.6 196.3,418.3 194.2,420.2 193.9,423.9 193.6,424.6 194.4,427.0 195.8,430.0 196.0,430.9 198.0,432.7 200.2,435.1 202.2,434.6 203.9,436.6 206.0,436.5 208.4,438.3 210.7,438.1 211.8,439.2 215.1,440.4 217.8,440.9 219.7,441.4 220.8,442.2 223.9,444.7 222.6,446.1 221.5,448.6 221.3,451.1 221.0,454.2 218.0,455.8 216.6,456.3 215.3,457.2 213.1,458.0 211.2,459.0 209.0,461.6 205.9,461.9 204.4,463.4 201.6,464.2 199.8,464.0 198.6,468.0 196.5,469.5 195.1,472.9 194.0,475.2 193.1,476.5 191.7,480.9 189.2,480.8 186.6,483.5 183.8,483.6 182.6,485.7 179.3,486.4 176.6,487.1 175.9,490.0 173.5,492.1 170.7,493.8 169.9,494.1 168.0,497.5 167.8,499.6 168.3,502.9 167.5,505.6 167.7,507.7 169.5,509.5 169.7,512.1 171.2,515.0 172.0,518.1 173.5,518.2 176.2,520.3 176.9,522.2 178.1,523.2 180.5,526.1 178.2,525.0 176.4,523.2 174.2,524.0 172.7,523.0 169.8,522.5 168.2,522.3 166.1,521.9 163.1,521.3 161.3,521.2 159.1,520.7 157.0,520.3 154.7,521.1 151.5,520.5 150.0,520.5 148.1,520.0 144.6,519.8 143.9,520.6 141.7,520.3 139.4,519.8 136.5,520.5 133.9,519.4 131.2,520.0 129.2,519.7 128.1,520.4 124.4,519.9 122.9,519.3 120.8,517.0 120.3,516.3 118.2,514.1 116.5,510.5 117.1,508.5 115.9,506.0 116.6,503.0 114.7,501.0 115.6,497.5 112.8,499.4 110.5,498.1 107.9,499.4 105.7,499.0 103.2,499.9 101.4,499.7 99.2,497.1 97.0,494.8 96.2,492.0 95.8,490.3 96.9,488.2 97.1,486.0 96.6,481.8 97.0,480.0 100.0,479.4 103.4,479.3 104.3,476.3 104.8,474.3 105.8,472.9 108.0,471.0 109.0,469.0 110.0,468.2 111.3,464.8 113.0,463.9 113.3,462.0 115.3,459.2 115.2,457.6 116.4,455.7 116.5,452.5 117.0,451.2 118.1,448.5 119.1,444.9 120.4,442.8 119.5,441.7 120.7,437.8 121.1,436.5 122.9,433.8 123.1,431.1 124.6,428.5 123.6,427.3 125.4,424.7 126.1,422.5 125.3,418.6 127.4,416.3 128.8,414.2 131.0,412.0 129.4,411.6 126.5,408.8 124.8,406.5 123.2,404.8 121.7,403.0 125.1,402.8 127.8,402.9 129.9,401.6 131.9,402.3 134.7,402.0 132.7,399.7 132.1,397.0 129.7,394.9 129.2,393.9 127.6,391.2 125.5,390.0 124.5,387.0 125.6,384.4 124.7,381.6 123.4,379.3 123.8,376.4 123.1,374.8 123.4,371.1 122.6,368.7 122.6,366.9 121.8,364.9 121.5,362.7 121.3,360.2 122.6,357.3 123.4,355.9 122.8,353.3 123.5,352.2 124.6,348.3 125.1,347.1 125.0,343.8 124.0,342.6 124.9,339.4 124.1,336.1 123.8,334.0 124.7,331.6 125.9,330.0 126.7,327.3 126.5,324.5 127.8,321.3 128.4,320.5 130.4,317.5 129.5,315.5 130.4,313.1 131.1,311.2 133.0,308.6 134.4,306.6 137.0,305.6 135.8,301.8 136.2,299.7 135.2,298.0 135.9,294.9 136.2,292.7 135.4,290.3 135.6,288.7 134.4,285.7 135.2,283.9 135.4,280.2 134.7,279.3 135.5,277.1 136.4,274.2 136.6,271.0 138.3,269.7 139.4,266.8 141.6,265.1 143.1,262.5 144.9,261.3 146.6,259.1 146.4,258.6 147.7,255.3 146.5,253.7 146.6,251.5 147.0,249.8 145.8,245.9 147.3,244.0 147.2,242.1 148.1,240.6 151.6,238.1 152.8,235.7 153.7,232.0 154.9,231.0 154.6,228.5 155.4,225.4 154.4,224.2 155.2,220.7 154.1,218.7 154.0,217.3 152.3,214.4 151.9,211.8 151.9,209.1 150.2,207.9 150.1,205.1 149.1,202.7 149.0,201.4 149.0,198.8 147.9,196.4 147.4,194.6 147.5,191.8 147.2,188.7 146.4,185.9 147.0,184.0 146.5,182.1 147.1,179.0 147.8,176.2 149.2,175.6 149.6,172.3 151.4,171.3 152.4,169.3 151.8,165.8 152.5,164.3 154.2,161.2 155.0,159.4 154.4,156.9 155.1,154.7 156.1,151.8 156.5,148.8 157.1,147.2 156.9,144.4 158.3,141.6 158.3,138.8 159.9,137.9 161.3,134.6 164.1,133.9 164.7,131.1 167.9,130.3 168.7,127.1 169.5,125.4 171.6,122.5 172.3,120.6 173.7,117.6 174.3,116.6 176.9,114.1 179.2,111.1 178.2,109.4 179.7,107.2 179.5,104.4 179.0,102.9 178.5,99.8 179.4,97.1 177.7,95.0 177.7,93.1 177.5,90.6 176.9,88.4 177.8,85.1 177.6,83.6 177.2,79.4 178.1,77.3 178.8,73.8 180.6,72.9 182.9,72.6 185.0,72.2 186.4,71.5 189.6,69.4 191.5,70.1 194.1,68.2 194.5,66.3 197.0,64.3 199.0,62.6 200.4,59.7 201.3,57.3 200.6,56.5 200.9,53.7 202.3,52.2 202.0,49.8 201.7,47.4 202.3,45.0" stroke-width="1.3"/>
<polygon points="176.5,535.0 182.1,538.5 191.4,546.0 205.4,554.5 217.9,559.5 230.3,562.3 233.4,564.6 227.2,567.0 210.0,567.7 186.7,567.0 176.6,566.2" stroke-width="1.2"/>
<polyline points="141.1,114.0 139.9,116.3 139.1,118.6 139.9,118.7 138.7,121.1 137.5,123.3 137.8,123.9 137.1,125.4 137.1,128.6 136.3,128.5 136.5,131.5 135.2,133.0 134.2,134.8 135.1,135.3 133.5,137.2 132.4,138.5 132.4,139.9 132.4,141.9 131.9,144.9 132.0,145.2 130.3,147.6 129.8,148.9 129.5,150.8 129.8,152.3 129.8,153.6 128.9,155.3 128.2,156.6 128.1,158.7 127.5,161.1 128.6,163.0 128.4,162.9 127.9,166.0 128.0,167.6 127.8,168.9 126.6,170.2 127.1,172.2 127.0,172.8 126.3,175.8 126.8,176.8 126.4,178.0 126.6,180.7 125.7,181.5 125.9,183.9 125.1,185.9 126.7,187.3 125.9,188.2 127.0,189.2 126.4,192.0 127.4,192.9 127.8,195.5 129.9,196.8 129.2,198.8 131.1,199.7 129.7,201.4 129.5,202.8 130.3,205.5 129.0,206.4 127.9,208.5 127.9,210.6 127.2,211.7 127.7,213.6 127.1,214.7 127.8,217.0 127.2,218.4 126.5,220.8 126.0,221.6 125.2,222.3 125.7,224.9 124.2,226.9 122.8,227.6 123.7,230.1 122.4,231.7 122.7,232.7 120.7,235.2 121.0,237.0 120.8,237.6 119.1,239.9 119.4,241.2 119.3,243.0 118.7,243.9 116.4,246.0 115.8,248.5 115.7,250.2 114.2,251.5 114.6,253.1 113.3,253.3 112.7,254.7 110.8,256.4 109.9,259.5 110.3,261.0 109.4,261.7 109.7,264.4 109.1,265.8 108.7,267.3 107.9,268.6 105.2,268.9 104.9,270.3 105.0,272.7 103.3,272.9 101.5,273.9 100.3,275.2 100.2,276.3 98.3,277.8 97.9,279.0 95.3,279.6 94.1,280.1 95.0,282.4 94.5,284.1 94.2,285.7 95.6,287.9 95.3,288.3 95.8,291.3 95.7,291.6 95.9,293.2 97.6,295.1 96.7,296.1 96.9,298.5 97.0,299.4 97.6,302.1 98.7,303.0 99.2,304.3 98.8,306.3 100.1,308.5 101.0,309.3 100.5,310.8 100.3,313.2 101.4,315.3 100.9,316.4 99.7,318.7 100.1,320.5 99.8,320.6 97.6,322.7 96.1,322.8 95.2,323.4 94.7,325.2 92.9,327.0 93.3,327.1 93.5,329.2 92.4,330.6 92.1,332.3 92.6,333.7 91.2,335.9 91.5,337.6 90.8,338.8 90.4,341.0 90.1,343.3 88.7,344.4 89.9,346.6 89.5,347.5 91.4,348.4 92.3,350.9 93.3,350.3 94.6,351.6 95.8,352.1 98.1,350.6 100.2,351.1 100.8,349.1 102.5,349.1 104.4,350.0 105.4,348.8 107.0,348.6 110.0,348.9 111.7,348.3 113.0,347.9 114.4,347.7 116.4,348.3 115.0,350.2 113.8,350.8 112.6,353.9 111.3,354.6 110.1,356.0 110.1,357.6 112.2,358.5 112.7,360.6 112.0,359.8 113.4,361.4 112.3,362.1 109.7,365.3 109.6,366.0 110.3,366.8 109.7,367.7 108.0,369.2 109.2,372.7 108.4,373.4 109.4,374.8 108.7,378.3 108.1,379.5 106.6,380.2 107.5,380.2 106.1,383.2 106.3,384.2 106.3,386.3 105.9,388.0 104.2,389.5 104.0,388.4 103.6,391.2 102.2,393.0 103.0,394.9 101.9,395.1 103.7,396.3 105.5,395.0 107.1,395.8 107.2,396.3 109.9,396.7 109.4,398.5 106.4,400.4 107.5,401.6 105.0,401.5 104.7,402.3 102.6,404.4 101.2,405.3 102.0,407.0 100.0,407.3 99.1,408.2 98.6,409.1 99.3,410.1 99.4,412.2 96.9,413.1 96.4,415.7 96.5,415.3 96.2,418.7 95.8,417.9 95.0,420.7 95.0,421.3 92.9,423.4 93.3,426.1 91.9,425.1 91.0,426.3 90.1,427.0 88.2,425.0 88.3,423.3 86.6,423.2 86.8,422.8 83.7,421.1 84.2,420.2 82.5,419.1 82.7,419.8 80.7,419.7 77.9,421.3 76.2,422.2 74.9,422.9 75.4,421.7 72.6,423.1 72.1,426.1 71.3,425.9 69.2,426.3 67.4,428.7 66.4,429.2 65.4,429.7 66.4,430.7 65.6,430.6 64.5,433.9 63.8,433.6 61.6,437.0 63.6,435.9 63.6,434.4 65.7,434.0 68.6,433.6 70.4,435.5 71.2,433.1 73.2,435.8 73.5,436.0 76.7,434.9 76.5,435.2 78.8,434.6 81.1,435.9 81.7,437.1 81.9,436.6 83.6,438.4 86.7,437.5 85.5,438.9 88.1,441.6 87.9,442.3 85.1,443.5 83.9,443.1 82.1,445.5 82.3,447.2 81.7,446.3 79.2,447.6 78.9,450.4 78.6,450.6 78.5,450.6 81.8,450.4 82.8,451.5 84.0,451.9 86.2,453.4 88.5,452.4 90.2,452.9 91.0,453.1 93.2,453.0 93.1,453.9 94.9,452.9 97.3,454.0 96.6,453.7 99.5,453.5 99.4,453.2 96.6,456.0 95.3,455.6 95.2,456.8 93.3,457.8 90.5,457.9 88.7,457.0 89.3,459.3 88.4,458.0 85.8,458.3 83.2,460.2 81.6,459.0 84.0,461.4 83.5,463.1 83.3,465.2 85.5,467.7 83.4,468.1 84.6,470.5 86.7,472.7 84.8,472.0 87.7,475.0 87.9,475.0 86.1,477.4 87.9,478.4" stroke-width="1"/>
<polygon points="87.0,353.4 88.9,353.5 90.5,355.0 92.0,355.4 93.6,354.7 95.0,355.4 97.5,354.8 97.5,356.3 98.8,358.1 96.7,358.5 96.3,359.5 96.4,360.8 95.9,362.1 97.6,364.5 96.7,365.0 95.9,367.9 97.2,368.7 95.4,370.4 96.7,372.6 97.0,374.8 94.5,375.9 94.3,376.5 93.5,377.8 92.2,379.6 91.1,379.6 89.5,379.2 88.3,380.2 87.2,378.2 85.8,378.3 84.2,377.2 83.6,377.4 83.9,376.1 83.4,373.6 84.1,371.9 84.6,372.2 84.9,369.1 85.0,368.2 83.9,368.1 85.0,364.8 85.4,364.6 86.9,362.0 86.9,360.7 85.8,359.2 87.4,359.3 87.9,356.7 88.0,355.6 88.1,354.0" stroke-width="1"/>
<polyline points="183.2,16.9 184.1,21.0 183.4,23.3 184.5,25.6 184.8,29.3 185.1,30.6 185.7,34.7 186.9,37.6 187.2,40.9 187.2,43.1 188.5,45.2 191.3,46.6 193.2,47.5 196.4,46.8 198.4,47.9 202.3,45.0" stroke-width="0.9"/>
<polyline points="281.5,16.2 279.9,19.6 280.4,22.4 278.9,25.1 277.9,26.9 276.6,29.0 277.1,31.5 275.4,34.5 274.4,36.7" stroke="#222" stroke-width="1"/>
<polyline points="351.5,22.3 351.0,25.9 350.7,29.2 351.8,30.9 351.3,35.1 352.9,35.4 356.3,35.3 359.2,37.0 361.9,36.5 364.0,37.6 366.9,36.8 369.4,38.2 371.4,36.1 374.4,34.6 377.1,36.5 378.8,37.0 382.0,37.6 384.0,36.9 386.8,40.0 388.2,43.0 389.7,47.1 388.7,50.2 389.7,52.9 389.4,55.5 390.2,57.7 390.2,62.1 392.3,64.3 394.7,65.4 397.8,65.2 399.9,63.9 402.9,62.8 404.8,63.5 407.5,64.3 411.2,65.2 409.4,68.5 410.3,71.3 410.7,73.6 409.9,76.4 408.0,79.7 407.5,81.4 406.8,85.4 407.2,87.4 404.7,89.0 404.5,92.2" stroke="#222" stroke-width="1"/>
<polyline points="352.5,168.2 355.1,168.6 358.1,166.2 361.5,165.7 362.4,164.2 365.4,164.3 368.5,165.8 371.1,167.7 373.3,169.0 374.6,170.1 377.7,171.6 379.3,173.8 381.5,175.8 385.0,176.0 388.4,177.1 391.1,178.7 392.9,180.9 394.8,181.9 397.7,183.7 400.3,185.4 402.8,186.4 406.0,187.8 410.1,189.4 410.9,192.6 413.9,192.7 415.6,194.5 418.6,196.4 421.0,199.7 423.8,200.6 425.8,203.3 428.7,205.4 427.7,208.3 425.8,210.0 424.9,213.2 422.9,215.6 423.8,218.4 422.9,220.7 423.4,224.0 420.7,225.8 419.9,229.2 416.8,230.3 415.2,232.9 412.8,234.3 412.0,237.8 408.1,237.7 406.5,238.3 404.2,238.5 401.3,239.7 398.6,241.1 396.5,242.0 392.6,240.9 390.9,242.2 387.8,241.4 385.2,241.2 383.2,242.1 379.3,240.8 376.6,241.6 374.8,241.3 372.2,239.9 369.0,239.6 367.2,237.6 365.0,237.4 361.1,236.2 359.2,236.1 356.9,234.2 353.3,234.1 350.3,232.7 348.7,230.7 345.1,230.2" stroke="#111" stroke-width="1"/>
<polyline points="87.1,478.5 86.3,480.0 85.9,479.7 82.9,483.4 82.5,482.9 83.5,484.9 82.4,486.3 81.2,486.8 80.6,490.3 79.7,491.3 79.5,490.7 80.8,493.6 80.4,493.3 83.1,495.9 83.7,498.5 84.6,499.9 84.7,500.9 85.7,502.8 87.8,501.7 86.4,503.6 89.8,505.7 89.7,506.8 90.2,508.6 90.7,510.7 92.3,513.2 93.3,514.8 94.7,516.5 94.9,515.5 95.0,519.7 94.7,520.4 93.6,521.1 94.3,523.8 93.1,523.9 95.1,528.3 93.2,529.4 94.3,529.0 94.0,532.3 95.9,531.6 95.2,533.1 95.7,535.5 96.4,539.0 95.5,540.7 95.1,539.5 96.3,541.0 95.3,543.7 97.8,544.0 97.4,547.1 99.5,548.4 102.6,547.6 102.6,549.1 104.4,550.3 105.7,551.2 108.4,551.8 108.4,553.3 109.4,552.9 113.1,554.5 113.3,553.7 114.4,556.1 114.7,556.9 118.0,556.0 119.4,557.9 121.1,558.3 122.6,560.2 122.1,558.3 125.5,561.1 125.8,559.7 128.3,559.5 129.1,559.6 130.6,560.5 131.9,560.0 134.8,559.1 135.7,561.3 136.4,559.9 139.4,560.1 139.1,560.8 142.1,559.9 142.6,560.8 145.7,561.2 147.3,560.5 147.3,562.1 150.5,561.7 150.0,560.8 152.5,561.1 154.9,563.2 154.6,561.7 158.0,562.9 159.6,562.1 159.1,562.1 162.6,562.2 162.8,562.8 164.6,562.9 167.6,562.3 166.4,564.9 170.6,565.2 170.8,565.3 173.8,563.3 174.8,565.3 176.1,564.6 177.1,564.7" stroke-width="1.1"/>
<polygon points="99.8,519.7 99.3,521.7 96.1,521.1 94.4,519.7 96.1,518.4 99.1,517.9" stroke-width="1.1"/>
<polygon points="93.8,500.0 93.0,501.0 91.5,501.3 89.5,501.2 89.5,500.0 89.6,498.9 91.5,498.1 93.6,498.8" stroke-width="1.1"/>
<polygon points="107.2,502.6 107.4,505.0 103.0,504.9 103.0,502.6 103.7,501.0 106.3,501.4" stroke-width="1.1"/>
<polygon points="95.2,518.6 94.0,519.6 92.6,519.0 92.0,518.0 94.1,517.5" stroke-width="1.1"/>
<polygon points="100.6,518.3 98.3,520.2 95.1,519.3 95.6,517.5 97.9,517.0" stroke-width="1.1"/>
<polygon points="103.9,520.2 103.3,521.0 101.7,521.1 100.7,520.2 102.0,519.6 103.3,519.5" stroke-width="1.1"/>
<polygon points="125.9,560.4 124.8,561.5 122.2,562.1 120.8,560.4 122.7,559.3 125.3,558.8" stroke-width="1.1"/>
<polygon points="141.5,561.3 140.1,562.0 138.4,562.4 138.0,561.3 138.6,560.4 140.2,560.5" stroke-width="1.1"/>
<polygon points="128.8,560.0 127.1,560.7 125.4,560.6 125.7,559.5 127.1,559.2" stroke-width="1.1"/>
<polygon points="175.2,556.8 172.4,557.8 170.8,559.1 167.7,558.7 167.3,556.8 168.2,555.2 170.8,555.0 173.8,555.0" stroke-width="1.1"/>
<polygon points="160.9,557.8 159.6,558.8 157.6,559.8 155.9,558.6 156.7,557.4 157.6,555.8 159.4,557.0" stroke-width="1.1"/>
<polygon points="136.4,552.3 134.1,554.1 131.0,553.3 130.0,550.9 133.8,551.1" stroke-width="1.1"/>
<polygon points="141.3,555.7 139.9,556.4 138.9,557.1 137.6,556.5 136.0,555.7 136.7,554.4 138.9,554.8 140.0,555.0" stroke-width="1.1"/>
<polygon points="157.9,558.9 156.9,559.4 156.0,559.6 155.0,559.5 154.1,558.9 155.2,558.4 156.0,558.2 156.7,558.4" stroke-width="1.1"/>
<polyline points="89.3,502.7 90.0,504.5 89.7,506.4 89.3,508.2" stroke-width="1.1"/>
<polyline points="96.7,501.3 95.6,500.0 95.8,498.3 95.7,496.5" stroke-width="1.1"/>
<polyline points="81.2,458.0 81.5,457.0 81.9,456.0 81.4,455.2" stroke-width="1.1"/>
<polyline points="131.9,560.2 132.0,558.4 133.0,556.9 134.7,556.1" stroke-width="1.1"/>
<polyline points="91.8,453.1 92.4,454.9 91.0,456.2 91.5,458.0" stroke-width="1.1"/>
<polyline points="89.6,490.1 89.7,489.1 90.5,488.4 90.9,487.4" stroke-width="1.1"/>
<polyline points="91.0,457.0 89.7,457.9 88.6,459.1 89.3,460.6" stroke-width="1.1"/>
<polyline points="87.2,454.5 87.8,453.3 88.5,452.2 89.8,452.0" stroke-width="1.1"/>
<polyline points="108.7,551.0 109.6,550.8 110.3,551.4 110.3,552.3" stroke-width="1.1"/>
<polyline points="125.4,559.1 125.7,558.2 126.4,557.4 127.4,557.2" stroke-width="1.1"/>
<polyline points="105.9,543.3 105.9,541.3 105.6,539.4 106.4,537.6" stroke-width="1.1"/>
<polyline points="113.5,552.6 112.2,554.1 112.1,556.0 111.2,557.8" stroke-width="1.1"/>
<polyline points="93.0,481.7 92.7,483.6 91.0,484.5 89.1,484.2" stroke-width="1.1"/>
<polyline points="122.0,557.8 122.8,558.0 123.5,558.6 124.3,558.2" stroke-width="1.1"/>
<polyline points="87.6,474.5 88.8,474.9 89.7,475.7 90.9,475.5" stroke-width="1.1"/>
<polyline points="175.9,561.9 175.6,560.5 176.7,559.5 178.2,559.9" stroke-width="1.1"/>
<polyline points="139.8,560.9 138.6,559.4 137.4,557.9 136.8,556.0" stroke-width="1.1"/>
<polyline points="91.0,462.9 91.2,462.0 91.6,461.2 91.7,460.3" stroke-width="1.1"/>
<polyline points="117.6,548.9 117.8,547.8 118.8,547.1 119.9,546.8" stroke-width="1.1"/>
<polyline points="144.0,556.1 144.4,557.6 143.8,559.0 142.6,559.9" stroke-width="1.1"/>
<polyline points="86.7,474.9 85.6,475.1 84.5,475.4 84.2,476.4" stroke-width="1.1"/>
<polyline points="112.7,517.0 113.6,516.7 114.4,516.9 115.1,517.5" stroke-width="1.1"/>
<polyline points="83.1,438.5 84.4,439.7 85.9,440.6 87.6,440.0" stroke-width="1.1"/>
<polyline points="149.8,560.6 149.7,559.2 150.1,557.8 150.6,556.5" stroke-width="1.1"/>
<polyline points="84.5,438.9 83.9,439.5 83.1,439.7 82.4,440.1" stroke-width="1.1"/>
<polyline points="87.5,464.6 86.1,463.7 84.8,462.7 84.2,461.2" stroke-width="1.1"/>
<polyline points="82.0,465.1 80.7,464.1 80.5,462.4 80.1,460.7" stroke-width="1.1"/>
<polyline points="117.8,557.3 116.9,557.2 116.7,556.3 116.8,555.4" stroke-width="1.1"/>
<polyline points="126.9,557.5 126.9,556.6 126.5,555.7 127.0,554.9" stroke-width="1.1"/>
<polyline points="81.6,461.6 83.4,461.9 84.2,463.5 85.7,464.5" stroke-width="1.1"/>
<polyline points="143.3,560.2 145.2,560.8 146.7,562.1 146.4,564.1" stroke-width="1.1"/>
<polyline points="160.3,556.9 158.9,558.1 158.1,559.7 158.7,561.4" stroke-width="1.1"/>
<polyline points="156.7,559.7 154.9,559.4 153.2,560.2 151.3,560.2" stroke-width="1.1"/>
<polyline points="101.2,530.3 99.6,529.2 99.2,527.4 99.9,525.6" stroke-width="1.1"/>
<polyline points="99.3,529.1 98.3,528.6 98.0,527.5 97.1,526.7" stroke-width="1.1"/>
<polyline points="93.3,448.4 94.4,448.1 95.6,447.9 96.7,448.4" stroke-width="1.1"/>
<polyline points="78.8,435.7 79.4,437.5 78.1,438.9 76.9,440.4" stroke-width="1.1"/>
<polyline points="105.9,553.5 106.6,554.5 107.7,554.7 108.9,554.7" stroke-width="1.1"/>
<polyline points="86.6,446.7 88.5,446.9 89.1,448.6 88.8,450.4" stroke-width="1.1"/>
<polyline points="108.4,546.8 108.6,548.6 107.5,550.1 105.9,551.0" stroke-width="1.1"/>
<polyline points="141.1,555.3 141.5,553.7 143.2,553.2 144.9,553.0" stroke-width="1.1"/>
<polyline points="100.2,513.6 99.9,514.4 99.3,515.1 99.5,515.9" stroke-width="1.1"/>
<polyline points="161.8,557.4 162.4,556.1 163.0,554.7 163.1,553.2" stroke-width="1.1"/>
<polyline points="167.9,558.3 169.1,557.5 170.5,557.2 171.6,556.3" stroke-width="1.1"/>
<polyline points="94.8,464.4 94.7,465.6 95.6,466.3 96.5,467.1" stroke-width="1.1"/>
<polyline points="93.5,459.9 95.2,459.9 96.6,460.9 97.0,462.7" stroke-width="1.1"/>
<polyline points="167.7,562.9 168.6,562.4 168.5,561.4 168.5,560.4" stroke-width="1.1"/>
<polyline points="85.7,445.8 87.4,445.6 88.3,444.1 90.0,444.3" stroke-width="1.1"/>
<polyline points="97.9,497.6 97.5,498.6 96.5,499.3 96.2,500.4" stroke-width="1.1"/>
<polyline points="102.4,513.8 103.3,514.4 104.2,515.1 105.2,515.5" stroke-width="1.1"/>
<polyline points="90.0,496.3 88.8,496.7 88.3,497.9 89.0,499.0" stroke-width="1.1"/>
<polyline points="97.6,513.6 96.5,512.1 96.7,510.3 98.4,509.5" stroke-width="1.1"/>
<polyline points="84.4,473.4 85.6,473.5 86.6,472.9 87.3,472.0" stroke-width="1.1"/>
<polyline points="164.9,560.3 166.3,560.3 167.7,560.8 168.9,561.6" stroke-width="1.1"/>
<polyline points="161.8,559.4 161.1,560.3 160.6,561.3 160.4,562.3" stroke-width="1.1"/>
<polyline points="97.3,454.8 98.5,454.1 99.5,453.2 100.9,453.4" stroke-width="1.1"/>
<polyline points="169.4,561.8 168.2,560.4 166.6,559.4 164.9,558.6" stroke-width="1.1"/>
<polyline points="143.7,559.6 144.7,559.3 145.8,559.4 146.3,558.6" stroke-width="1.1"/>
<polyline points="93.6,491.3 92.9,491.8 92.1,492.4 91.4,492.9" stroke-width="1.1"/>
<polyline points="104.3,506.0 103.5,504.9 103.5,503.5 102.7,502.4" stroke-width="1.1"/>
<polyline points="108.3,516.3 109.1,515.8 110.1,515.7 111.0,516.3" stroke-width="1.1"/>
<polyline points="111.9,549.4 113.2,549.5 114.4,549.2 115.2,548.2" stroke-width="1.1"/>
<polyline points="88.2,501.0 89.4,500.1 90.4,498.9 91.0,497.6" stroke-width="1.1"/>
<polyline points="139.8,556.8 138.9,556.5 138.3,556.0 138.0,555.2" stroke-width="1.1"/>
<polyline points="174.7,562.2 174.7,563.7 174.3,565.1 175.2,566.3" stroke-width="1.1"/>
<polyline points="113.2,550.2 113.3,549.1 114.3,548.7 115.0,549.4" stroke-width="1.1"/>
<polyline points="128.5,559.1 129.5,558.8 129.7,557.8 128.8,557.2" stroke-width="1.1"/>
<polyline points="89.6,506.9 90.8,505.4 92.7,505.4 94.5,504.8" stroke-width="1.1"/>
<polyline points="139.3,560.3 140.0,559.1 140.6,557.9 139.6,556.9" stroke-width="1.1"/>
<polyline points="78.3,438.4 76.8,437.2 74.8,436.7 72.9,437.3" stroke-width="1.1"/>
<polyline points="85.8,438.5 86.1,437.4 86.9,436.6 87.9,436.1" stroke-width="1.1"/>
<polyline points="107.0,510.9 107.6,509.2 108.0,507.6 108.9,506.1" stroke-width="1.1"/>
<polyline points="167.1,560.7 166.7,561.5 166.8,562.5 166.6,563.3" stroke-width="1.1"/>
<polyline points="90.2,470.0 89.5,469.0 89.8,467.9 88.8,467.2" stroke-width="1.1"/>
<polyline points="112.5,542.5 113.7,542.6 114.5,543.5 115.7,544.0" stroke-width="1.1"/>
<polyline points="133.2,555.7 133.6,554.5 134.1,553.3 135.0,552.3" stroke-width="1.1"/>
<polyline points="159.9,558.2 159.1,556.5 158.8,554.7 157.6,553.3" stroke-width="1.1"/>
<polyline points="77.2,435.0 77.5,436.1 78.5,436.9 79.0,438.0" stroke-width="1.1"/>
<polyline points="123.1,557.2 122.4,555.5 121.1,554.2 121.8,552.5" stroke-width="1.1"/>
<polyline points="110.5,553.2 112.1,552.7 113.7,553.5 114.3,555.2" stroke-width="1.1"/>
<polyline points="97.9,502.4 96.9,500.9 97.9,499.4 99.2,498.1" stroke-width="1.1"/>
<polyline points="158.6,559.6 158.1,558.1 157.6,556.7 158.3,555.3" stroke-width="1.1"/>
<polyline points="93.5,482.1 93.4,480.4 94.2,478.8 95.4,477.5" stroke-width="1.1"/>
<polyline points="90.0,509.6 88.6,508.8 87.0,508.3 85.5,507.7" stroke-width="1.1"/>
<polyline points="90.3,449.6 91.1,449.0 92.0,449.5 92.0,450.5" stroke-width="1.1"/>
<polyline points="115.5,540.4 116.0,542.0 117.5,542.5 118.9,543.2" stroke-width="1.1"/>
<polyline points="82.9,449.4 82.6,450.5 82.3,451.6 81.9,452.6" stroke-width="1.1"/>
<polyline points="81.2,455.8 82.3,457.0 82.5,458.7 82.4,460.3" stroke-width="1.1"/>
<polyline points="85.2,477.4 83.4,478.1 81.7,477.3 80.4,475.8" stroke-width="1.1"/>
<polyline points="169.2,559.6 169.6,558.7 170.5,558.6 171.1,557.9" stroke-width="1.1"/>
<polyline points="103.5,514.4 102.7,515.3 102.7,516.4 101.9,517.2" stroke-width="1.1"/>
<polyline points="105.8,514.7 104.2,515.0 102.7,515.6 101.6,516.8" stroke-width="1.1"/>
<polyline points="102.5,508.2 103.5,507.9 104.6,508.1 105.6,508.3" stroke-width="1.1"/>
<polyline points="91.9,471.9 90.1,471.6 89.5,469.8 89.3,467.9" stroke-width="1.1"/>
<polyline points="84.9,496.5 85.8,496.1 86.8,496.3 87.6,495.7" stroke-width="1.1"/>
<polyline points="123.8,554.7 123.7,556.5 124.2,558.1 124.6,559.8" stroke-width="1.1"/>
<polyline points="92.9,507.6 92.0,509.0 92.5,510.5 94.1,510.7" stroke-width="1.1"/>
<polyline points="101.2,532.0 100.7,531.0 99.8,530.2 98.8,529.6" stroke-width="1.1"/>
<polyline points="98.0,510.5 99.6,511.6 101.6,511.5 103.0,512.8" stroke-width="1.1"/>
<polyline points="82.5,467.5 81.0,467.3 79.9,466.2 78.3,466.2" stroke-width="1.1"/>
<polyline points="162.9,562.3 161.9,560.7 160.5,559.5 158.7,559.5" stroke-width="1.1"/>
<polyline points="106.6,512.8 105.3,511.6 103.7,511.1 103.2,509.5" stroke-width="1.1"/>
<polyline points="125.9,554.7 126.4,555.6 126.7,556.6 127.6,557.0" stroke-width="1.1"/>
<polyline points="152.0,558.6 153.4,557.4 154.0,555.6 155.8,554.9" stroke-width="1.1"/>
<polyline points="106.4,520.4 106.1,518.5 105.6,516.5 106.8,514.9" stroke-width="1.1"/>
<polyline points="82.5,444.4 81.6,445.7 81.0,447.1 81.5,448.6" stroke-width="1.1"/>
<polyline points="96.8,452.9 94.8,453.0 93.2,453.9 92.7,455.8" stroke-width="1.1"/>
<polyline points="110.1,546.3 110.5,544.8 109.5,543.6 109.5,542.1" stroke-width="1.1"/>
<polyline points="166.3,561.7 166.2,563.2 165.3,564.3 164.4,565.4" stroke-width="1.1"/>
<polyline points="101.4,519.6 99.7,520.5 99.0,522.3 98.9,524.2" stroke-width="1.1"/>
<polyline points="120.3,556.1 119.4,557.3 118.8,558.7 117.6,559.6" stroke-width="1.1"/>
<polyline points="164.3,563.2 165.2,562.8 165.2,561.9 165.4,561.0" stroke-width="1.1"/>
<polyline points="91.0,472.7 91.5,474.0 91.8,475.4 92.4,476.7" stroke-width="1.1"/>
<polyline points="113.2,545.8 112.0,545.2 111.5,544.0 110.9,542.8" stroke-width="1.1"/>
<polyline points="168.0,561.9 166.6,562.0 165.5,561.2 164.1,561.0" stroke-width="1.1"/>
<polyline points="118.6,550.7 120.2,551.2 120.8,552.8 120.4,554.5" stroke-width="1.1"/>
<polyline points="85.7,500.5 85.3,501.7 84.5,502.7 83.2,502.7" stroke-width="1.1"/>
<polyline points="94.8,514.0 93.9,514.8 94.0,516.0 94.5,517.1" stroke-width="1.1"/>
<polyline points="70.6,436.2 71.3,434.9 70.4,433.7 69.1,433.1" stroke-width="1.1"/>
<polyline points="94.9,490.3 95.7,492.1 95.0,493.9 94.2,495.6" stroke-width="1.1"/>
<polyline points="168.6,558.2 167.5,557.9 166.4,558.5 165.9,559.7" stroke-width="1.1"/>
<polyline points="106.1,543.8 104.8,542.4 105.3,540.5 106.8,539.3" stroke-width="1.1"/>
<polyline points="79.9,476.9 80.0,475.9 79.2,475.3 78.5,474.6" stroke-width="1.1"/>
<polyline points="105.0,527.5 104.5,525.9 104.0,524.4 103.2,522.9" stroke-width="1.1"/>
<polyline points="90.0,503.7 91.4,504.3 93.0,504.5 94.5,504.8" stroke-width="1.1"/>
<polyline points="105.1,513.4 104.4,512.1 103.1,511.6 102.8,510.2" stroke-width="1.1"/>
<polyline points="102.3,515.9 103.0,517.3 103.5,518.7 103.8,520.3" stroke-width="1.1"/>
<polyline points="159.5,558.0 159.6,556.2 160.2,554.4 159.8,552.6" stroke-width="1.1"/>
<polyline points="89.8,494.7 88.3,494.7 87.4,495.9 86.0,495.6" stroke-width="1.1"/>
<polyline points="88.4,440.9 89.5,439.8 91.1,439.3 92.3,438.3" stroke-width="1.1"/>
<polyline points="96.1,496.9 96.8,496.4 97.3,495.7 97.4,494.8" stroke-width="1.1"/>
<polyline points="89.7,504.0 88.4,502.8 88.3,501.0 88.8,499.3" stroke-width="1.1"/>
<polyline points="98.1,508.9 99.2,508.7 100.2,509.3 101.2,508.8" stroke-width="1.1"/>
<polyline points="86.0,463.0 86.8,462.5 87.2,461.7 87.5,460.8" stroke-width="1.1"/>
<polyline points="108.6,509.8 109.7,510.1 110.8,509.8 111.7,509.2" stroke-width="1.1"/>
<polyline points="142.0,557.3 140.9,557.4 139.7,557.6 138.7,557.0" stroke-width="1.1"/>
<polyline points="87.8,480.2 87.5,479.3 87.7,478.5 87.1,477.8" stroke-width="1.1"/>
<polyline points="166.0,561.0 165.3,560.4 164.5,559.8 164.2,558.9" stroke-width="1.1"/>
<polyline points="98.9,544.3 99.8,545.0 100.9,544.8 101.5,543.8" stroke-width="1.1"/>
<polyline points="86.5,497.1 85.4,497.1 84.5,496.6 83.8,495.7" stroke-width="1.1"/>
<polyline points="123.2,558.5 122.2,557.6 121.0,557.6 120.1,556.7" stroke-width="1.1"/>
<polyline points="139.6,558.3 138.9,559.1 138.6,560.2 138.5,561.3" stroke-width="1.1"/>
<polyline points="114.3,538.2 115.2,537.9 116.0,537.5 116.1,536.6" stroke-width="1.1"/>
<polyline points="107.5,511.4 106.5,512.1 105.4,512.6 104.4,511.9" stroke-width="1.1"/>
<polyline points="158.9,556.6 160.4,557.3 161.8,558.2 162.1,559.9" stroke-width="1.1"/>
<polyline points="78.9,488.1 77.2,489.1 75.6,490.2 75.4,492.2" stroke-width="1.1"/>
<polyline points="124.4,557.6 124.8,556.2 123.9,555.1 122.5,554.8" stroke-width="1.1"/>
<polyline points="86.3,494.7 86.9,493.0 87.4,491.2 88.5,489.8" stroke-width="1.1"/>
<polyline points="80.1,439.8 78.6,440.3 77.3,439.5 75.7,439.2" stroke-width="1.1"/>
<polyline points="95.4,515.4 94.5,515.3 93.8,515.7 93.1,515.3" stroke-width="1.1"/>
<polyline points="96.8,513.9 96.3,513.0 95.8,512.2 96.2,511.3" stroke-width="1.1"/>
<polyline points="127.0,554.2 128.4,554.7 129.5,555.8 129.6,557.3" stroke-width="1.1"/>
<polyline points="151.4,556.7 152.0,554.8 153.5,553.7 155.4,553.5" stroke-width="1.1"/>
<polyline points="155.4,560.3 155.2,559.5 154.6,558.9 153.8,558.8" stroke-width="1.1"/>
<polyline points="85.0,446.0 85.4,446.8 85.2,447.7 85.3,448.5" stroke-width="1.1"/>
<polyline points="87.4,441.2 86.1,441.1 85.2,442.0 84.0,442.5" stroke-width="1.1"/>
<polyline points="93.1,498.9 92.4,498.2 91.6,497.4 90.6,497.4" stroke-width="1.1"/>
<polyline points="103.5,513.8 103.6,512.6 103.7,511.4 104.6,510.6" stroke-width="1.1"/>
<polyline points="87.0,439.8 85.7,439.5 84.8,438.5 84.3,437.2" stroke-width="1.1"/>
<polyline points="161.7,559.3 161.5,560.5 162.1,561.7 163.1,562.5" stroke-width="1.1"/>
<polyline points="98.7,499.3 100.4,499.0 101.6,497.9 102.4,496.4" stroke-width="1.1"/>
<polyline points="91.3,468.0 89.7,468.1 88.4,467.3 87.8,465.7" stroke-width="1.1"/>
<polyline points="110.9,523.5 110.8,521.9 111.0,520.4 112.3,519.5" stroke-width="1.1"/>
<polyline points="93.6,449.2 94.2,450.7 94.9,452.2 93.7,453.4" stroke-width="1.1"/>
<polyline points="106.3,538.5 105.4,539.4 104.2,539.1 103.2,539.9" stroke-width="1.1"/>
<polyline points="87.7,495.1 86.1,496.1 84.3,497.1 84.5,499.0" stroke-width="1.1"/>
<polyline points="156.4,558.0 156.8,556.9 157.0,555.7 157.0,554.5" stroke-width="1.1"/>
<polyline points="109.2,510.5 109.6,509.7 109.3,508.8 108.9,508.0" stroke-width="1.1"/>
<polyline points="103.8,512.2 105.2,512.0 106.2,511.0 106.7,509.7" stroke-width="1.1"/>
<polyline points="94.9,453.4 94.7,451.9 94.0,450.6 92.5,450.7" stroke-width="1.1"/>
<polygon points="91.6,532.1 91.2,533.0 89.6,533.0 88.1,533.0 88.4,532.1 88.5,531.4 89.6,530.9 90.3,531.7" fill="#000" stroke-width="0.8"/>
<polygon points="117.1,508.5 116.3,509.2 115.2,509.1 114.2,508.5 115.1,507.9 116.2,508.0" fill="#000" stroke-width="0.8"/>
<polygon points="100.7,556.1 99.6,557.3 98.3,556.4 97.6,555.5 99.3,555.5" fill="#000" stroke-width="0.8"/>
<polygon points="112.5,471.8 112.0,472.1 111.2,472.5 110.6,472.0 110.3,471.4 111.3,471.3 112.0,471.4" fill="#000" stroke-width="0.8"/>
<polygon points="108.0,542.3 107.4,543.2 105.3,543.0 105.9,541.8 107.6,541.0" fill="#000" stroke-width="0.8"/>
<polygon points="115.5,506.9 115.0,507.3 114.2,507.6 113.4,507.3 112.5,506.9 113.5,506.5 114.2,505.9 115.4,506.1" fill="#000" stroke-width="0.8"/>
<polygon points="85.7,476.3 84.8,477.0 83.0,477.5 83.0,476.3 83.2,475.4 84.9,475.4" fill="#000" stroke-width="0.8"/>
<polygon points="113.7,499.9 113.1,500.5 111.8,501.3 111.2,500.3 110.9,499.5 112.1,499.2 113.0,499.4" fill="#000" stroke-width="0.8"/>
<polygon points="103.3,529.2 102.3,529.9 100.9,530.0 100.5,529.2 101.2,528.7 102.1,528.7" fill="#000" stroke-width="0.8"/>
<polygon points="115.0,484.6 114.5,485.0 113.8,485.4 113.4,484.9 113.0,484.6 113.2,484.3 113.8,484.1 114.3,484.3" fill="#000" stroke-width="0.8"/>
<polygon points="88.6,500.4 87.3,501.4 85.6,501.2 83.8,500.4 85.4,499.4 87.5,499.2" fill="#000" stroke-width="0.8"/>
<polygon points="87.3,489.1 85.9,490.1 84.1,490.0 83.0,489.1 83.8,487.8 85.7,488.3" fill="#000" stroke-width="0.8"/>
<polygon points="103.7,494.8 102.5,495.5 100.5,495.6 101.0,494.3 102.6,494.0" fill="#000" stroke-width="0.8"/>
<polygon points="94.1,556.0 93.7,556.7 92.5,556.6 91.8,556.4 91.3,556.0 91.8,555.6 92.5,555.1 93.7,555.3" fill="#000" stroke-width="0.8"/>
<polygon points="87.7,480.7 87.1,481.2 86.2,481.4 85.6,481.0 85.7,480.5 86.2,480.2 87.1,480.2" fill="#000" stroke-width="0.8"/>
<polygon points="109.3,519.5 108.3,519.8 107.4,519.8 107.7,519.3 108.5,518.8" fill="#000" stroke-width="0.8"/>
<polygon points="91.4,534.0 90.5,534.5 89.8,534.5 88.7,534.4 88.5,533.6 89.6,533.2 90.9,533.3" fill="#000" stroke-width="0.8"/>
<polygon points="102.2,521.6 101.2,522.6 99.0,522.3 99.6,521.1 101.2,520.6" fill="#000" stroke-width="0.8"/>
<polygon points="168.6,557.1 168.4,557.4 167.9,557.8 167.3,557.5 166.7,557.1 167.4,556.8 167.9,556.4 168.5,556.8" fill="#000" stroke-width="0.8"/>
<polygon points="152.0,563.5 150.8,563.9 150.1,564.8 148.8,564.2 148.7,563.5 149.2,562.9 150.1,562.2 151.3,562.7" fill="#000" stroke-width="0.8"/>
<polygon points="169.2,562.2 167.6,563.4 165.6,562.8 164.7,561.2 167.4,561.2" fill="#000" stroke-width="0.8"/>
<polygon points="160.4,563.6 159.7,564.3 158.1,564.6 157.5,563.6 158.4,562.9 160.1,562.5" fill="#000" stroke-width="0.8"/>
<polygon points="142.1,558.0 142.1,558.7 141.0,558.6 140.1,558.6 139.9,558.0 140.5,557.7 141.0,557.2 141.9,557.5" fill="#000" stroke-width="0.8"/>
<polygon points="147.6,562.1 148.2,563.2 146.4,563.1 145.1,562.8 144.6,562.1 144.6,561.0 146.4,560.5 147.7,561.2" fill="#000" stroke-width="0.8"/>
<polygon points="141.2,556.8 140.9,557.7 139.3,557.5 137.5,556.8 139.0,555.7 140.9,555.8" fill="#000" stroke-width="0.8"/>
<polygon points="125.1,557.1 123.7,557.7 122.5,557.8 121.9,557.1 122.5,556.4 124.1,556.1" fill="#000" stroke-width="0.8"/>
<polygon points="123.9,557.0 123.3,558.2 121.2,558.0 120.5,557.0 121.2,555.9 123.1,556.0" fill="#000" stroke-width="0.8"/>
<polygon points="140.1,562.3 138.4,562.8 137.3,563.3 135.9,562.8 136.3,561.9 137.4,561.5 139.0,561.3" fill="#000" stroke-width="0.8"/>
<polygon points="96.5,467.7 95.9,468.6 94.2,468.3 94.3,467.2 96.1,466.6" fill="#000" stroke-width="0.8"/>
<polygon points="74.1,426.6 73.7,427.8 71.9,427.1 72.4,426.3 73.6,425.7" fill="#000" stroke-width="0.8"/>
<polygon points="79.8,459.9 79.0,460.6 77.7,460.3 77.5,459.4 79.0,459.4" fill="#000" stroke-width="0.8"/>
<polygon points="91.3,442.2 90.9,443.1 89.6,442.8 88.6,442.6 88.3,441.8 89.5,441.3 90.5,441.7" fill="#000" stroke-width="0.8"/>
<polygon points="92.7,449.5 91.7,450.0 90.5,450.2 89.6,449.5 90.2,448.4 91.8,448.8" fill="#000" stroke-width="0.8"/>
<polygon points="86.3,430.8 85.1,431.6 83.8,431.6 83.0,431.1 82.4,430.3 83.8,430.1 85.4,429.8" fill="#000" stroke-width="0.8"/>
<polygon points="82.1,440.4 81.0,440.9 79.6,441.0 80.2,440.2 81.1,439.9" fill="#000" stroke-width="0.8"/>
<polygon points="66.7,461.6 65.8,462.7 64.0,462.4 62.7,461.6 63.9,460.7 65.4,460.9" fill="#000" stroke-width="0.8"/>
<polyline points="123.3,519.7 122.0,520.3 121.6,522.0 120.9,522.7 119.9,525.2 118.8,526.8 120.0,527.2 119.4,528.5 120.9,528.6 123.1,530.0 123.8,531.9 123.0,531.9 121.1,534.1 120.4,535.2 118.9,535.2 118.1,537.6 118.9,538.4 122.0,539.2 123.4,538.4 124.7,540.9 125.1,540.5 127.1,541.1 129.0,540.9 131.2,540.0 131.3,540.3 133.0,540.1 136.3,541.7 136.1,541.0 138.1,540.6 139.7,541.3 141.6,539.9 142.2,538.9 143.5,538.5 146.1,537.3 146.3,536.1 148.3,536.1 150.6,534.8 151.9,534.4 152.5,533.1 154.0,532.9 155.2,532.1 156.6,530.3 158.1,530.4 158.7,529.0 161.1,529.2 163.7,527.3 165.2,527.4 165.5,525.9 166.9,526.5 169.7,526.4 171.6,525.8 173.1,525.5 173.5,525.3 176.0,525.0" stroke-width="0.9"/>
<polyline points="175.5,534.3 175.6,533.6 172.9,533.2 173.0,532.9 169.9,533.7 168.7,533.2 168.3,532.7 167.4,532.5 165.6,531.8 164.0,533.1 162.4,532.7 161.0,534.7 158.1,533.9 157.6,535.3 155.5,534.4 154.1,535.9 153.6,536.2 151.4,536.9 150.0,537.7 148.0,538.6 148.4,539.1 146.5,539.3 145.4,541.8 144.3,542.7 143.0,544.3 142.8,544.6 140.2,547.2 140.8,548.0 141.1,549.6 141.7,549.9 142.9,551.7 144.3,552.1 146.2,554.7 146.6,555.4 148.5,556.0 150.4,555.0 151.3,554.8 153.5,555.8 154.5,556.0 156.4,557.0 157.7,557.7 160.0,557.2 161.4,557.9 163.6,557.7 164.5,558.3 166.7,557.9 168.0,559.3 168.9,558.1 170.0,559.3 172.4,560.1 174.2,558.9 174.4,559.2 176.5,560.0" stroke-width="0.9"/>
<polyline points="129.5,533.3 132.1,533.8 132.6,533.8 134.2,533.3 136.4,532.8 136.8,534.2 138.7,533.5 140.6,534.2 141.2,533.7 143.5,533.4 144.7,532.9 147.5,532.0 148.5,531.0 150.0,531.0" stroke-width="0.9"/>
<polyline points="149.6,545.3 151.0,546.1 154.0,545.4 155.7,546.3 157.1,547.4 158.0,547.8 160.2,548.5 161.3,547.9 164.1,547.3 165.1,545.9 166.7,545.8 168.7,545.8 170.0,545.0" stroke-width="0.9"/>
<polyline points="126.1,525.5 127.8,526.6 128.7,527.4 131.0,526.6 133.1,527.0 133.7,528.4 135.5,529.4 136.9,530.6 138.0,532.0" stroke-width="0.9"/>
<polygon points="299.6,519.1 300.8,519.5 303.5,518.9 304.6,517.5 304.9,516.4 307.0,514.8 307.2,513.5 307.4,511.9 306.4,510.2 306.5,509.0 307.5,509.8 308.5,509.6 309.9,510.0 312.9,510.6 313.9,509.3 316.2,509.8 318.4,509.9 319.7,509.1 321.0,509.3 323.3,509.5 324.8,508.6 327.4,509.0 329.1,511.2 328.2,511.5 326.5,512.9 325.5,514.7 323.9,514.4 322.6,515.5 321.1,517.0 319.0,518.1 319.0,518.8 316.7,519.1 314.1,519.6 312.2,520.2 311.6,520.6 309.8,522.0 308.7,521.7 306.9,523.5 303.6,522.5 301.9,521.4 301.2,521.5 299.9,519.6" fill="#fff" stroke-width="1.5"/>
<polygon points="332.4,511.2 333.9,508.4 335.0,507.5 336.7,507.6 338.1,507.0 339.8,508.0 341.5,507.8 343.0,508.4 343.6,508.3 345.2,508.7 347.0,509.4 349.5,509.7 350.7,510.0 351.6,511.2 353.4,512.6 353.6,514.9 352.8,514.4 350.6,514.9 349.3,514.7 346.4,515.1 345.8,515.4 343.3,515.9 341.6,516.9 340.5,518.0 338.5,519.0 337.1,520.2 335.3,520.0 334.3,521.2 333.3,521.4 331.3,522.8 329.3,524.5 328.2,524.0 326.9,523.2 325.5,522.7 323.1,521.4 324.5,519.7 325.0,517.9 326.4,516.7 326.5,515.6 328.7,515.1 329.2,513.2 330.8,513.6 331.7,510.9 332.7,510.6" fill="#fff" stroke-width="1.5"/>
<polygon points="306.3,515.5 307.3,514.5 308.2,513.9 309.5,512.2 311.5,512.3 312.6,512.3 313.0,513.9 313.9,514.2 313.3,515.3 312.6,515.1 310.7,516.6 310.3,517.4 309.5,518.3 307.9,518.2 306.2,518.8 304.9,519.2 304.9,517.7 305.4,516.6 306.0,515.0" fill="#000" stroke-width="0.8"/>
<polygon points="324.3,517.4 325.4,517.8 327.0,516.7 327.8,515.9 328.4,515.3 330.5,515.4 331.0,515.7 332.4,516.0 334.1,517.0 333.7,517.4 331.9,519.1 331.9,519.8 331.3,521.4 330.3,521.0 328.0,521.6 326.9,522.6 326.6,523.5 326.0,521.2 324.5,520.5 325.0,519.7 324.0,518.0" fill="#000" stroke-width="0.8"/>
<polygon points="345.5,510.3 346.2,510.7 347.5,510.5 348.7,510.5 349.3,511.4 351.2,510.7 352.0,512.5 350.7,513.5 349.2,512.9 348.0,513.3 346.7,513.0 346.2,512.8 345.8,512.0 345.0,510.0" fill="#000" stroke-width="0.8"/>
<polygon points="336.5,514.2 338.6,513.7 340.1,513.1 340.7,512.4 341.9,512.8 343.2,513.7 342.4,514.9 341.4,514.9 340.5,516.5 338.4,516.9 338.2,515.7 337.2,515.6 337.0,514.0" fill="#000" stroke-width="0.8"/>
<polygon points="315.1,511.4 315.7,512.0 317.9,511.5 319.0,510.9 319.6,511.6 319.2,512.8 319.0,514.1 318.0,514.9 316.5,513.8 316.3,512.9 315.0,512.0" fill="#000" stroke-width="0.8"/>
<path d="M283,305 l3,-2 l2,4 l-1,5 l-3,3 l-2,-4 z" fill="#000" stroke="none"/>
<polyline points="211.0,451.0 218.0,450.0 224.0,452.0" stroke-width="1.8"/>
<polyline points="170.0,484.0 176.0,485.5 181.0,489.0" stroke-width="1.8"/>
<polyline points="162.5,503.0 168.5,503.5" stroke-width="1.8"/>
<polyline points="160.0,512.5 171.0,513.5" stroke-width="1.8"/>
<polyline points="236.0,379.0 242.0,381.0" stroke-width="1.8"/>
<polyline points="152.0,24.5 153.5,21.0" stroke-width="1.8"/>
<ellipse cx="247" cy="565" rx="7" ry="1.8" fill="#000" stroke="none"/>
</g>
</g></g>
<g shape-rendering="crispEdges"><line x1="61" y1="17.5" x2="432" y2="17.5" stroke="#111" stroke-width="1.4"/><line x1="61.5" y1="17" x2="61.5" y2="576" stroke="#555" stroke-width="1.2"/><line x1="431.5" y1="17" x2="431.5" y2="576" stroke="#111" stroke-width="1.4"/><line x1="61" y1="575.5" x2="432" y2="575.5" stroke="#444" stroke-width="1.3"/></g>
<line x1="73.1" y1="12.5" x2="73.1" y2="17" stroke="#222" stroke-width="1.2"/>
<line x1="73.1" y1="575" x2="73.1" y2="579.5" stroke="#222" stroke-width="1.2"/>
<line x1="154.4" y1="12.5" x2="154.4" y2="17" stroke="#222" stroke-width="1.2"/>
<line x1="154.4" y1="575" x2="154.4" y2="579.5" stroke="#222" stroke-width="1.2"/>
<line x1="235.6" y1="12.5" x2="235.6" y2="17" stroke="#222" stroke-width="1.2"/>
<line x1="235.6" y1="575" x2="235.6" y2="579.5" stroke="#222" stroke-width="1.2"/>
<line x1="316.9" y1="12.5" x2="316.9" y2="17" stroke="#222" stroke-width="1.2"/>
<line x1="316.9" y1="575" x2="316.9" y2="579.5" stroke="#222" stroke-width="1.2"/>
<line x1="398.2" y1="12.5" x2="398.2" y2="17" stroke="#222" stroke-width="1.2"/>
<line x1="398.2" y1="575" x2="398.2" y2="579.5" stroke="#222" stroke-width="1.2"/>
<line x1="57" y1="82.5" x2="61" y2="82.5" stroke="#222" stroke-width="1.2"/>
<line x1="431" y1="82.5" x2="435" y2="82.5" stroke="#222" stroke-width="1.2"/>
<line x1="57" y1="163.47" x2="61" y2="163.47" stroke="#222" stroke-width="1.2"/>
<line x1="431" y1="163.47" x2="435" y2="163.47" stroke="#222" stroke-width="1.2"/>
<line x1="57" y1="244.44" x2="61" y2="244.44" stroke="#222" stroke-width="1.2"/>
<line x1="431" y1="244.44" x2="435" y2="244.44" stroke="#222" stroke-width="1.2"/>
<line x1="57" y1="325.40999999999997" x2="61" y2="325.40999999999997" stroke="#222" stroke-width="1.2"/>
<line x1="431" y1="325.40999999999997" x2="435" y2="325.40999999999997" stroke="#222" stroke-width="1.2"/>
<line x1="57" y1="406.38" x2="61" y2="406.38" stroke="#222" stroke-width="1.2"/>
<line x1="431" y1="406.38" x2="435" y2="406.38" stroke="#222" stroke-width="1.2"/>
<line x1="57" y1="487.35" x2="61" y2="487.35" stroke="#222" stroke-width="1.2"/>
<line x1="431" y1="487.35" x2="435" y2="487.35" stroke="#222" stroke-width="1.2"/>
<line x1="57" y1="568.3199999999999" x2="61" y2="568.3199999999999" stroke="#222" stroke-width="1.2"/>
<line x1="431" y1="568.3199999999999" x2="435" y2="568.3199999999999" stroke="#222" stroke-width="1.2"/>
<text x="23.55" y="88.10" class="ax" textLength="32.25" lengthAdjust="spacingAndGlyphs">25ºS</text>
<text x="23.55" y="169.07" class="ax" textLength="32.25" lengthAdjust="spacingAndGlyphs">30ºS</text>
<text x="23.55" y="250.04" class="ax" textLength="32.25" lengthAdjust="spacingAndGlyphs">35ºS</text>
<text x="23.55" y="331.01" class="ax" textLength="32.25" lengthAdjust="spacingAndGlyphs">40ºS</text>
<text x="23.55" y="411.98" class="ax" textLength="32.25" lengthAdjust="spacingAndGlyphs">45ºS</text>
<text x="23.55" y="492.95" class="ax" textLength="32.25" lengthAdjust="spacingAndGlyphs">50ºS</text>
<text x="23.55" y="573.92" class="ax" textLength="32.25" lengthAdjust="spacingAndGlyphs">55ºS</text>
<text x="56.32" y="593.2" class="ax" textLength="33.56" lengthAdjust="spacingAndGlyphs">75ºO</text>
<text x="137.62" y="593.2" class="ax" textLength="33.56" lengthAdjust="spacingAndGlyphs">70ºO</text>
<text x="218.82" y="593.2" class="ax" textLength="33.56" lengthAdjust="spacingAndGlyphs">65ºO</text>
<text x="300.12" y="593.2" class="ax" textLength="33.56" lengthAdjust="spacingAndGlyphs">60ºO</text>
<text x="381.42" y="593.2" class="ax" textLength="33.56" lengthAdjust="spacingAndGlyphs">55ºO</text>
<g shape-rendering="crispEdges"><line x1="541" y1="17.5" x2="901.5" y2="17.5" stroke="#111" stroke-width="1.4"/><line x1="541.5" y1="17" x2="541.5" y2="576" stroke="#555" stroke-width="1.2"/><line x1="901.0" y1="17" x2="901.0" y2="576" stroke="#111" stroke-width="1.4"/><line x1="541" y1="575.5" x2="901.5" y2="575.5" stroke="#444" stroke-width="1.3"/></g>
<line x1="552.5" y1="12.5" x2="552.5" y2="17" stroke="#222" stroke-width="1.2"/>
<line x1="552.5" y1="575" x2="552.5" y2="579.5" stroke="#222" stroke-width="1.2"/>
<line x1="631.5" y1="12.5" x2="631.5" y2="17" stroke="#222" stroke-width="1.2"/>
<line x1="631.5" y1="575" x2="631.5" y2="579.5" stroke="#222" stroke-width="1.2"/>
<line x1="710.5" y1="12.5" x2="710.5" y2="17" stroke="#222" stroke-width="1.2"/>
<line x1="710.5" y1="575" x2="710.5" y2="579.5" stroke="#222" stroke-width="1.2"/>
<line x1="789.5" y1="12.5" x2="789.5" y2="17" stroke="#222" stroke-width="1.2"/>
<line x1="789.5" y1="575" x2="789.5" y2="579.5" stroke="#222" stroke-width="1.2"/>
<line x1="868.5" y1="12.5" x2="868.5" y2="17" stroke="#222" stroke-width="1.2"/>
<line x1="868.5" y1="575" x2="868.5" y2="579.5" stroke="#222" stroke-width="1.2"/>
<line x1="537" y1="82.5" x2="541" y2="82.5" stroke="#222" stroke-width="1.2"/>
<line x1="900.5" y1="82.5" x2="904.5" y2="82.5" stroke="#222" stroke-width="1.2"/>
<line x1="537" y1="163.47" x2="541" y2="163.47" stroke="#222" stroke-width="1.2"/>
<line x1="900.5" y1="163.47" x2="904.5" y2="163.47" stroke="#222" stroke-width="1.2"/>
<line x1="537" y1="244.44" x2="541" y2="244.44" stroke="#222" stroke-width="1.2"/>
<line x1="900.5" y1="244.44" x2="904.5" y2="244.44" stroke="#222" stroke-width="1.2"/>
<line x1="537" y1="325.40999999999997" x2="541" y2="325.40999999999997" stroke="#222" stroke-width="1.2"/>
<line x1="900.5" y1="325.40999999999997" x2="904.5" y2="325.40999999999997" stroke="#222" stroke-width="1.2"/>
<line x1="537" y1="406.38" x2="541" y2="406.38" stroke="#222" stroke-width="1.2"/>
<line x1="900.5" y1="406.38" x2="904.5" y2="406.38" stroke="#222" stroke-width="1.2"/>
<line x1="537" y1="487.35" x2="541" y2="487.35" stroke="#222" stroke-width="1.2"/>
<line x1="900.5" y1="487.35" x2="904.5" y2="487.35" stroke="#222" stroke-width="1.2"/>
<line x1="537" y1="568.3199999999999" x2="541" y2="568.3199999999999" stroke="#222" stroke-width="1.2"/>
<line x1="900.5" y1="568.3199999999999" x2="904.5" y2="568.3199999999999" stroke="#222" stroke-width="1.2"/>
<text x="503.55" y="88.10" class="ax" textLength="32.25" lengthAdjust="spacingAndGlyphs">25ºS</text>
<text x="503.55" y="169.07" class="ax" textLength="32.25" lengthAdjust="spacingAndGlyphs">30ºS</text>
<text x="503.55" y="250.04" class="ax" textLength="32.25" lengthAdjust="spacingAndGlyphs">35ºS</text>
<text x="503.55" y="331.01" class="ax" textLength="32.25" lengthAdjust="spacingAndGlyphs">40ºS</text>
<text x="503.55" y="411.98" class="ax" textLength="32.25" lengthAdjust="spacingAndGlyphs">45ºS</text>
<text x="503.55" y="492.95" class="ax" textLength="32.25" lengthAdjust="spacingAndGlyphs">50ºS</text>
<text x="503.55" y="573.92" class="ax" textLength="32.25" lengthAdjust="spacingAndGlyphs">55ºS</text>
<text x="535.72" y="593.2" class="ax" textLength="33.56" lengthAdjust="spacingAndGlyphs">75ºO</text>
<text x="614.72" y="593.2" class="ax" textLength="33.56" lengthAdjust="spacingAndGlyphs">70ºO</text>
<text x="693.72" y="593.2" class="ax" textLength="33.56" lengthAdjust="spacingAndGlyphs">65ºO</text>
<text x="772.72" y="593.2" class="ax" textLength="33.56" lengthAdjust="spacingAndGlyphs">60ºO</text>
<text x="851.72" y="593.2" class="ax" textLength="33.56" lengthAdjust="spacingAndGlyphs">55ºO</text>
<g transform="translate(0,0)">
<path d="M 126.2 45.2 A 21.35 21.35 0 1 0 126.2 67.2" fill="none" stroke="#f6a81d" stroke-width="9.1"/>
<path d="M104.2,48.6 C108,46.5 112,46.2 119.7,46.4 C125,46.8 127,48.3 129.5,48.2 C134,48.1 137,47.7 141.3,45.2 L141.3,49.8 C140.5,52 139.5,53.5 137,54.2 C133,55 131,54.9 129.5,54.8 C125,54.5 122,52.8 119.7,52.8 L109.8,52.8 C107,53 105.5,54 104.2,55.2 Z" fill="#1b8ed1"/>
<path d="M104.2,59.7 C108,57.5 112,57.3 119.7,57.5 C125,57.9 127,59.4 129.5,59.4 C134,59.2 137,58.8 141.3,56.5 L141.3,61.2 C140.5,63.4 139.5,64.6 137,65.2 C133,66 131,65.9 129.5,65.8 C125,65.5 122,64.1 119.7,64.1 L109.8,64.1 C107,64.3 105.5,65.2 104.2,66.6 Z" fill="#1b8ed1"/>
<text x="80.6" y="106.8" class="smn" textLength="57" lengthAdjust="spacingAndGlyphs" stroke="#fff" stroke-width="0.9">SMN</text>
</g>
<g transform="translate(476.5,-3)">
<path d="M 126.2 45.2 A 21.35 21.35 0 1 0 126.2 67.2" fill="none" stroke="#f6a81d" stroke-width="9.1"/>
<path d="M104.2,48.6 C108,46.5 112,46.2 119.7,46.4 C125,46.8 127,48.3 129.5,48.2 C134,48.1 137,47.7 141.3,45.2 L141.3,49.8 C140.5,52 139.5,53.5 137,54.2 C133,55 131,54.9 129.5,54.8 C125,54.5 122,52.8 119.7,52.8 L109.8,52.8 C107,53 105.5,54 104.2,55.2 Z" fill="#1b8ed1"/>
<path d="M104.2,59.7 C108,57.5 112,57.3 119.7,57.5 C125,57.9 127,59.4 129.5,59.4 C134,59.2 137,58.8 141.3,56.5 L141.3,61.2 C140.5,63.4 139.5,64.6 137,65.2 C133,66 131,65.9 129.5,65.8 C125,65.5 122,64.1 119.7,64.1 L109.8,64.1 C107,64.3 105.5,65.2 104.2,66.6 Z" fill="#1b8ed1"/>
<text x="80.6" y="106.8" class="smn" textLength="57" lengthAdjust="spacingAndGlyphs" stroke="#fff" stroke-width="0.9">SMN</text>
</g>
<rect x="437.7" y="108.00" width="23.8" height="16.47" fill="#d20014"/>
<rect x="437.7" y="124.17" width="23.8" height="16.47" fill="#ff0a0a"/>
<rect x="437.7" y="140.35" width="23.8" height="16.47" fill="#ff4020"/>
<rect x="437.7" y="156.52" width="23.8" height="16.47" fill="#ff6428"/>
<rect x="437.7" y="172.70" width="23.8" height="16.47" fill="#ff7d32"/>
<rect x="437.7" y="188.87" width="23.8" height="16.47" fill="#ff9650"/>
<rect x="437.7" y="205.04" width="23.8" height="16.47" fill="#ffaf64"/>
<rect x="437.7" y="221.22" width="23.8" height="16.47" fill="#ffc850"/>
<rect x="437.7" y="237.39" width="23.8" height="16.47" fill="#ffe399"/>
<rect x="437.7" y="253.57" width="23.8" height="16.47" fill="#e2ee85"/>
<rect x="437.7" y="269.74" width="23.8" height="16.47" fill="#bcf86c"/>
<rect x="437.7" y="285.91" width="23.8" height="16.47" fill="#60fc7f"/>
<rect x="437.7" y="302.09" width="23.8" height="16.47" fill="#4aeeaa"/>
<rect x="437.7" y="318.26" width="23.8" height="16.47" fill="#b3f4ff"/>
<rect x="437.7" y="334.43" width="23.8" height="16.47" fill="#80eefb"/>
<rect x="437.7" y="350.61" width="23.8" height="16.47" fill="#68dcfa"/>
<rect x="437.7" y="366.78" width="23.8" height="16.47" fill="#55c8ff"/>
<rect x="437.7" y="382.96" width="23.8" height="16.47" fill="#3ab4ff"/>
<rect x="437.7" y="399.13" width="23.8" height="16.47" fill="#1ea0ff"/>
<rect x="437.7" y="415.30" width="23.8" height="16.47" fill="#148cff"/>
<rect x="437.7" y="431.48" width="23.8" height="16.47" fill="#0a78f5"/>
<rect x="437.7" y="447.65" width="23.8" height="16.47" fill="#0a64e6"/>
<rect x="437.7" y="463.83" width="23.8" height="16.47" fill="#0a50d2"/>
<line x1="437.7" x2="461.5" y1="124.17" y2="124.17" stroke="#3a1010" stroke-width="1.1"/>
<line x1="437.7" x2="461.5" y1="140.35" y2="140.35" stroke="#3a1010" stroke-width="1.1"/>
<line x1="437.7" x2="461.5" y1="156.52" y2="156.52" stroke="#3a1010" stroke-width="1.1"/>
<line x1="437.7" x2="461.5" y1="172.70" y2="172.70" stroke="#3a1010" stroke-width="1.1"/>
<line x1="437.7" x2="461.5" y1="188.87" y2="188.87" stroke="#3a1010" stroke-width="1.1"/>
<line x1="437.7" x2="461.5" y1="205.04" y2="205.04" stroke="#3a1010" stroke-width="1.1"/>
<line x1="437.7" x2="461.5" y1="221.22" y2="221.22" stroke="#3a1010" stroke-width="1.1"/>
<line x1="437.7" x2="461.5" y1="237.39" y2="237.39" stroke="#3a1010" stroke-width="1.1"/>
<line x1="437.7" x2="461.5" y1="253.57" y2="253.57" stroke="#3a1010" stroke-width="1.1"/>
<line x1="437.7" x2="461.5" y1="269.74" y2="269.74" stroke="#3a1010" stroke-width="1.1"/>
<line x1="437.7" x2="461.5" y1="285.91" y2="285.91" stroke="#3a1010" stroke-width="1.1"/>
<line x1="437.7" x2="461.5" y1="302.09" y2="302.09" stroke="#3a1010" stroke-width="1.1"/>
<line x1="437.7" x2="461.5" y1="318.26" y2="318.26" stroke="#3a1010" stroke-width="1.1"/>
<line x1="437.7" x2="461.5" y1="334.43" y2="334.43" stroke="#3a1010" stroke-width="1.1"/>
<line x1="437.7" x2="461.5" y1="350.61" y2="350.61" stroke="#3a1010" stroke-width="1.1"/>
<line x1="437.7" x2="461.5" y1="366.78" y2="366.78" stroke="#3a1010" stroke-width="1.1"/>
<line x1="437.7" x2="461.5" y1="382.96" y2="382.96" stroke="#3a1010" stroke-width="1.1"/>
<line x1="437.7" x2="461.5" y1="399.13" y2="399.13" stroke="#3a1010" stroke-width="1.1"/>
<line x1="437.7" x2="461.5" y1="415.30" y2="415.30" stroke="#3a1010" stroke-width="1.1"/>
<line x1="437.7" x2="461.5" y1="431.48" y2="431.48" stroke="#3a1010" stroke-width="1.1"/>
<line x1="437.7" x2="461.5" y1="447.65" y2="447.65" stroke="#3a1010" stroke-width="1.1"/>
<line x1="437.7" x2="461.5" y1="463.83" y2="463.83" stroke="#3a1010" stroke-width="1.1"/>
<rect x="437.7" y="108.0" width="23.8" height="372" fill="none" stroke="#2a2a2a" stroke-width="1"/>
<text x="464.5" y="129.77" class="cb" textLength="16.55" lengthAdjust="spacingAndGlyphs">36</text>
<text x="464.5" y="145.95" class="cb" textLength="16.55" lengthAdjust="spacingAndGlyphs">34</text>
<text x="464.5" y="162.12" class="cb" textLength="16.55" lengthAdjust="spacingAndGlyphs">32</text>
<text x="464.5" y="178.30" class="cb" textLength="16.55" lengthAdjust="spacingAndGlyphs">30</text>
<text x="464.5" y="194.47" class="cb" textLength="16.55" lengthAdjust="spacingAndGlyphs">28</text>
<text x="464.5" y="210.64" class="cb" textLength="16.55" lengthAdjust="spacingAndGlyphs">26</text>
<text x="464.5" y="226.82" class="cb" textLength="16.55" lengthAdjust="spacingAndGlyphs">24</text>
<text x="464.5" y="242.99" class="cb" textLength="16.55" lengthAdjust="spacingAndGlyphs">22</text>
<text x="464.5" y="259.17" class="cb" textLength="16.55" lengthAdjust="spacingAndGlyphs">20</text>
<text x="464.5" y="275.34" class="cb" textLength="16.55" lengthAdjust="spacingAndGlyphs">18</text>
<text x="464.5" y="291.51" class="cb" textLength="16.55" lengthAdjust="spacingAndGlyphs">16</text>
<text x="464.5" y="307.69" class="cb" textLength="16.55" lengthAdjust="spacingAndGlyphs">14</text>
<text x="464.5" y="323.86" class="cb" textLength="16.55" lengthAdjust="spacingAndGlyphs">12</text>
<text x="464.5" y="340.03" class="cb" textLength="16.55" lengthAdjust="spacingAndGlyphs">10</text>
<text x="464.5" y="356.21" class="cb" textLength="8.28" lengthAdjust="spacingAndGlyphs">8</text>
<text x="464.5" y="372.38" class="cb" textLength="8.28" lengthAdjust="spacingAndGlyphs">6</text>
<text x="464.5" y="388.56" class="cb" textLength="8.28" lengthAdjust="spacingAndGlyphs">4</text>
<text x="464.5" y="404.73" class="cb" textLength="8.28" lengthAdjust="spacingAndGlyphs">2</text>
<text x="464.5" y="420.90" class="cb" textLength="8.28" lengthAdjust="spacingAndGlyphs">0</text>
<text x="464.5" y="437.08" class="cb" textLength="13.23" lengthAdjust="spacingAndGlyphs">-2</text>
<text x="464.5" y="453.25" class="cb" textLength="13.23" lengthAdjust="spacingAndGlyphs">-4</text>
<text x="464.5" y="469.43" class="cb" textLength="13.23" lengthAdjust="spacingAndGlyphs">-6</text>
<rect x="910.2" y="102.70" width="23.8" height="23.57" fill="#121212"/>
<rect x="910.2" y="125.97" width="23.8" height="23.57" fill="#323232"/>
<rect x="910.2" y="149.24" width="23.8" height="23.57" fill="#4f4f4f"/>
<rect x="910.2" y="172.51" width="23.8" height="23.57" fill="#763030"/>
<rect x="910.2" y="195.78" width="23.8" height="23.57" fill="#7d3500"/>
<rect x="910.2" y="219.04" width="23.8" height="23.57" fill="#b80000"/>
<rect x="910.2" y="242.31" width="23.8" height="23.57" fill="#f03200"/>
<rect x="910.2" y="265.58" width="23.8" height="23.57" fill="#ff6666"/>
<rect x="910.2" y="288.85" width="23.8" height="23.57" fill="#ff9e9e"/>
<rect x="910.2" y="312.12" width="23.8" height="23.57" fill="#ffe4e4"/>
<rect x="910.2" y="335.39" width="23.8" height="23.57" fill="#e8e8fc"/>
<rect x="910.2" y="358.66" width="23.8" height="23.57" fill="#c9c9f8"/>
<rect x="910.2" y="381.93" width="23.8" height="23.57" fill="#9c9cf4"/>
<rect x="910.2" y="405.19" width="23.8" height="23.57" fill="#5c5cc8"/>
<rect x="910.2" y="428.46" width="23.8" height="23.57" fill="#0a2a98"/>
<rect x="910.2" y="451.73" width="23.8" height="23.57" fill="#000066"/>
<line x1="910.2" x2="934" y1="125.97" y2="125.97" stroke="#302020" stroke-width="1"/>
<line x1="910.2" x2="934" y1="149.24" y2="149.24" stroke="#302020" stroke-width="1"/>
<line x1="910.2" x2="934" y1="172.51" y2="172.51" stroke="#302020" stroke-width="1"/>
<line x1="910.2" x2="934" y1="195.78" y2="195.78" stroke="#302020" stroke-width="1"/>
<line x1="910.2" x2="934" y1="219.04" y2="219.04" stroke="#302020" stroke-width="1"/>
<line x1="910.2" x2="934" y1="242.31" y2="242.31" stroke="#302020" stroke-width="1"/>
<line x1="910.2" x2="934" y1="265.58" y2="265.58" stroke="#302020" stroke-width="1"/>
<line x1="910.2" x2="934" y1="288.85" y2="288.85" stroke="#302020" stroke-width="1"/>
<line x1="910.2" x2="934" y1="312.12" y2="312.12" stroke="#302020" stroke-width="1"/>
<line x1="910.2" x2="934" y1="335.39" y2="335.39" stroke="#302020" stroke-width="1"/>
<line x1="910.2" x2="934" y1="358.66" y2="358.66" stroke="#302020" stroke-width="1"/>
<line x1="910.2" x2="934" y1="381.93" y2="381.93" stroke="#302020" stroke-width="1"/>
<line x1="910.2" x2="934" y1="405.19" y2="405.19" stroke="#302020" stroke-width="1"/>
<line x1="910.2" x2="934" y1="428.46" y2="428.46" stroke="#302020" stroke-width="1"/>
<line x1="910.2" x2="934" y1="451.73" y2="451.73" stroke="#302020" stroke-width="1"/>
<rect x="910.2" y="102.7" width="23.8" height="372.3" fill="none" stroke="#2a2a2a" stroke-width="1"/>
<text x="936.5" y="131.57" class="cb" textLength="8.28" lengthAdjust="spacingAndGlyphs">8</text>
<text x="936.5" y="154.84" class="cb" textLength="8.28" lengthAdjust="spacingAndGlyphs">7</text>
<text x="936.5" y="178.11" class="cb" textLength="8.28" lengthAdjust="spacingAndGlyphs">6</text>
<text x="936.5" y="201.38" class="cb" textLength="8.28" lengthAdjust="spacingAndGlyphs">5</text>
<text x="936.5" y="224.64" class="cb" textLength="8.28" lengthAdjust="spacingAndGlyphs">4</text>
<text x="936.5" y="247.91" class="cb" textLength="8.28" lengthAdjust="spacingAndGlyphs">3</text>
<text x="936.5" y="271.18" class="cb" textLength="8.28" lengthAdjust="spacingAndGlyphs">2</text>
<text x="936.5" y="294.45" class="cb" textLength="8.28" lengthAdjust="spacingAndGlyphs">1</text>
<text x="936.5" y="317.72" class="cb" textLength="20.69" lengthAdjust="spacingAndGlyphs">0.5</text>
<text x="936.5" y="340.99" class="cb" textLength="8.28" lengthAdjust="spacingAndGlyphs">0</text>
<text x="936.5" y="364.26" class="cb" textLength="25.64" lengthAdjust="spacingAndGlyphs">-0.5</text>
<text x="936.5" y="387.53" class="cb" textLength="13.23" lengthAdjust="spacingAndGlyphs">-1</text>
<text x="936.5" y="410.79" class="cb" textLength="13.23" lengthAdjust="spacingAndGlyphs">-2</text>
<text x="936.5" y="434.06" class="cb" textLength="13.23" lengthAdjust="spacingAndGlyphs">-3</text>
<text x="936.5" y="457.33" class="cb" textLength="13.23" lengthAdjust="spacingAndGlyphs">-4</text>
<g class="t1">
<text x="279.6" y="422.6" textLength="88.4" lengthAdjust="spacingAndGlyphs">Temperatura</text>
<text x="287.4" y="440.4" textLength="74.2" lengthAdjust="spacingAndGlyphs">media (ºC)</text>
<text x="268.1" y="473" textLength="108.2" lengthAdjust="spacingAndGlyphs">Primera década</text>
<text x="264.8" y="491" textLength="118.9" lengthAdjust="spacingAndGlyphs">de Junio de 2023</text>
</g>
<g class="t2" text-anchor="middle">
<text x="797" y="422.7" textLength="146.6" lengthAdjust="spacingAndGlyphs">Anomalía de temperatura</text>
<text x="799.6" y="439.3" textLength="62.8" lengthAdjust="spacingAndGlyphs">media (°C)</text>
<text x="797.5" y="470.7" textLength="90" lengthAdjust="spacingAndGlyphs">Primera década</text>
<text x="799.2" y="487.3" textLength="98.6" lengthAdjust="spacingAndGlyphs">de Junio de 2023</text>
</g>
<text x="794.7" y="569.8" class="st" textLength="100.8" lengthAdjust="spacingAndGlyphs">E stadistica 1991-2020</text>
</svg>
</body></html>
